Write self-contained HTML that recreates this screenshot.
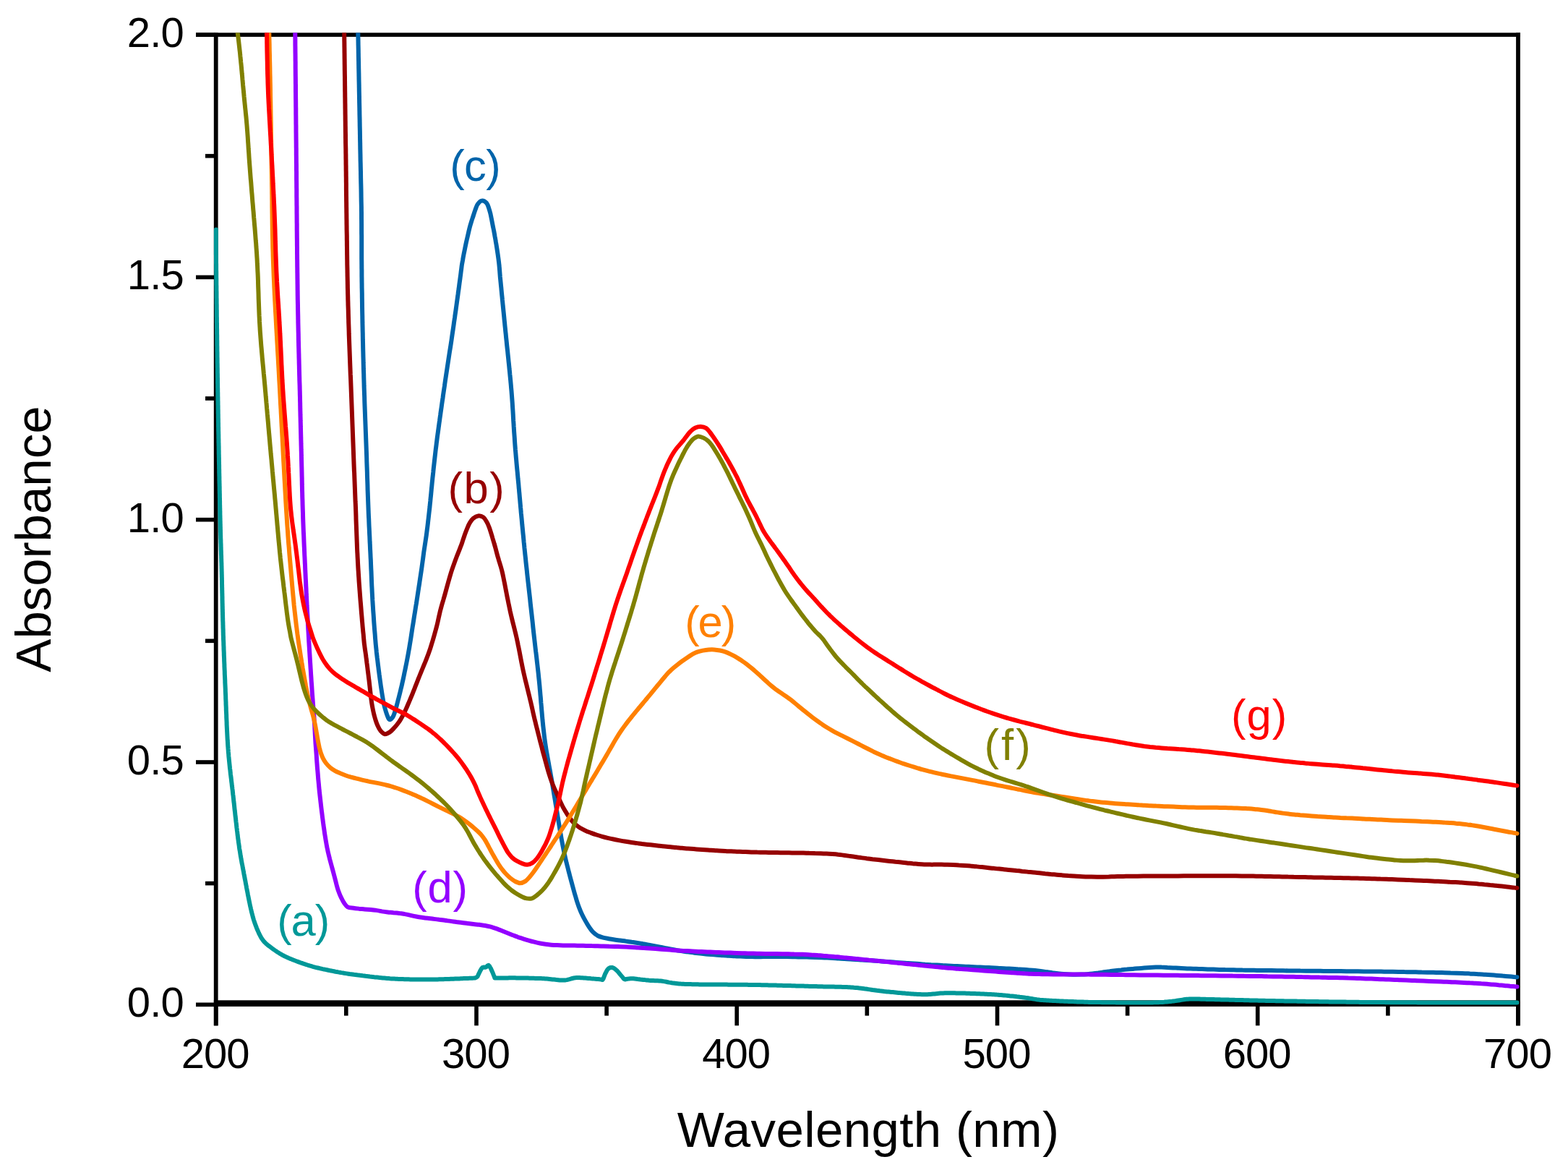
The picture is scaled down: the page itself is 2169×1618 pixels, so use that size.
<!DOCTYPE html>
<html><head><meta charset="utf-8"><title>Absorbance spectra</title>
<style>html,body{margin:0;padding:0;background:#fff;}body{width:2169px;height:1618px;overflow:hidden;}svg{display:block;}</style>
</head><body>
<svg xmlns="http://www.w3.org/2000/svg" width="2169" height="1618" viewBox="0 0 2169 1618">
<defs><clipPath id="pc"><rect x="290" y="45.3" width="1813" height="1350"/></clipPath></defs>
<rect width="100%" height="100%" fill="#fff"/>
<rect x="295.8" y="45.3" width="5.8" height="1373" fill="#000"/>
<rect x="2097.1" y="45.3" width="5.8" height="1373" fill="#000"/>
<rect x="271" y="45.3" width="1832" height="5.6" fill="#000"/>
<rect x="295.8" y="1383.3" width="1807" height="8.6" fill="#000"/>
<rect x="271" y="1386.5" width="27" height="5.6" fill="#000"/>
<rect x="284" y="1218.8" width="14" height="5.6" fill="#000"/>
<rect x="271" y="1051.2" width="27" height="5.6" fill="#000"/>
<rect x="284" y="883.5" width="14" height="5.6" fill="#000"/>
<rect x="271" y="715.9" width="27" height="5.6" fill="#000"/>
<rect x="284" y="548.2" width="14" height="5.6" fill="#000"/>
<rect x="271" y="380.6" width="27" height="5.6" fill="#000"/>
<rect x="284" y="212.9" width="14" height="5.6" fill="#000"/>
<rect x="271" y="45.3" width="27" height="5.6" fill="#000"/>
<rect x="295.9" y="1388" width="5.6" height="30.3" fill="#000"/>
<rect x="476.0" y="1388" width="5.6" height="16.6" fill="#000"/>
<rect x="656.2" y="1388" width="5.6" height="30.3" fill="#000"/>
<rect x="836.3" y="1388" width="5.6" height="16.6" fill="#000"/>
<rect x="1016.4" y="1388" width="5.6" height="30.3" fill="#000"/>
<rect x="1196.5" y="1388" width="5.6" height="16.6" fill="#000"/>
<rect x="1376.7" y="1388" width="5.6" height="30.3" fill="#000"/>
<rect x="1556.8" y="1388" width="5.6" height="16.6" fill="#000"/>
<rect x="1736.9" y="1388" width="5.6" height="30.3" fill="#000"/>
<rect x="1917.1" y="1388" width="5.6" height="16.6" fill="#000"/>
<rect x="2097.2" y="1388" width="5.6" height="30.3" fill="#000"/>
<g clip-path="url(#pc)" fill="none" stroke-width="6.0" stroke-linejoin="round" stroke-linecap="round">
<path stroke="#009898" d="M298.9,317.5 L298.9,319.5 L298.9,321.5 L298.9,323.5 L298.9,325.5 L298.9,327.5 L298.9,329.5 L298.9,331.5 L298.9,333.5 L298.9,335.5 L298.9,337.5 L298.9,339.5 L298.9,341.5 L298.9,343.5 L298.9,345.5 L298.9,347.5 L298.9,349.5 L298.9,351.5 L299.0,353.5 L299.0,355.5 L299.0,357.5 L299.0,359.5 L299.0,361.5 L299.0,363.5 L299.1,365.5 L299.1,367.5 L299.1,369.5 L299.1,371.5 L299.1,373.5 L299.2,375.5 L299.2,377.5 L299.2,379.5 L299.2,381.5 L299.2,383.5 L299.3,385.5 L299.3,387.5 L299.3,389.5 L299.3,391.5 L299.3,393.5 L299.4,395.5 L299.4,397.5 L299.4,399.5 L299.4,401.5 L299.5,403.5 L299.5,405.5 L299.5,407.5 L299.5,409.5 L299.5,411.5 L299.6,413.5 L299.6,415.5 L299.6,417.5 L299.6,419.5 L299.7,421.5 L299.7,423.5 L299.7,425.5 L299.7,427.5 L299.8,429.5 L299.8,431.5 L299.8,433.5 L299.8,435.5 L299.8,437.5 L299.9,439.5 L299.9,441.5 L299.9,443.5 L299.9,445.5 L300.0,447.5 L300.0,449.5 L300.0,451.5 L300.0,453.5 L300.1,455.5 L300.1,457.5 L300.1,459.5 L300.1,461.5 L300.2,463.5 L300.2,465.5 L300.2,467.5 L300.2,469.5 L300.3,471.5 L300.3,473.5 L300.3,475.5 L300.3,477.5 L300.4,479.5 L300.4,481.5 L300.4,483.5 L300.4,485.5 L300.5,487.5 L300.5,489.5 L300.5,491.5 L300.5,493.5 L300.6,495.5 L300.6,497.5 L300.6,499.5 L300.6,501.5 L300.7,503.5 L300.7,505.5 L300.7,507.5 L300.8,509.5 L300.8,511.5 L300.8,513.5 L300.8,515.5 L300.9,517.5 L300.9,519.5 L300.9,521.5 L301.0,523.5 L301.0,525.5 L301.0,527.5 L301.0,529.5 L301.1,531.5 L301.1,533.5 L301.1,535.5 L301.2,537.5 L301.2,539.5 L301.2,541.5 L301.3,543.5 L301.3,545.5 L301.3,547.5 L301.4,549.5 L301.4,551.5 L301.4,553.5 L301.5,555.5 L301.5,557.5 L301.5,559.5 L301.6,561.5 L301.6,563.5 L301.6,565.5 L301.7,567.5 L301.7,569.5 L301.7,571.5 L301.8,573.5 L301.8,575.5 L301.8,577.5 L301.9,579.5 L301.9,581.5 L301.9,583.5 L302.0,585.5 L302.0,587.5 L302.0,589.5 L302.1,591.5 L302.1,593.5 L302.1,595.5 L302.2,597.5 L302.2,599.5 L302.3,601.5 L302.3,603.5 L302.3,605.5 L302.4,607.5 L302.4,609.5 L302.4,611.5 L302.5,613.5 L302.5,615.5 L302.6,617.5 L302.6,619.5 L302.6,621.5 L302.7,623.5 L302.7,625.5 L302.7,627.5 L302.8,629.5 L302.8,631.5 L302.9,633.5 L302.9,635.5 L302.9,637.5 L303.0,639.5 L303.0,641.5 L303.1,643.5 L303.1,645.5 L303.1,647.5 L303.2,649.5 L303.2,651.5 L303.2,653.5 L303.3,655.5 L303.3,657.5 L303.4,659.5 L303.4,661.5 L303.4,663.5 L303.5,665.5 L303.5,667.5 L303.6,669.5 L303.6,671.5 L303.7,673.5 L303.7,675.5 L303.7,677.5 L303.8,679.5 L303.8,681.5 L303.9,683.5 L303.9,685.5 L303.9,687.5 L304.0,689.5 L304.0,691.5 L304.1,693.5 L304.1,695.5 L304.1,697.5 L304.2,699.5 L304.2,701.5 L304.3,703.5 L304.3,705.5 L304.4,707.5 L304.4,709.5 L304.4,711.5 L304.5,713.5 L304.5,715.5 L304.6,717.5 L304.6,719.5 L304.7,721.5 L304.7,723.5 L304.8,725.5 L304.8,727.5 L304.9,729.5 L304.9,731.4 L305.0,733.4 L305.0,735.4 L305.1,737.4 L305.1,739.4 L305.2,741.4 L305.2,743.4 L305.3,745.4 L305.4,747.4 L305.4,749.4 L305.5,751.4 L305.6,753.4 L305.6,755.4 L305.7,757.4 L305.7,759.4 L305.8,761.4 L305.9,763.4 L305.9,765.4 L306.0,767.4 L306.1,769.4 L306.1,771.4 L306.2,773.4 L306.2,775.4 L306.3,777.4 L306.4,779.4 L306.4,781.4 L306.5,783.4 L306.5,785.4 L306.6,787.4 L306.6,789.4 L306.7,791.4 L306.7,793.4 L306.8,795.4 L306.8,797.4 L306.9,799.4 L306.9,801.4 L307.0,803.4 L307.0,805.4 L307.0,807.4 L307.1,809.4 L307.1,811.4 L307.2,813.4 L307.2,815.4 L307.3,817.4 L307.3,819.4 L307.4,821.4 L307.4,823.4 L307.5,825.4 L307.5,827.4 L307.5,829.4 L307.6,831.4 L307.6,833.4 L307.7,835.4 L307.7,837.4 L307.8,839.4 L307.8,841.4 L307.9,843.4 L307.9,845.4 L308.0,847.4 L308.0,849.4 L308.1,851.4 L308.1,853.4 L308.2,855.4 L308.2,857.4 L308.3,859.4 L308.4,861.4 L308.4,863.4 L308.5,865.4 L308.5,867.4 L308.6,869.4 L308.7,871.4 L308.7,873.4 L308.8,875.4 L308.8,877.4 L308.9,879.4 L309.0,881.4 L309.0,883.4 L309.1,885.4 L309.2,887.4 L309.3,889.4 L309.3,891.4 L309.4,893.4 L309.5,895.4 L309.5,897.4 L309.6,899.4 L309.7,901.4 L309.8,903.4 L309.8,905.4 L309.9,907.4 L310.0,909.4 L310.1,911.4 L310.1,913.4 L310.2,915.4 L310.3,917.4 L310.4,919.4 L310.4,921.4 L310.5,923.4 L310.6,925.4 L310.7,927.4 L310.8,929.4 L310.8,931.4 L310.9,933.4 L311.0,935.4 L311.1,937.4 L311.2,939.4 L311.3,941.4 L311.3,943.3 L311.4,945.3 L311.5,947.3 L311.6,949.3 L311.7,951.3 L311.8,953.3 L311.8,955.3 L311.9,957.3 L312.0,959.3 L312.1,961.3 L312.2,963.3 L312.2,965.3 L312.3,967.3 L312.4,969.3 L312.5,971.3 L312.5,973.3 L312.6,975.3 L312.7,977.3 L312.8,979.3 L312.8,981.3 L312.9,983.3 L313.0,985.3 L313.1,987.3 L313.2,989.3 L313.2,991.3 L313.3,993.3 L313.4,995.3 L313.5,997.3 L313.6,999.3 L313.6,1001.3 L313.7,1003.3 L313.8,1005.3 L313.9,1007.3 L314.0,1009.3 L314.1,1011.3 L314.2,1013.3 L314.3,1015.3 L314.4,1017.3 L314.5,1019.3 L314.6,1021.3 L314.7,1023.3 L314.9,1025.3 L315.0,1027.3 L315.1,1029.3 L315.2,1031.3 L315.4,1033.3 L315.5,1035.2 L315.7,1037.2 L315.8,1039.2 L316.0,1041.2 L316.2,1043.2 L316.3,1045.2 L316.5,1047.2 L316.7,1049.2 L316.9,1051.2 L317.1,1053.2 L317.3,1055.2 L317.5,1057.2 L317.7,1059.1 L317.9,1061.1 L318.1,1063.1 L318.4,1065.1 L318.6,1067.1 L318.8,1069.1 L319.0,1071.1 L319.3,1073.1 L319.5,1075.0 L319.8,1077.0 L320.0,1079.0 L320.2,1081.0 L320.5,1083.0 L320.7,1085.0 L320.9,1087.0 L321.2,1088.9 L321.4,1090.9 L321.7,1092.9 L321.9,1094.9 L322.1,1096.9 L322.3,1098.9 L322.6,1100.9 L322.8,1102.9 L323.0,1104.8 L323.2,1106.8 L323.4,1108.8 L323.7,1110.8 L323.9,1112.8 L324.1,1114.8 L324.3,1116.8 L324.5,1118.8 L324.7,1120.7 L325.0,1122.7 L325.2,1124.7 L325.4,1126.7 L325.6,1128.7 L325.9,1130.7 L326.1,1132.7 L326.3,1134.7 L326.5,1136.6 L326.8,1138.6 L327.0,1140.6 L327.2,1142.6 L327.4,1144.6 L327.7,1146.6 L327.9,1148.6 L328.2,1150.6 L328.4,1152.5 L328.6,1154.5 L328.9,1156.5 L329.1,1158.5 L329.4,1160.5 L329.7,1162.5 L329.9,1164.4 L330.2,1166.4 L330.5,1168.4 L330.8,1170.4 L331.0,1172.4 L331.3,1174.3 L331.7,1176.3 L332.0,1178.3 L332.3,1180.3 L332.6,1182.2 L332.9,1184.2 L333.3,1186.2 L333.6,1188.1 L334.0,1190.1 L334.3,1192.1 L334.7,1194.1 L335.1,1196.0 L335.5,1198.0 L335.8,1199.9 L336.2,1201.9 L336.6,1203.9 L337.0,1205.8 L337.3,1207.8 L337.7,1209.8 L338.1,1211.7 L338.4,1213.7 L338.8,1215.7 L339.2,1217.6 L339.6,1219.6 L339.9,1221.6 L340.3,1223.5 L340.7,1225.5 L341.0,1227.5 L341.4,1229.4 L341.8,1231.4 L342.2,1233.3 L342.6,1235.3 L342.9,1237.3 L343.3,1239.2 L343.7,1241.2 L344.1,1243.2 L344.5,1245.1 L344.9,1247.1 L345.3,1249.0 L345.7,1251.0 L346.1,1253.0 L346.6,1254.9 L347.0,1256.9 L347.5,1258.8 L347.9,1260.8 L348.4,1262.7 L348.9,1264.6 L349.4,1266.6 L349.9,1268.5 L350.5,1270.4 L351.0,1272.3 L351.7,1274.2 L352.3,1276.1 L353.0,1278.0 L353.7,1279.9 L354.4,1281.7 L355.1,1283.6 L355.9,1285.5 L356.7,1287.3 L357.5,1289.1 L358.3,1291.0 L359.2,1292.7 L360.1,1294.5 L361.1,1296.3 L362.2,1298.0 L363.3,1299.6 L364.5,1301.2 L365.8,1302.7 L367.2,1304.1 L368.7,1305.5 L370.2,1306.8 L371.8,1308.0 L373.4,1309.2 L375.0,1310.4 L376.6,1311.6 L378.2,1312.8 L379.8,1313.9 L381.5,1315.1 L383.2,1316.2 L384.8,1317.2 L386.5,1318.3 L388.3,1319.3 L390.0,1320.3 L391.7,1321.3 L393.5,1322.2 L395.3,1323.1 L397.1,1323.9 L398.9,1324.8 L400.8,1325.6 L402.6,1326.3 L404.5,1327.1 L406.3,1327.8 L408.2,1328.5 L410.1,1329.2 L411.9,1329.9 L413.8,1330.6 L415.7,1331.3 L417.6,1331.9 L419.5,1332.6 L421.4,1333.2 L423.3,1333.9 L425.2,1334.5 L427.1,1335.1 L429.0,1335.7 L430.9,1336.2 L432.9,1336.8 L434.8,1337.3 L436.7,1337.8 L438.7,1338.3 L440.6,1338.7 L442.6,1339.2 L444.5,1339.6 L446.5,1340.1 L448.4,1340.5 L450.4,1340.9 L452.3,1341.3 L454.3,1341.7 L456.2,1342.1 L458.2,1342.5 L460.2,1342.9 L462.1,1343.3 L464.1,1343.7 L466.1,1344.0 L468.0,1344.4 L470.0,1344.7 L472.0,1345.1 L473.9,1345.4 L475.9,1345.8 L477.9,1346.1 L479.9,1346.4 L481.8,1346.7 L483.8,1347.0 L485.8,1347.2 L487.8,1347.5 L489.8,1347.8 L491.7,1348.0 L493.7,1348.3 L495.7,1348.6 L497.7,1348.8 L499.7,1349.0 L501.7,1349.3 L503.6,1349.5 L505.6,1349.8 L507.6,1350.0 L509.6,1350.2 L511.6,1350.5 L513.6,1350.7 L515.6,1350.9 L517.6,1351.2 L519.5,1351.4 L521.5,1351.6 L523.5,1351.8 L525.5,1352.1 L527.5,1352.3 L529.5,1352.5 L531.5,1352.6 L533.5,1352.8 L535.5,1353.0 L537.5,1353.1 L539.4,1353.3 L541.4,1353.4 L543.4,1353.5 L545.4,1353.6 L547.4,1353.7 L549.4,1353.8 L551.4,1353.9 L553.4,1354.0 L555.4,1354.0 L557.4,1354.1 L559.4,1354.2 L561.4,1354.2 L563.4,1354.3 L565.4,1354.3 L567.4,1354.4 L569.4,1354.4 L571.4,1354.4 L573.4,1354.5 L575.4,1354.5 L577.4,1354.5 L579.4,1354.5 L581.4,1354.6 L583.4,1354.6 L585.4,1354.6 L587.4,1354.6 L589.4,1354.6 L591.4,1354.6 L593.4,1354.6 L595.4,1354.6 L597.4,1354.5 L599.4,1354.5 L601.4,1354.5 L603.4,1354.4 L605.4,1354.4 L607.4,1354.3 L609.4,1354.3 L611.4,1354.2 L613.4,1354.2 L615.4,1354.1 L617.4,1354.0 L619.4,1354.0 L621.4,1353.9 L623.4,1353.8 L625.4,1353.8 L627.4,1353.7 L629.4,1353.6 L631.4,1353.6 L633.4,1353.5 L635.4,1353.4 L637.4,1353.3 L639.4,1353.2 L641.4,1353.1 L643.4,1353.0 L645.4,1352.9 L647.4,1352.9 L649.4,1352.8 L651.4,1352.7 L653.4,1352.7 L655.4,1352.6 L657.4,1352.4 L659.0,1351.6 L660.6,1350.4 L661.4,1348.6 L662.2,1346.8 L663.1,1345.0 L664.0,1343.2 L664.9,1341.4 L665.9,1339.7 L667.2,1338.2 L669.0,1337.6 L671.0,1337.8 L672.7,1337.2 L674.1,1335.7 L675.7,1334.8 L677.1,1336.1 L678.1,1337.9 L679.1,1339.6 L679.9,1341.5 L680.7,1343.3 L681.5,1345.1 L682.3,1347.0 L683.0,1348.8 L683.8,1350.7 L684.4,1352.5 L686.4,1352.6 L688.4,1352.6 L690.4,1352.6 L692.4,1352.6 L694.4,1352.6 L696.4,1352.5 L698.4,1352.5 L700.4,1352.5 L702.4,1352.4 L704.4,1352.3 L706.4,1352.3 L708.4,1352.3 L710.4,1352.3 L712.4,1352.3 L714.4,1352.4 L716.4,1352.4 L718.4,1352.4 L720.4,1352.5 L722.4,1352.5 L724.4,1352.5 L726.4,1352.6 L728.4,1352.6 L730.4,1352.6 L732.4,1352.7 L734.4,1352.7 L736.4,1352.8 L738.4,1352.8 L740.4,1352.9 L742.4,1352.9 L744.4,1353.0 L746.4,1353.1 L748.4,1353.1 L750.3,1353.2 L752.3,1353.3 L754.3,1353.5 L756.3,1353.6 L758.3,1353.8 L760.3,1354.0 L762.3,1354.2 L764.3,1354.4 L766.3,1354.6 L768.3,1354.8 L770.3,1355.1 L772.2,1355.3 L774.2,1355.5 L776.2,1355.6 L778.2,1355.6 L780.2,1355.6 L782.2,1355.4 L784.2,1355.1 L786.1,1354.6 L788.0,1354.1 L789.9,1353.5 L791.8,1353.0 L793.8,1352.5 L795.7,1352.2 L797.7,1352.0 L799.7,1352.0 L801.7,1352.0 L803.7,1352.2 L805.7,1352.3 L807.7,1352.5 L809.7,1352.6 L811.7,1352.8 L813.7,1353.0 L815.7,1353.1 L817.6,1353.3 L819.6,1353.4 L821.6,1353.6 L823.6,1353.7 L825.6,1353.9 L827.6,1354.0 L829.6,1354.3 L831.6,1354.5 L833.5,1355.0 L834.6,1353.4 L835.3,1351.5 L836.0,1349.6 L836.7,1347.8 L837.5,1346.0 L838.5,1344.2 L839.4,1342.4 L840.5,1340.7 L841.8,1339.3 L843.5,1338.3 L845.5,1338.0 L847.5,1338.1 L849.3,1339.0 L850.9,1340.1 L852.4,1341.4 L853.9,1342.8 L855.2,1344.2 L856.5,1345.8 L857.7,1347.4 L859.0,1348.9 L860.3,1350.4 L861.6,1351.9 L862.8,1353.6 L864.4,1354.5 L866.3,1354.0 L868.3,1353.7 L870.3,1353.4 L872.2,1353.2 L874.1,1353.2 L876.1,1353.3 L878.0,1353.5 L880.0,1353.7 L881.9,1354.0 L883.9,1354.2 L885.9,1354.5 L887.9,1354.7 L889.9,1354.9 L891.9,1355.1 L893.9,1355.4 L895.8,1355.6 L897.8,1355.8 L899.8,1355.9 L901.8,1356.1 L903.8,1356.1 L905.8,1356.2 L907.8,1356.2 L909.8,1356.3 L911.8,1356.4 L913.8,1356.6 L915.8,1356.8 L917.8,1357.1 L919.7,1357.4 L921.7,1357.8 L923.6,1358.2 L925.6,1358.6 L927.6,1358.9 L929.5,1359.3 L931.5,1359.6 L933.5,1359.8 L935.5,1360.0 L937.5,1360.2 L939.5,1360.4 L941.5,1360.6 L943.5,1360.7 L945.5,1360.8 L947.5,1360.9 L949.5,1361.0 L951.5,1361.0 L953.5,1361.1 L955.5,1361.1 L957.5,1361.2 L959.5,1361.2 L961.5,1361.3 L963.5,1361.3 L965.5,1361.3 L967.5,1361.4 L969.5,1361.4 L971.5,1361.4 L973.5,1361.4 L975.5,1361.5 L977.5,1361.5 L979.5,1361.5 L981.5,1361.5 L983.5,1361.5 L985.5,1361.5 L987.5,1361.5 L989.5,1361.6 L991.5,1361.6 L993.5,1361.6 L995.5,1361.6 L997.5,1361.6 L999.5,1361.6 L1001.5,1361.6 L1003.5,1361.6 L1005.5,1361.6 L1007.5,1361.7 L1009.5,1361.7 L1011.5,1361.7 L1013.5,1361.7 L1015.5,1361.7 L1017.5,1361.7 L1019.5,1361.7 L1021.5,1361.7 L1023.5,1361.8 L1025.5,1361.8 L1027.5,1361.8 L1029.5,1361.8 L1031.5,1361.8 L1033.5,1361.8 L1035.5,1361.9 L1037.5,1361.9 L1039.5,1361.9 L1041.5,1361.9 L1043.5,1362.0 L1045.5,1362.0 L1047.5,1362.0 L1049.5,1362.1 L1051.4,1362.1 L1053.4,1362.2 L1055.4,1362.2 L1057.4,1362.2 L1059.4,1362.3 L1061.4,1362.3 L1063.4,1362.4 L1065.4,1362.4 L1067.4,1362.5 L1069.4,1362.5 L1071.4,1362.6 L1073.4,1362.6 L1075.4,1362.7 L1077.4,1362.7 L1079.4,1362.8 L1081.4,1362.8 L1083.4,1362.9 L1085.4,1362.9 L1087.4,1363.0 L1089.4,1363.0 L1091.4,1363.1 L1093.4,1363.1 L1095.4,1363.2 L1097.4,1363.2 L1099.4,1363.3 L1101.4,1363.4 L1103.4,1363.4 L1105.4,1363.5 L1107.4,1363.5 L1109.4,1363.6 L1111.4,1363.6 L1113.4,1363.7 L1115.4,1363.7 L1117.4,1363.8 L1119.4,1363.9 L1121.4,1363.9 L1123.4,1364.0 L1125.4,1364.0 L1127.4,1364.1 L1129.4,1364.1 L1131.4,1364.2 L1133.4,1364.2 L1135.4,1364.3 L1137.4,1364.3 L1139.4,1364.4 L1141.4,1364.4 L1143.4,1364.5 L1145.4,1364.5 L1147.4,1364.5 L1149.4,1364.6 L1151.4,1364.6 L1153.4,1364.6 L1155.4,1364.7 L1157.4,1364.7 L1159.4,1364.7 L1161.4,1364.8 L1163.4,1364.8 L1165.4,1364.9 L1167.4,1365.0 L1169.4,1365.0 L1171.4,1365.1 L1173.4,1365.2 L1175.4,1365.3 L1177.4,1365.5 L1179.4,1365.6 L1181.4,1365.8 L1183.4,1365.9 L1185.4,1366.1 L1187.4,1366.3 L1189.3,1366.6 L1191.3,1366.8 L1193.3,1367.0 L1195.3,1367.3 L1197.3,1367.6 L1199.3,1367.8 L1201.2,1368.1 L1203.2,1368.4 L1205.2,1368.7 L1207.2,1369.0 L1209.2,1369.2 L1211.1,1369.5 L1213.1,1369.8 L1215.1,1370.0 L1217.1,1370.3 L1219.1,1370.5 L1221.1,1370.7 L1223.1,1371.0 L1225.0,1371.2 L1227.0,1371.4 L1229.0,1371.6 L1231.0,1371.8 L1233.0,1372.0 L1235.0,1372.1 L1237.0,1372.3 L1239.0,1372.5 L1241.0,1372.7 L1243.0,1372.9 L1245.0,1373.1 L1246.9,1373.2 L1248.9,1373.4 L1250.9,1373.6 L1252.9,1373.8 L1254.9,1373.9 L1256.9,1374.1 L1258.9,1374.2 L1260.9,1374.4 L1262.9,1374.5 L1264.9,1374.7 L1266.9,1374.8 L1268.9,1374.9 L1270.9,1375.0 L1272.9,1375.1 L1274.9,1375.2 L1276.9,1375.2 L1278.9,1375.2 L1280.9,1375.2 L1282.9,1375.2 L1284.9,1375.1 L1286.9,1375.0 L1288.8,1374.8 L1290.8,1374.6 L1292.8,1374.4 L1294.8,1374.2 L1296.8,1374.0 L1298.8,1373.8 L1300.8,1373.6 L1302.8,1373.5 L1304.8,1373.4 L1306.8,1373.3 L1308.8,1373.3 L1310.8,1373.3 L1312.8,1373.2 L1314.8,1373.2 L1316.8,1373.3 L1318.8,1373.3 L1320.8,1373.3 L1322.8,1373.4 L1324.8,1373.4 L1326.8,1373.4 L1328.8,1373.5 L1330.8,1373.5 L1332.8,1373.6 L1334.8,1373.6 L1336.8,1373.7 L1338.8,1373.8 L1340.8,1373.8 L1342.8,1373.9 L1344.8,1373.9 L1346.8,1374.0 L1348.8,1374.1 L1350.8,1374.2 L1352.8,1374.2 L1354.8,1374.3 L1356.7,1374.4 L1358.7,1374.5 L1360.7,1374.6 L1362.7,1374.7 L1364.7,1374.8 L1366.7,1374.9 L1368.7,1375.0 L1370.7,1375.1 L1372.7,1375.2 L1374.7,1375.3 L1376.7,1375.4 L1378.7,1375.6 L1380.7,1375.7 L1382.7,1375.9 L1384.7,1376.0 L1386.7,1376.2 L1388.7,1376.4 L1390.7,1376.6 L1392.7,1376.7 L1394.7,1376.9 L1396.6,1377.2 L1398.6,1377.4 L1400.6,1377.6 L1402.6,1377.8 L1404.6,1378.0 L1406.6,1378.3 L1408.6,1378.5 L1410.6,1378.8 L1412.5,1379.0 L1414.5,1379.2 L1416.5,1379.5 L1418.5,1379.8 L1420.5,1380.0 L1422.4,1380.3 L1424.4,1380.6 L1426.4,1380.9 L1428.4,1381.3 L1430.3,1381.6 L1432.3,1381.9 L1434.3,1382.2 L1436.3,1382.4 L1438.3,1382.7 L1440.3,1382.9 L1442.2,1383.0 L1444.2,1383.2 L1446.2,1383.3 L1448.2,1383.5 L1450.2,1383.6 L1452.2,1383.7 L1454.2,1383.8 L1456.2,1383.9 L1458.2,1384.0 L1460.2,1384.1 L1462.2,1384.2 L1464.2,1384.3 L1466.2,1384.4 L1468.2,1384.5 L1470.2,1384.6 L1472.2,1384.7 L1474.2,1384.7 L1476.2,1384.8 L1478.2,1384.9 L1480.2,1385.0 L1482.2,1385.1 L1484.2,1385.1 L1486.2,1385.2 L1488.2,1385.3 L1490.2,1385.4 L1492.2,1385.4 L1494.2,1385.5 L1496.2,1385.6 L1498.2,1385.6 L1500.2,1385.7 L1502.2,1385.8 L1504.2,1385.8 L1506.2,1385.9 L1508.2,1385.9 L1510.2,1386.0 L1512.2,1386.0 L1514.2,1386.0 L1516.2,1386.1 L1518.2,1386.1 L1520.2,1386.1 L1522.2,1386.1 L1524.2,1386.2 L1526.2,1386.2 L1528.2,1386.2 L1530.2,1386.2 L1532.2,1386.2 L1534.2,1386.3 L1536.2,1386.3 L1538.2,1386.3 L1540.2,1386.3 L1542.2,1386.3 L1544.2,1386.4 L1546.2,1386.4 L1548.2,1386.4 L1550.2,1386.4 L1552.2,1386.4 L1554.2,1386.4 L1556.2,1386.4 L1558.2,1386.4 L1560.2,1386.5 L1562.2,1386.5 L1564.2,1386.5 L1566.2,1386.5 L1568.2,1386.5 L1570.2,1386.5 L1572.2,1386.5 L1574.2,1386.5 L1576.2,1386.5 L1578.2,1386.5 L1580.2,1386.5 L1582.2,1386.5 L1584.2,1386.5 L1586.2,1386.4 L1588.2,1386.4 L1590.2,1386.4 L1592.2,1386.4 L1594.2,1386.4 L1596.2,1386.3 L1598.2,1386.3 L1600.2,1386.2 L1602.2,1386.2 L1604.2,1386.1 L1606.2,1386.0 L1608.2,1385.9 L1610.2,1385.8 L1612.2,1385.6 L1614.1,1385.5 L1616.1,1385.3 L1618.1,1385.1 L1620.1,1384.9 L1622.1,1384.6 L1624.1,1384.4 L1626.1,1384.1 L1628.0,1383.8 L1630.0,1383.5 L1631.9,1383.2 L1633.8,1382.9 L1635.7,1382.6 L1637.6,1382.3 L1639.4,1382.0 L1641.3,1381.8 L1643.2,1381.7 L1645.2,1381.6 L1647.2,1381.5 L1649.2,1381.5 L1651.1,1381.5 L1653.1,1381.6 L1655.1,1381.6 L1657.1,1381.6 L1659.1,1381.6 L1661.1,1381.7 L1663.1,1381.7 L1665.1,1381.8 L1667.1,1381.8 L1669.1,1381.9 L1671.1,1381.9 L1673.1,1382.0 L1675.1,1382.0 L1677.1,1382.1 L1679.1,1382.1 L1681.1,1382.2 L1683.1,1382.2 L1685.1,1382.3 L1687.1,1382.3 L1689.1,1382.4 L1691.1,1382.4 L1693.1,1382.5 L1695.1,1382.5 L1697.1,1382.6 L1699.1,1382.6 L1701.1,1382.7 L1703.1,1382.7 L1705.1,1382.8 L1707.1,1382.8 L1709.1,1382.9 L1711.1,1382.9 L1713.1,1383.0 L1715.1,1383.0 L1717.1,1383.1 L1719.1,1383.1 L1721.1,1383.2 L1723.1,1383.2 L1725.1,1383.3 L1727.1,1383.3 L1729.1,1383.4 L1731.1,1383.4 L1733.1,1383.5 L1735.1,1383.5 L1737.1,1383.6 L1739.1,1383.6 L1741.1,1383.7 L1743.1,1383.7 L1745.1,1383.8 L1747.1,1383.8 L1749.1,1383.8 L1751.1,1383.9 L1753.1,1383.9 L1755.1,1384.0 L1757.1,1384.0 L1759.1,1384.0 L1761.1,1384.1 L1763.1,1384.1 L1765.1,1384.2 L1767.1,1384.2 L1769.1,1384.2 L1771.1,1384.3 L1773.1,1384.3 L1775.1,1384.3 L1777.1,1384.4 L1779.1,1384.4 L1781.1,1384.4 L1783.1,1384.5 L1785.1,1384.5 L1787.1,1384.5 L1789.1,1384.6 L1791.1,1384.6 L1793.1,1384.6 L1795.1,1384.7 L1797.1,1384.7 L1799.1,1384.7 L1801.1,1384.8 L1803.1,1384.8 L1805.1,1384.8 L1807.1,1384.9 L1809.1,1384.9 L1811.1,1384.9 L1813.1,1385.0 L1815.1,1385.0 L1817.1,1385.0 L1819.1,1385.1 L1821.1,1385.1 L1823.1,1385.1 L1825.1,1385.2 L1827.1,1385.2 L1829.1,1385.2 L1831.1,1385.2 L1833.1,1385.3 L1835.1,1385.3 L1837.1,1385.3 L1839.1,1385.4 L1841.1,1385.4 L1843.1,1385.4 L1845.1,1385.4 L1847.1,1385.5 L1849.1,1385.5 L1851.1,1385.5 L1853.1,1385.5 L1855.1,1385.6 L1857.1,1385.6 L1859.1,1385.6 L1861.1,1385.6 L1863.1,1385.7 L1865.1,1385.7 L1867.1,1385.7 L1869.1,1385.7 L1871.1,1385.8 L1873.1,1385.8 L1875.1,1385.8 L1877.1,1385.8 L1879.1,1385.8 L1881.1,1385.9 L1883.1,1385.9 L1885.1,1385.9 L1887.1,1385.9 L1889.1,1385.9 L1891.1,1386.0 L1893.1,1386.0 L1895.1,1386.0 L1897.1,1386.0 L1899.1,1386.0 L1901.1,1386.0 L1903.1,1386.1 L1905.1,1386.1 L1907.1,1386.1 L1909.1,1386.1 L1911.1,1386.1 L1913.1,1386.1 L1915.1,1386.1 L1917.1,1386.2 L1919.1,1386.2 L1921.1,1386.2 L1923.1,1386.2 L1925.1,1386.2 L1927.1,1386.2 L1929.1,1386.2 L1931.1,1386.2 L1933.1,1386.2 L1935.1,1386.3 L1937.1,1386.3 L1939.1,1386.3 L1941.1,1386.3 L1943.1,1386.3 L1945.1,1386.3 L1947.1,1386.3 L1949.1,1386.3 L1951.1,1386.3 L1953.1,1386.3 L1955.1,1386.3 L1957.1,1386.3 L1959.1,1386.3 L1961.1,1386.4 L1963.1,1386.4 L1965.1,1386.4 L1967.1,1386.4 L1969.1,1386.4 L1971.1,1386.4 L1973.1,1386.4 L1975.1,1386.4 L1977.1,1386.4 L1979.1,1386.4 L1981.1,1386.4 L1983.1,1386.4 L1985.1,1386.4 L1987.1,1386.4 L1989.1,1386.4 L1991.1,1386.4 L1993.1,1386.4 L1995.1,1386.4 L1997.1,1386.4 L1999.1,1386.4 L2001.1,1386.5 L2003.1,1386.5 L2005.1,1386.5 L2007.1,1386.5 L2009.1,1386.5 L2011.1,1386.5 L2013.1,1386.5 L2015.1,1386.5 L2017.1,1386.5 L2019.1,1386.5 L2021.1,1386.5 L2023.1,1386.5 L2025.1,1386.5 L2027.1,1386.5 L2029.1,1386.5 L2031.1,1386.5 L2033.1,1386.5 L2035.1,1386.5 L2037.1,1386.5 L2039.1,1386.5 L2041.1,1386.5 L2043.1,1386.5 L2045.1,1386.5 L2047.1,1386.5 L2049.1,1386.5 L2051.1,1386.5 L2053.1,1386.5 L2055.1,1386.5 L2057.1,1386.5 L2059.1,1386.5 L2061.1,1386.5 L2063.1,1386.5 L2065.1,1386.5 L2067.1,1386.6 L2069.1,1386.6 L2071.1,1386.6 L2073.1,1386.6 L2075.1,1386.6 L2077.1,1386.6 L2079.1,1386.6 L2081.1,1386.6 L2083.1,1386.6 L2085.1,1386.6 L2087.1,1386.6 L2089.1,1386.6 L2091.1,1386.6 L2093.1,1386.6 L2095.0,1386.6 L2097.0,1386.6 L2098.5,1386.6"/>
<path stroke="#0064AA" d="M495.3,46.0 C495.3,47.3 495.4,51.3 495.5,54.0 C495.5,56.7 495.6,59.3 495.6,62.0 C495.7,64.7 495.7,67.3 495.8,70.0 C495.8,72.7 495.9,75.3 495.9,78.0 C496.0,80.7 496.0,83.3 496.1,86.0 C496.1,88.7 496.2,91.3 496.2,94.0 C496.3,96.7 496.3,99.3 496.4,102.0 C496.4,104.7 496.5,107.3 496.5,110.0 C496.6,112.7 496.6,115.3 496.7,118.0 C496.7,120.7 496.8,123.3 496.8,126.0 C496.9,128.7 496.9,131.3 497.0,134.0 C497.0,136.7 497.1,139.3 497.1,142.0 C497.2,144.6 497.2,147.3 497.3,150.0 C497.3,152.6 497.4,155.3 497.4,158.0 C497.5,160.6 497.5,163.3 497.6,166.0 C497.6,168.6 497.7,171.3 497.7,174.0 C497.8,176.6 497.8,179.3 497.9,182.0 C497.9,184.6 498.0,187.3 498.0,190.0 C498.1,192.6 498.1,195.3 498.2,198.0 C498.2,200.6 498.3,203.3 498.3,206.0 C498.4,208.6 498.4,211.3 498.5,214.0 C498.5,216.6 498.6,219.3 498.6,222.0 C498.7,224.6 498.8,227.3 498.8,230.0 C498.9,232.6 498.9,235.3 499.0,238.0 C499.0,240.6 499.1,243.3 499.1,246.0 C499.2,248.6 499.2,251.3 499.3,254.0 C499.4,256.6 499.4,259.3 499.5,262.0 C499.5,264.6 499.6,267.3 499.6,270.0 C499.6,272.6 499.7,275.3 499.7,278.0 C499.8,280.6 499.8,283.3 499.9,286.0 C499.9,288.6 499.9,291.3 500.0,294.0 C500.0,296.6 500.0,299.3 500.0,302.0 C500.1,304.6 500.1,307.3 500.1,310.0 C500.1,312.6 500.1,315.3 500.1,318.0 C500.1,320.6 500.1,323.3 500.2,326.0 C500.2,328.6 500.2,331.3 500.2,334.0 C500.2,336.6 500.2,339.3 500.2,342.0 C500.2,344.6 500.2,347.3 500.2,350.0 C500.2,352.6 500.2,355.3 500.2,358.0 C500.3,360.6 500.3,363.3 500.3,366.0 C500.3,368.6 500.3,371.3 500.4,374.0 C500.4,376.6 500.4,379.3 500.4,382.0 C500.5,384.6 500.5,387.3 500.5,390.0 C500.6,392.6 500.6,395.3 500.6,398.0 C500.7,400.6 500.7,403.3 500.8,406.0 C500.8,408.6 500.8,411.3 500.9,414.0 C500.9,416.6 501.0,419.3 501.0,421.9 C501.0,424.6 501.1,427.3 501.1,429.9 C501.2,432.6 501.2,435.3 501.3,437.9 C501.3,440.6 501.4,443.3 501.4,445.9 C501.5,448.6 501.5,451.3 501.6,453.9 C501.6,456.6 501.7,459.3 501.8,461.9 C501.8,464.6 501.9,467.3 501.9,469.9 C502.0,472.6 502.1,475.3 502.1,477.9 C502.2,480.6 502.2,483.3 502.3,485.9 C502.4,488.6 502.4,491.3 502.5,493.9 C502.6,496.6 502.7,499.3 502.7,501.9 C502.8,504.6 502.9,507.3 502.9,509.9 C503.0,512.6 503.1,515.3 503.2,517.9 C503.2,520.6 503.3,523.3 503.4,525.9 C503.5,528.6 503.6,531.3 503.6,533.9 C503.7,536.6 503.8,539.2 503.9,541.9 C504.0,544.6 504.1,547.2 504.2,549.9 C504.2,552.6 504.3,555.2 504.4,557.9 C504.5,560.6 504.6,563.2 504.7,565.9 C504.8,568.6 504.9,571.2 505.0,573.9 C505.1,576.6 505.2,579.2 505.3,581.9 C505.4,584.6 505.5,587.2 505.6,589.9 C505.7,592.5 505.8,595.2 505.9,597.9 C506.0,600.5 506.1,603.2 506.2,605.9 C506.3,608.5 506.4,611.2 506.5,613.9 C506.6,616.5 506.7,619.2 506.8,621.9 C506.9,624.5 507.0,627.2 507.1,629.9 C507.2,632.5 507.3,635.2 507.3,637.9 C507.4,640.5 507.5,643.2 507.6,645.8 C507.7,648.5 507.8,651.2 507.9,653.8 C507.9,656.5 508.0,659.2 508.1,661.8 C508.2,664.5 508.3,667.2 508.4,669.8 C508.5,672.5 508.5,675.2 508.6,677.8 C508.7,680.5 508.8,683.2 508.9,685.8 C509.0,688.5 509.1,691.2 509.2,693.8 C509.3,696.5 509.4,699.1 509.5,701.8 C509.6,704.5 509.7,707.1 509.8,709.8 C509.9,712.5 510.0,715.1 510.2,717.8 C510.3,720.5 510.4,723.1 510.5,725.8 C510.6,728.5 510.8,731.1 510.9,733.8 C511.0,736.4 511.1,739.1 511.3,741.8 C511.4,744.4 511.5,747.1 511.6,749.8 C511.8,752.4 511.9,755.1 512.0,757.8 C512.1,760.4 512.3,763.1 512.4,765.7 C512.5,768.4 512.6,771.1 512.8,773.7 C512.9,776.4 513.0,779.1 513.1,781.7 C513.2,784.4 513.3,787.1 513.5,789.7 C513.6,792.4 513.7,795.1 513.8,797.7 C513.9,800.4 514.0,803.0 514.1,805.7 C514.2,808.4 514.3,811.0 514.5,813.7 C514.6,816.4 514.7,819.0 514.9,821.7 C515.0,824.4 515.2,827.0 515.3,829.7 C515.5,832.3 515.6,835.0 515.8,837.7 C516.0,840.3 516.1,843.0 516.3,845.6 C516.5,848.3 516.7,851.0 516.9,853.6 C517.0,856.3 517.2,858.9 517.4,861.6 C517.6,864.3 517.8,866.9 518.0,869.6 C518.2,872.2 518.5,874.9 518.7,877.6 C518.9,880.2 519.0,882.9 519.3,885.5 C519.5,888.2 519.7,890.8 520.0,893.5 C520.3,896.2 520.6,898.8 520.8,901.5 C521.1,904.1 521.4,906.8 521.7,909.4 C522.1,912.1 522.4,914.7 522.7,917.3 C523.0,920.0 523.4,922.6 523.7,925.3 C524.0,927.9 524.4,930.6 524.7,933.2 C525.1,935.9 525.4,938.5 525.8,941.1 C526.2,943.8 526.5,946.4 526.9,949.1 C527.3,951.7 527.7,954.4 528.1,957.0 C528.5,959.6 528.9,962.3 529.4,964.9 C529.8,967.5 530.3,970.1 530.8,972.7 C531.4,975.3 532.0,977.9 532.8,980.5 C533.5,983.1 534.3,985.7 535.2,988.1 C536.2,990.5 537.2,994.4 538.6,995.0 C539.9,995.6 542.0,993.5 543.3,991.7 C544.6,989.9 545.4,986.8 546.3,984.3 C547.2,981.8 547.8,979.2 548.5,976.6 C549.2,974.0 549.9,971.4 550.5,968.8 C551.2,966.3 551.9,963.7 552.5,961.1 C553.2,958.5 553.8,955.9 554.4,953.3 C555.1,950.7 555.7,948.1 556.3,945.5 C556.8,942.9 557.4,940.3 558.0,937.7 C558.5,935.1 559.1,932.5 559.6,929.9 C560.2,927.3 560.7,924.7 561.2,922.1 C561.8,919.4 562.3,916.8 562.8,914.2 C563.3,911.6 563.8,909.0 564.3,906.4 C564.8,903.7 565.2,901.1 565.7,898.5 C566.2,895.9 566.6,893.2 567.0,890.6 C567.5,888.0 567.9,885.3 568.3,882.7 C568.7,880.1 569.1,877.4 569.5,874.8 C569.9,872.2 570.3,869.5 570.7,866.9 C571.2,864.2 571.6,861.6 572.0,859.0 C572.4,856.3 572.8,853.7 573.2,851.1 C573.7,848.4 574.1,845.8 574.5,843.2 C574.9,840.5 575.3,837.9 575.8,835.3 C576.2,832.6 576.6,830.0 577.0,827.4 C577.4,824.7 577.8,822.1 578.2,819.5 C578.6,816.8 579.0,814.2 579.4,811.6 C579.9,808.9 580.3,806.3 580.6,803.7 C581.0,801.0 581.4,798.4 581.8,795.7 C582.2,793.1 582.6,790.5 583.0,787.8 C583.4,785.2 583.7,782.5 584.1,779.9 C584.5,777.3 584.8,774.6 585.2,772.0 C585.5,769.3 585.9,766.7 586.2,764.0 C586.6,761.4 587.0,758.8 587.4,756.1 C587.8,753.5 588.2,750.9 588.6,748.2 C589.0,745.6 589.4,742.9 589.8,740.3 C590.1,737.7 590.5,735.0 590.8,732.4 C591.2,729.7 591.5,727.1 591.8,724.4 C592.1,721.8 592.4,719.1 592.7,716.5 C593.0,713.8 593.3,711.2 593.6,708.5 C593.9,705.9 594.2,703.2 594.5,700.6 C594.7,697.9 595.0,695.3 595.3,692.6 C595.5,690.0 595.8,687.3 596.1,684.7 C596.3,682.0 596.6,679.4 596.8,676.7 C597.1,674.1 597.4,671.4 597.6,668.7 C597.9,666.1 598.2,663.4 598.4,660.8 C598.7,658.1 599.0,655.5 599.3,652.8 C599.5,650.2 599.8,647.5 600.1,644.9 C600.4,642.2 600.7,639.6 601.0,636.9 C601.3,634.3 601.6,631.6 601.9,629.0 C602.2,626.3 602.5,623.7 602.8,621.0 C603.2,618.4 603.5,615.7 603.8,613.1 C604.2,610.4 604.5,607.8 604.8,605.2 C605.2,602.5 605.5,599.9 605.9,597.2 C606.3,594.6 606.6,591.9 607.0,589.3 C607.3,586.7 607.7,584.0 608.1,581.4 C608.4,578.7 608.8,576.1 609.2,573.4 C609.5,570.8 609.9,568.2 610.3,565.5 C610.7,562.9 611.0,560.2 611.4,557.6 C611.8,555.0 612.2,552.3 612.6,549.7 C612.9,547.1 613.3,544.4 613.7,541.8 C614.1,539.1 614.5,536.5 614.9,533.9 C615.2,531.2 615.6,528.6 616.0,525.9 C616.4,523.3 616.8,520.7 617.2,518.0 C617.6,515.4 618.0,512.8 618.4,510.1 C618.8,507.5 619.2,504.8 619.6,502.2 C620.0,499.6 620.4,496.9 620.8,494.3 C621.2,491.7 621.6,489.0 622.0,486.4 C622.4,483.8 622.9,481.1 623.3,478.5 C623.7,475.9 624.1,473.2 624.5,470.6 C624.9,467.9 625.2,465.3 625.6,462.7 C626.0,460.0 626.4,457.4 626.8,454.8 C627.2,452.1 627.6,449.5 627.9,446.8 C628.3,444.2 628.7,441.6 629.1,438.9 C629.4,436.3 629.8,433.6 630.2,431.0 C630.6,428.4 630.9,425.7 631.3,423.1 C631.7,420.4 632.0,417.8 632.4,415.1 C632.8,412.5 633.1,409.9 633.5,407.2 C633.8,404.6 634.2,401.9 634.6,399.3 C634.9,396.7 635.3,394.0 635.6,391.4 C636.0,388.7 636.4,386.1 636.7,383.4 C637.1,380.8 637.4,378.1 637.7,375.5 C638.1,372.9 638.4,370.2 638.7,367.6 C639.1,364.9 639.6,362.3 640.1,359.7 C640.5,357.1 641.0,354.4 641.5,351.8 C642.0,349.2 642.6,346.6 643.1,344.0 C643.6,341.4 644.2,338.8 644.7,336.1 C645.3,333.5 645.9,330.9 646.5,328.3 C647.1,325.7 647.7,323.1 648.3,320.5 C648.9,318.0 649.5,315.4 650.2,312.8 C650.9,310.2 651.7,307.7 652.5,305.1 C653.3,302.6 654.2,300.1 655.0,297.5 C655.9,295.0 656.6,292.4 657.5,289.9 C658.5,287.4 659.2,284.6 660.6,282.6 C662.1,280.5 664.4,277.9 666.4,277.6 C668.5,277.3 671.5,279.1 673.2,280.9 C674.8,282.7 675.5,285.7 676.3,288.2 C677.2,290.7 677.8,293.3 678.5,295.9 C679.1,298.5 679.5,301.1 680.1,303.7 C680.6,306.4 681.1,309.0 681.6,311.6 C682.1,314.2 682.7,316.8 683.2,319.4 C683.7,322.1 684.2,324.7 684.6,327.3 C685.1,329.9 685.6,332.6 686.0,335.2 C686.5,337.8 686.9,340.4 687.3,343.1 C687.7,345.7 688.1,348.4 688.5,351.0 C688.9,353.6 689.2,356.3 689.6,358.9 C689.9,361.6 690.3,364.2 690.5,366.9 C690.8,369.5 691.0,372.2 691.2,374.8 C691.4,377.5 691.6,380.1 691.8,382.8 C692.1,385.5 692.3,388.1 692.6,390.8 C692.8,393.4 693.1,396.1 693.4,398.7 C693.6,401.4 693.9,404.0 694.1,406.7 C694.4,409.3 694.7,412.0 694.9,414.6 C695.2,417.3 695.4,420.0 695.7,422.6 C696.0,425.3 696.2,427.9 696.5,430.6 C696.8,433.2 697.0,435.9 697.3,438.5 C697.5,441.2 697.8,443.8 698.1,446.5 C698.3,449.1 698.6,451.8 698.9,454.5 C699.1,457.1 699.4,459.8 699.7,462.4 C699.9,465.1 700.2,467.7 700.5,470.4 C700.8,473.0 701.0,475.7 701.3,478.3 C701.6,481.0 701.9,483.6 702.2,486.3 C702.4,488.9 702.7,491.6 703.0,494.2 C703.3,496.9 703.5,499.5 703.8,502.2 C704.1,504.9 704.4,507.5 704.6,510.2 C704.9,512.8 705.2,515.5 705.4,518.1 C705.7,520.8 705.9,523.4 706.2,526.1 C706.4,528.7 706.7,531.4 706.9,534.0 C707.1,536.7 707.4,539.4 707.6,542.0 C707.8,544.7 708.0,547.3 708.2,550.0 C708.4,552.7 708.6,555.3 708.8,558.0 C708.9,560.6 709.1,563.3 709.3,566.0 C709.5,568.6 709.6,571.3 709.8,573.9 C709.9,576.6 710.1,579.3 710.2,581.9 C710.4,584.6 710.6,587.3 710.7,589.9 C710.9,592.6 711.0,595.2 711.2,597.9 C711.4,600.6 711.6,603.2 711.8,605.9 C711.9,608.5 712.1,611.2 712.3,613.9 C712.5,616.5 712.7,619.2 712.9,621.8 C713.2,624.5 713.4,627.2 713.6,629.8 C713.8,632.5 714.1,635.1 714.3,637.8 C714.5,640.4 714.8,643.1 715.0,645.7 C715.3,648.4 715.5,651.1 715.8,653.7 C716.0,656.4 716.3,659.0 716.5,661.7 C716.8,664.3 717.0,667.0 717.3,669.6 C717.5,672.3 717.7,675.0 718.0,677.6 C718.2,680.3 718.5,682.9 718.7,685.6 C718.9,688.2 719.2,690.9 719.4,693.5 C719.6,696.2 719.9,698.9 720.1,701.5 C720.4,704.2 720.6,706.8 720.8,709.5 C721.1,712.1 721.3,714.8 721.6,717.4 C721.8,720.1 722.1,722.8 722.3,725.4 C722.6,728.1 722.8,730.7 723.1,733.4 C723.3,736.0 723.6,738.7 723.9,741.3 C724.1,744.0 724.4,746.6 724.6,749.3 C724.9,752.0 725.2,754.6 725.4,757.3 C725.7,759.9 726.0,762.6 726.2,765.2 C726.5,767.9 726.8,770.5 727.1,773.2 C727.3,775.8 727.6,778.5 727.9,781.1 C728.2,783.8 728.5,786.4 728.8,789.1 C729.0,791.7 729.3,794.4 729.6,797.0 C729.9,799.7 730.2,802.3 730.5,805.0 C730.8,807.6 731.1,810.3 731.4,812.9 C731.7,815.6 732.0,818.2 732.3,820.9 C732.6,823.5 732.9,826.2 733.2,828.8 C733.4,831.5 733.7,834.1 734.0,836.8 C734.3,839.4 734.6,842.1 734.9,844.7 C735.2,847.4 735.5,850.0 735.8,852.7 C736.1,855.3 736.4,858.0 736.7,860.7 C737.0,863.3 737.2,866.0 737.5,868.6 C737.8,871.3 738.1,873.9 738.4,876.6 C738.7,879.2 739.0,881.9 739.3,884.5 C739.6,887.2 739.9,889.8 740.2,892.5 C740.5,895.1 740.8,897.7 741.1,900.4 C741.5,903.0 741.8,905.7 742.1,908.3 C742.4,911.0 742.7,913.6 743.0,916.3 C743.3,918.9 743.6,921.6 743.9,924.2 C744.2,926.9 744.5,929.5 744.8,932.2 C745.0,934.8 745.3,937.5 745.6,940.1 C745.9,942.8 746.1,945.5 746.4,948.1 C746.6,950.8 746.8,953.4 747.1,956.1 C747.3,958.7 747.5,961.4 747.8,964.0 C748.0,966.7 748.2,969.4 748.4,972.0 C748.7,974.7 748.9,977.3 749.1,980.0 C749.3,982.6 749.6,985.3 749.8,988.0 C750.0,990.6 750.3,993.3 750.5,995.9 C750.8,998.6 751.0,1001.2 751.3,1003.9 C751.6,1006.5 751.9,1009.2 752.2,1011.8 C752.5,1014.5 752.8,1017.1 753.1,1019.8 C753.5,1022.4 753.8,1025.1 754.2,1027.7 C754.6,1030.3 755.0,1033.0 755.4,1035.6 C755.8,1038.2 756.3,1040.9 756.8,1043.5 C757.2,1046.1 757.7,1048.7 758.2,1051.4 C758.7,1054.0 759.1,1056.6 759.6,1059.2 C760.1,1061.9 760.6,1064.5 761.1,1067.1 C761.5,1069.7 762.0,1072.4 762.5,1075.0 C762.9,1077.6 763.4,1080.2 763.8,1082.9 C764.3,1085.5 764.7,1088.1 765.1,1090.8 C765.6,1093.4 766.0,1096.0 766.4,1098.6 C766.9,1101.3 767.3,1103.9 767.8,1106.5 C768.2,1109.2 768.6,1111.8 769.1,1114.4 C769.5,1117.1 769.9,1119.7 770.4,1122.3 C770.8,1125.0 771.2,1127.6 771.7,1130.2 C772.1,1132.8 772.6,1135.5 773.0,1138.1 C773.4,1140.7 773.9,1143.4 774.3,1146.0 C774.7,1148.6 775.2,1151.3 775.6,1153.9 C776.1,1156.5 776.5,1159.1 777.0,1161.8 C777.5,1164.4 778.0,1167.0 778.5,1169.6 C779.0,1172.2 779.5,1174.9 780.1,1177.5 C780.6,1180.1 781.2,1182.7 781.8,1185.3 C782.4,1187.9 783.0,1190.5 783.6,1193.1 C784.3,1195.7 784.9,1198.2 785.6,1200.8 C786.2,1203.4 786.9,1206.0 787.6,1208.6 C788.2,1211.1 788.9,1213.7 789.6,1216.3 C790.3,1218.9 791.0,1221.4 791.7,1224.0 C792.4,1226.6 793.1,1229.2 793.8,1231.7 C794.5,1234.3 795.2,1236.9 796.0,1239.4 C796.8,1242.0 797.5,1244.6 798.3,1247.1 C799.1,1249.6 800.0,1252.2 800.9,1254.6 C801.9,1257.1 802.9,1259.6 803.9,1262.1 C805.0,1264.5 806.2,1266.9 807.4,1269.2 C808.7,1271.6 810.0,1273.9 811.4,1276.2 C812.7,1278.5 814.1,1280.8 815.6,1283.0 C817.1,1285.2 818.7,1287.4 820.5,1289.2 C822.4,1291.1 824.5,1292.7 826.8,1294.0 C829.1,1295.2 831.7,1295.9 834.3,1296.6 C836.8,1297.3 839.5,1297.7 842.1,1298.2 C844.7,1298.7 847.3,1299.1 850.0,1299.5 C852.6,1299.9 855.3,1300.2 857.9,1300.5 C860.6,1300.9 863.2,1301.2 865.8,1301.6 C868.5,1302.0 871.1,1302.4 873.8,1302.8 C876.4,1303.1 879.0,1303.6 881.7,1304.0 C884.3,1304.4 886.9,1304.8 889.6,1305.3 C892.2,1305.7 894.8,1306.2 897.4,1306.6 C900.1,1307.1 902.7,1307.6 905.3,1308.1 C907.9,1308.6 910.5,1309.1 913.2,1309.6 C915.8,1310.2 918.4,1310.7 921.0,1311.3 C923.6,1311.8 926.2,1312.3 928.8,1312.8 C931.4,1313.3 934.1,1313.8 936.7,1314.2 C939.3,1314.7 942.0,1315.1 944.6,1315.5 C947.2,1315.9 949.9,1316.3 952.5,1316.6 C955.2,1317.0 957.8,1317.3 960.5,1317.7 C963.1,1318.0 965.7,1318.3 968.4,1318.6 C971.0,1318.9 973.7,1319.2 976.4,1319.4 C979.0,1319.7 981.7,1319.9 984.3,1320.1 C987.0,1320.4 989.6,1320.6 992.3,1320.8 C995.0,1321.0 997.6,1321.1 1000.3,1321.3 C1002.9,1321.5 1005.6,1321.6 1008.3,1321.8 C1010.9,1321.9 1013.6,1322.1 1016.3,1322.2 C1018.9,1322.4 1021.6,1322.5 1024.2,1322.6 C1026.9,1322.7 1029.6,1322.8 1032.2,1322.9 C1034.9,1323.0 1037.6,1323.0 1040.2,1323.1 C1042.9,1323.1 1045.6,1323.2 1048.2,1323.2 C1050.9,1323.2 1053.6,1323.1 1056.2,1323.1 C1058.9,1323.1 1061.6,1323.1 1064.2,1323.0 C1066.9,1323.0 1069.6,1323.0 1072.2,1323.0 C1074.9,1323.0 1077.6,1323.0 1080.2,1323.0 C1082.9,1323.1 1085.6,1323.1 1088.2,1323.1 C1090.9,1323.2 1093.6,1323.2 1096.2,1323.2 C1098.9,1323.3 1101.6,1323.3 1104.2,1323.4 C1106.9,1323.4 1109.6,1323.5 1112.2,1323.5 C1114.9,1323.6 1117.6,1323.6 1120.2,1323.7 C1122.9,1323.8 1125.6,1323.9 1128.2,1324.0 C1130.9,1324.0 1133.5,1324.1 1136.2,1324.2 C1138.9,1324.3 1141.5,1324.4 1144.2,1324.6 C1146.9,1324.7 1149.5,1324.8 1152.2,1324.9 C1154.9,1325.1 1157.5,1325.2 1160.2,1325.4 C1162.8,1325.5 1165.5,1325.7 1168.2,1325.9 C1170.8,1326.0 1173.5,1326.2 1176.2,1326.4 C1178.8,1326.5 1181.5,1326.7 1184.1,1326.9 C1186.8,1327.1 1189.5,1327.2 1192.1,1327.4 C1194.8,1327.6 1197.4,1327.8 1200.1,1328.0 C1202.8,1328.2 1205.4,1328.4 1208.1,1328.6 C1210.7,1328.8 1213.4,1328.9 1216.1,1329.1 C1218.7,1329.3 1221.4,1329.5 1224.0,1329.7 C1226.7,1329.9 1229.4,1330.1 1232.0,1330.3 C1234.7,1330.5 1237.3,1330.7 1240.0,1330.9 C1242.7,1331.1 1245.3,1331.3 1248.0,1331.5 C1250.6,1331.7 1253.3,1331.8 1256.0,1332.0 C1258.6,1332.2 1261.3,1332.4 1263.9,1332.6 C1266.6,1332.8 1269.3,1333.0 1271.9,1333.1 C1274.6,1333.3 1277.2,1333.5 1279.9,1333.7 C1282.6,1333.8 1285.2,1334.0 1287.9,1334.2 C1290.5,1334.3 1293.2,1334.5 1295.9,1334.6 C1298.5,1334.8 1301.2,1334.9 1303.9,1335.1 C1306.5,1335.2 1309.2,1335.4 1311.8,1335.5 C1314.5,1335.6 1317.2,1335.8 1319.8,1335.9 C1322.5,1336.0 1325.2,1336.2 1327.8,1336.3 C1330.5,1336.4 1333.2,1336.5 1335.8,1336.7 C1338.5,1336.8 1341.1,1336.9 1343.8,1337.0 C1346.5,1337.1 1349.1,1337.3 1351.8,1337.4 C1354.5,1337.5 1357.1,1337.6 1359.8,1337.7 C1362.5,1337.9 1365.1,1338.0 1367.8,1338.1 C1370.4,1338.3 1373.1,1338.4 1375.8,1338.5 C1378.4,1338.7 1381.1,1338.8 1383.8,1339.0 C1386.4,1339.1 1389.1,1339.2 1391.8,1339.4 C1394.4,1339.5 1397.1,1339.7 1399.7,1339.8 C1402.4,1340.0 1405.1,1340.1 1407.7,1340.3 C1410.4,1340.4 1413.0,1340.6 1415.7,1340.8 C1418.4,1341.0 1421.0,1341.2 1423.7,1341.4 C1426.3,1341.6 1429.0,1341.8 1431.7,1342.1 C1434.3,1342.4 1437.0,1342.7 1439.6,1343.0 C1442.2,1343.3 1444.9,1343.7 1447.5,1344.1 C1450.2,1344.4 1452.8,1344.8 1455.5,1345.2 C1458.1,1345.5 1460.7,1345.9 1463.4,1346.2 C1466.0,1346.5 1468.7,1346.8 1471.3,1347.0 C1474.0,1347.2 1476.7,1347.4 1479.3,1347.5 C1482.0,1347.6 1484.6,1347.7 1487.3,1347.7 C1490.0,1347.7 1492.6,1347.7 1495.3,1347.6 C1498.0,1347.5 1500.6,1347.4 1503.3,1347.2 C1506.0,1347.0 1508.6,1346.8 1511.3,1346.5 C1513.9,1346.2 1516.5,1345.8 1519.2,1345.5 C1521.8,1345.1 1524.5,1344.7 1527.1,1344.3 C1529.7,1343.9 1532.4,1343.5 1535.0,1343.2 C1537.7,1342.8 1540.3,1342.5 1543.0,1342.2 C1545.6,1341.9 1548.3,1341.6 1550.9,1341.4 C1553.6,1341.1 1556.2,1340.8 1558.9,1340.6 C1561.5,1340.3 1564.2,1340.1 1566.8,1339.9 C1569.5,1339.6 1572.2,1339.4 1574.8,1339.2 C1577.5,1339.0 1580.1,1338.8 1582.8,1338.6 C1585.5,1338.4 1588.1,1338.2 1590.8,1338.0 C1593.4,1337.9 1596.1,1337.7 1598.8,1337.6 C1601.4,1337.6 1604.1,1337.5 1606.8,1337.6 C1609.4,1337.6 1612.1,1337.7 1614.7,1337.9 C1617.4,1338.0 1620.1,1338.2 1622.7,1338.4 C1625.4,1338.5 1628.0,1338.7 1630.7,1338.8 C1633.4,1339.0 1636.0,1339.1 1638.7,1339.2 C1641.4,1339.4 1644.0,1339.5 1646.7,1339.6 C1649.4,1339.7 1652.0,1339.7 1654.7,1339.8 C1657.4,1339.9 1660.0,1340.0 1662.7,1340.1 C1665.3,1340.2 1668.0,1340.3 1670.7,1340.4 C1673.3,1340.5 1676.0,1340.5 1678.7,1340.6 C1681.3,1340.7 1684.0,1340.8 1686.7,1340.9 C1689.3,1340.9 1692.0,1341.0 1694.7,1341.1 C1697.3,1341.1 1700.0,1341.2 1702.7,1341.3 C1705.3,1341.3 1708.0,1341.4 1710.7,1341.4 C1713.3,1341.5 1716.0,1341.5 1718.7,1341.6 C1721.3,1341.6 1724.0,1341.7 1726.7,1341.7 C1729.3,1341.8 1732.0,1341.8 1734.7,1341.8 C1737.3,1341.9 1740.0,1341.9 1742.7,1342.0 C1745.3,1342.0 1748.0,1342.0 1750.7,1342.1 C1753.3,1342.1 1756.0,1342.1 1758.7,1342.1 C1761.3,1342.2 1764.0,1342.2 1766.7,1342.2 C1769.3,1342.3 1772.0,1342.3 1774.7,1342.3 C1777.3,1342.4 1780.0,1342.4 1782.7,1342.4 C1785.3,1342.4 1788.0,1342.5 1790.7,1342.5 C1793.3,1342.5 1796.0,1342.5 1798.7,1342.6 C1801.3,1342.6 1804.0,1342.6 1806.7,1342.7 C1809.3,1342.7 1812.0,1342.7 1814.7,1342.7 C1817.3,1342.8 1820.0,1342.8 1822.7,1342.8 C1825.3,1342.8 1828.0,1342.9 1830.7,1342.9 C1833.3,1342.9 1836.0,1342.9 1838.7,1343.0 C1841.3,1343.0 1844.0,1343.0 1846.7,1343.0 C1849.3,1343.0 1852.0,1343.1 1854.7,1343.1 C1857.3,1343.1 1860.0,1343.1 1862.7,1343.2 C1865.3,1343.2 1868.0,1343.2 1870.7,1343.2 C1873.3,1343.2 1876.0,1343.3 1878.7,1343.3 C1881.3,1343.3 1884.0,1343.3 1886.7,1343.4 C1889.3,1343.4 1892.0,1343.4 1894.7,1343.4 C1897.3,1343.5 1900.0,1343.5 1902.6,1343.5 C1905.3,1343.5 1908.0,1343.6 1910.6,1343.6 C1913.3,1343.6 1916.0,1343.7 1918.6,1343.7 C1921.3,1343.7 1924.0,1343.8 1926.6,1343.8 C1929.3,1343.9 1932.0,1343.9 1934.6,1343.9 C1937.3,1344.0 1940.0,1344.0 1942.6,1344.1 C1945.3,1344.1 1948.0,1344.2 1950.6,1344.2 C1953.3,1344.2 1956.0,1344.3 1958.6,1344.3 C1961.3,1344.4 1964.0,1344.4 1966.6,1344.5 C1969.3,1344.5 1972.0,1344.6 1974.6,1344.7 C1977.3,1344.7 1980.0,1344.8 1982.6,1344.8 C1985.3,1344.9 1988.0,1344.9 1990.6,1345.0 C1993.3,1345.1 1996.0,1345.1 1998.6,1345.2 C2001.3,1345.3 2004.0,1345.4 2006.6,1345.5 C2009.3,1345.5 2012.0,1345.6 2014.6,1345.7 C2017.3,1345.8 2020.0,1345.9 2022.6,1346.0 C2025.3,1346.1 2027.9,1346.2 2030.6,1346.3 C2033.3,1346.5 2035.9,1346.6 2038.6,1346.7 C2041.3,1346.9 2043.9,1347.0 2046.6,1347.2 C2049.3,1347.4 2051.9,1347.5 2054.6,1347.7 C2057.2,1347.9 2059.9,1348.1 2062.6,1348.3 C2065.2,1348.5 2067.9,1348.7 2070.5,1348.9 C2073.2,1349.1 2075.8,1349.3 2078.5,1349.6 C2081.2,1349.8 2083.8,1350.0 2086.5,1350.2 C2089.1,1350.4 2092.4,1350.7 2094.4,1350.9 C2096.4,1351.0 2097.8,1351.1 2098.5,1351.2"/>
<path stroke="#960000" d="M476.2,46.0 C476.2,47.3 476.3,51.3 476.3,54.0 C476.3,56.7 476.4,59.3 476.4,62.0 C476.4,64.7 476.5,67.3 476.5,70.0 C476.5,72.7 476.6,75.3 476.6,78.0 C476.6,80.7 476.7,83.3 476.7,86.0 C476.7,88.7 476.8,91.3 476.8,94.0 C476.8,96.7 476.9,99.3 476.9,102.0 C477.0,104.7 477.0,107.3 477.0,110.0 C477.1,112.7 477.1,115.3 477.1,118.0 C477.2,120.7 477.2,123.3 477.2,126.0 C477.3,128.7 477.3,131.3 477.3,134.0 C477.4,136.7 477.4,139.3 477.4,142.0 C477.5,144.7 477.5,147.3 477.5,150.0 C477.6,152.7 477.6,155.3 477.6,158.0 C477.7,160.7 477.7,163.3 477.7,166.0 C477.8,168.7 477.8,171.3 477.8,174.0 C477.9,176.7 477.9,179.3 477.9,182.0 C478.0,184.7 478.0,187.3 478.0,190.0 C478.1,192.7 478.1,195.3 478.1,198.0 C478.2,200.7 478.2,203.3 478.3,206.0 C478.3,208.7 478.3,211.3 478.4,214.0 C478.4,216.7 478.4,219.3 478.5,222.0 C478.5,224.7 478.5,227.3 478.6,230.0 C478.6,232.7 478.6,235.3 478.7,238.0 C478.7,240.7 478.7,243.3 478.8,246.0 C478.8,248.7 478.8,251.3 478.9,254.0 C478.9,256.6 478.9,259.3 478.9,262.0 C479.0,264.6 479.0,267.3 479.0,270.0 C479.1,272.6 479.1,275.3 479.1,278.0 C479.2,280.6 479.2,283.3 479.2,286.0 C479.3,288.6 479.3,291.3 479.3,294.0 C479.4,296.6 479.4,299.3 479.4,302.0 C479.5,304.6 479.5,307.3 479.5,310.0 C479.6,312.6 479.6,315.3 479.6,318.0 C479.7,320.6 479.7,323.3 479.8,326.0 C479.8,328.6 479.8,331.3 479.9,334.0 C479.9,336.6 479.9,339.3 480.0,342.0 C480.0,344.6 480.1,347.3 480.1,350.0 C480.1,352.6 480.2,355.3 480.2,358.0 C480.3,360.6 480.3,363.3 480.3,366.0 C480.4,368.6 480.4,371.3 480.5,374.0 C480.5,376.6 480.6,379.3 480.6,382.0 C480.7,384.6 480.7,387.3 480.8,390.0 C480.8,392.6 480.9,395.3 480.9,398.0 C481.0,400.6 481.1,403.3 481.1,406.0 C481.2,408.6 481.3,411.3 481.3,414.0 C481.4,416.6 481.5,419.3 481.5,422.0 C481.6,424.6 481.7,427.3 481.8,430.0 C481.8,432.6 481.9,435.3 482.0,438.0 C482.1,440.6 482.2,443.3 482.2,445.9 C482.3,448.6 482.4,451.3 482.5,453.9 C482.6,456.6 482.7,459.3 482.7,461.9 C482.8,464.6 482.9,467.3 483.0,469.9 C483.1,472.6 483.2,475.3 483.3,477.9 C483.4,480.6 483.5,483.3 483.6,485.9 C483.7,488.6 483.8,491.3 483.9,493.9 C484.0,496.6 484.1,499.2 484.2,501.9 C484.3,504.6 484.4,507.2 484.5,509.9 C484.6,512.6 484.7,515.2 484.8,517.9 C485.0,520.6 485.1,523.2 485.2,525.9 C485.3,528.6 485.4,531.2 485.5,533.9 C485.6,536.6 485.7,539.2 485.8,541.9 C485.9,544.5 486.0,547.2 486.1,549.9 C486.2,552.5 486.3,555.2 486.4,557.9 C486.5,560.5 486.6,563.2 486.7,565.9 C486.8,568.5 486.9,571.2 487.0,573.9 C487.1,576.5 487.2,579.2 487.3,581.9 C487.4,584.5 487.5,587.2 487.6,589.8 C487.7,592.5 487.8,595.2 487.9,597.8 C488.0,600.5 488.1,603.2 488.2,605.8 C488.3,608.5 488.4,611.2 488.5,613.8 C488.6,616.5 488.7,619.2 488.8,621.8 C488.9,624.5 489.0,627.2 489.1,629.8 C489.2,632.5 489.3,635.1 489.4,637.8 C489.5,640.5 489.6,643.1 489.7,645.8 C489.8,648.5 489.9,651.1 490.1,653.8 C490.2,656.5 490.3,659.1 490.4,661.8 C490.5,664.5 490.6,667.1 490.7,669.8 C490.8,672.5 490.9,675.1 491.0,677.8 C491.1,680.4 491.2,683.1 491.3,685.8 C491.4,688.4 491.5,691.1 491.6,693.8 C491.8,696.4 491.9,699.1 492.0,701.8 C492.1,704.4 492.2,707.1 492.3,709.8 C492.4,712.4 492.5,715.1 492.5,717.8 C492.6,720.4 492.7,723.1 492.8,725.7 C492.9,728.4 493.0,731.1 493.1,733.7 C493.2,736.4 493.3,739.1 493.4,741.7 C493.5,744.4 493.6,747.1 493.7,749.7 C493.8,752.4 493.9,755.1 494.0,757.7 C494.1,760.4 494.2,763.1 494.4,765.7 C494.5,768.4 494.6,771.0 494.8,773.7 C494.9,776.4 495.0,779.0 495.2,781.7 C495.3,784.4 495.5,787.0 495.7,789.7 C495.8,792.3 496.0,795.0 496.2,797.7 C496.4,800.3 496.5,803.0 496.7,805.6 C496.9,808.3 497.1,811.0 497.3,813.6 C497.5,816.3 497.7,818.9 497.9,821.6 C498.1,824.3 498.3,826.9 498.5,829.6 C498.7,832.2 499.0,834.9 499.2,837.6 C499.4,840.2 499.6,842.9 499.8,845.5 C500.0,848.2 500.3,850.8 500.5,853.5 C500.7,856.2 500.9,858.8 501.2,861.5 C501.4,864.1 501.6,866.8 501.9,869.4 C502.1,872.1 502.4,874.7 502.7,877.4 C502.9,880.1 503.1,882.7 503.4,885.4 C503.6,888.0 503.9,890.7 504.3,893.3 C504.6,896.0 505.0,898.6 505.4,901.2 C505.8,903.9 506.2,906.5 506.5,909.2 C506.9,911.8 507.2,914.4 507.5,917.1 C507.9,919.7 508.2,922.4 508.5,925.0 C508.8,927.7 509.2,930.3 509.5,933.0 C509.8,935.6 510.1,938.3 510.5,940.9 C510.8,943.6 511.1,946.2 511.4,948.9 C511.7,951.5 512.0,954.2 512.3,956.8 C512.6,959.5 512.9,962.1 513.2,964.8 C513.6,967.4 513.9,970.0 514.3,972.7 C514.7,975.3 515.2,977.9 515.7,980.5 C516.2,983.2 516.8,985.8 517.4,988.4 C518.1,990.9 518.8,993.5 519.6,996.0 C520.4,998.6 521.3,1001.1 522.4,1003.5 C523.5,1005.9 524.7,1008.5 526.3,1010.5 C528.0,1012.4 530.1,1014.9 532.3,1015.2 C534.4,1015.5 537.1,1013.8 539.3,1012.4 C541.4,1011.0 543.2,1008.8 545.0,1006.9 C546.9,1005.0 548.6,1002.9 550.2,1000.8 C551.8,998.7 553.3,996.5 554.6,994.2 C556.0,991.9 557.3,989.5 558.5,987.2 C559.7,984.8 560.8,982.4 561.9,979.9 C563.0,977.5 564.0,975.0 565.1,972.6 C566.1,970.1 567.2,967.7 568.2,965.2 C569.2,962.8 570.2,960.3 571.2,957.8 C572.2,955.3 573.2,952.9 574.1,950.4 C575.1,947.9 576.1,945.4 577.1,942.9 C578.0,940.4 579.0,938.0 580.0,935.5 C581.0,933.0 582.0,930.5 583.0,928.1 C584.0,925.6 585.1,923.2 586.1,920.7 C587.1,918.2 588.2,915.8 589.1,913.3 C590.1,910.8 591.1,908.3 592.0,905.8 C593.0,903.3 593.8,900.8 594.7,898.3 C595.5,895.8 596.3,893.2 597.1,890.7 C597.9,888.1 598.7,885.6 599.4,883.0 C600.2,880.5 600.9,877.9 601.6,875.3 C602.3,872.7 603.0,870.2 603.7,867.6 C604.4,865.0 605.0,862.4 605.6,859.8 C606.2,857.2 606.7,854.6 607.3,852.0 C607.9,849.4 608.5,846.8 609.1,844.2 C609.8,841.6 610.5,839.1 611.2,836.5 C611.9,833.9 612.7,831.4 613.5,828.8 C614.2,826.3 615.0,823.7 615.7,821.1 C616.4,818.6 617.1,816.0 617.8,813.4 C618.5,810.9 619.2,808.3 619.9,805.7 C620.6,803.1 621.4,800.6 622.1,798.0 C622.9,795.5 623.6,792.9 624.4,790.4 C625.2,787.8 626.1,785.3 627.0,782.8 C627.9,780.3 628.8,777.8 629.7,775.3 C630.6,772.8 631.6,770.3 632.5,767.8 C633.5,765.3 634.5,762.8 635.5,760.3 C636.4,757.9 637.4,755.4 638.4,752.9 C639.3,750.4 640.0,747.8 640.9,745.3 C641.8,742.8 642.6,740.2 643.5,737.7 C644.4,735.2 645.4,732.7 646.4,730.3 C647.4,727.8 648.4,725.3 649.8,723.1 C651.1,720.8 652.6,718.4 654.6,716.8 C656.6,715.2 659.1,713.7 661.5,713.4 C663.8,713.2 666.7,714.0 668.7,715.4 C670.7,716.8 672.0,719.5 673.3,721.8 C674.7,724.1 675.6,726.6 676.6,729.1 C677.5,731.6 678.3,734.1 679.1,736.7 C679.9,739.2 680.7,741.8 681.4,744.3 C682.2,746.9 683.0,749.4 683.7,752.0 C684.5,754.6 685.2,757.1 685.9,759.7 C686.6,762.3 687.2,764.9 687.9,767.4 C688.6,770.0 689.4,772.6 690.1,775.1 C690.9,777.7 691.7,780.2 692.5,782.8 C693.2,785.3 694.0,787.9 694.6,790.5 C695.2,793.0 695.8,795.7 696.3,798.3 C696.8,800.9 697.3,803.5 697.9,806.1 C698.4,808.7 698.9,811.4 699.4,814.0 C699.9,816.6 700.4,819.2 700.9,821.8 C701.4,824.4 701.9,827.1 702.5,829.7 C703.0,832.3 703.5,834.9 704.1,837.5 C704.6,840.1 705.2,842.7 705.7,845.3 C706.3,847.9 706.9,850.5 707.5,853.1 C708.2,855.7 708.8,858.3 709.4,860.9 C710.1,863.5 710.7,866.1 711.4,868.7 C712.0,871.3 712.6,873.8 713.3,876.4 C713.9,879.0 714.5,881.6 715.1,884.2 C715.6,886.8 716.2,889.4 716.7,892.1 C717.3,894.7 717.8,897.3 718.3,899.9 C718.8,902.5 719.3,905.1 719.8,907.8 C720.3,910.4 720.8,913.0 721.3,915.6 C721.8,918.2 722.3,920.9 722.9,923.5 C723.4,926.1 724.0,928.7 724.6,931.3 C725.2,933.9 725.8,936.5 726.4,939.1 C727.0,941.7 727.7,944.3 728.3,946.8 C728.9,949.4 729.6,952.0 730.2,954.6 C730.8,957.2 731.5,959.8 732.1,962.4 C732.7,965.0 733.3,967.6 734.0,970.2 C734.6,972.8 735.2,975.4 735.8,978.0 C736.4,980.6 736.9,983.2 737.5,985.8 C738.1,988.4 738.7,991.0 739.3,993.6 C739.9,996.1 740.6,998.7 741.2,1001.3 C741.8,1003.9 742.5,1006.5 743.2,1009.1 C743.8,1011.7 744.5,1014.3 745.1,1016.8 C745.8,1019.4 746.4,1022.0 747.1,1024.6 C747.8,1027.2 748.4,1029.8 749.1,1032.3 C749.8,1034.9 750.4,1037.5 751.1,1040.1 C751.8,1042.7 752.5,1045.2 753.2,1047.8 C753.9,1050.4 754.6,1053.0 755.3,1055.5 C756.0,1058.1 756.7,1060.7 757.4,1063.2 C758.2,1065.8 758.9,1068.4 759.7,1070.9 C760.5,1073.4 761.4,1076.0 762.2,1078.5 C763.1,1081.0 764.1,1083.5 765.1,1086.0 C766.1,1088.5 767.1,1090.9 768.2,1093.3 C769.3,1095.8 770.4,1098.2 771.5,1100.6 C772.6,1103.1 773.6,1105.5 774.8,1107.9 C775.9,1110.3 777.0,1112.8 778.2,1115.1 C779.5,1117.5 780.8,1119.8 782.2,1122.1 C783.5,1124.4 784.9,1126.6 786.4,1128.8 C787.9,1131.0 789.5,1133.2 791.2,1135.2 C792.9,1137.2 794.8,1139.1 796.8,1140.8 C798.8,1142.5 800.9,1144.0 803.2,1145.3 C805.4,1146.7 807.8,1147.8 810.3,1148.9 C812.7,1150.0 815.2,1150.9 817.7,1151.9 C820.1,1152.8 822.7,1153.7 825.2,1154.5 C827.7,1155.3 830.3,1156.1 832.9,1156.8 C835.4,1157.5 838.0,1158.2 840.6,1158.8 C843.2,1159.4 845.8,1160.0 848.4,1160.5 C851.0,1161.1 853.6,1161.6 856.2,1162.1 C858.9,1162.6 861.5,1163.1 864.1,1163.5 C866.8,1164.0 869.4,1164.4 872.0,1164.8 C874.7,1165.2 877.3,1165.6 879.9,1165.9 C882.6,1166.3 885.2,1166.6 887.9,1167.0 C890.5,1167.3 893.2,1167.6 895.8,1167.9 C898.5,1168.2 901.1,1168.5 903.8,1168.8 C906.4,1169.1 909.1,1169.4 911.7,1169.7 C914.4,1170.0 917.0,1170.3 919.7,1170.5 C922.3,1170.8 925.0,1171.1 927.6,1171.3 C930.3,1171.6 932.9,1171.8 935.6,1172.1 C938.2,1172.3 940.9,1172.6 943.6,1172.8 C946.2,1173.0 948.9,1173.3 951.5,1173.5 C954.2,1173.7 956.8,1173.9 959.5,1174.1 C962.2,1174.3 964.8,1174.5 967.5,1174.7 C970.1,1174.9 972.8,1175.1 975.5,1175.3 C978.1,1175.5 980.8,1175.6 983.4,1175.8 C986.1,1176.0 988.8,1176.1 991.4,1176.3 C994.1,1176.5 996.8,1176.6 999.4,1176.7 C1002.1,1176.9 1004.7,1177.0 1007.4,1177.2 C1010.1,1177.3 1012.7,1177.4 1015.4,1177.5 C1018.1,1177.6 1020.7,1177.7 1023.4,1177.8 C1026.1,1177.9 1028.7,1178.0 1031.4,1178.1 C1034.0,1178.2 1036.7,1178.3 1039.4,1178.4 C1042.0,1178.4 1044.7,1178.5 1047.4,1178.6 C1050.0,1178.6 1052.7,1178.7 1055.4,1178.7 C1058.0,1178.8 1060.7,1178.8 1063.4,1178.9 C1066.0,1178.9 1068.7,1179.0 1071.4,1179.0 C1074.0,1179.1 1076.7,1179.1 1079.4,1179.2 C1082.0,1179.2 1084.7,1179.2 1087.4,1179.3 C1090.0,1179.3 1092.7,1179.4 1095.4,1179.4 C1098.0,1179.4 1100.7,1179.5 1103.4,1179.5 C1106.0,1179.5 1108.7,1179.6 1111.4,1179.6 C1114.0,1179.7 1116.7,1179.7 1119.4,1179.8 C1122.0,1179.8 1124.7,1179.9 1127.4,1180.0 C1130.0,1180.0 1132.7,1180.1 1135.4,1180.2 C1138.0,1180.3 1140.7,1180.5 1143.4,1180.6 C1146.0,1180.7 1148.7,1180.9 1151.3,1181.1 C1154.0,1181.3 1156.6,1181.5 1159.3,1181.8 C1162.0,1182.0 1164.6,1182.4 1167.2,1182.7 C1169.9,1183.1 1172.5,1183.5 1175.1,1183.9 C1177.8,1184.3 1180.4,1184.7 1183.1,1185.0 C1185.7,1185.4 1188.3,1185.8 1191.0,1186.1 C1193.6,1186.5 1196.3,1186.8 1198.9,1187.2 C1201.6,1187.5 1204.2,1187.8 1206.9,1188.2 C1209.5,1188.5 1212.1,1188.8 1214.8,1189.1 C1217.4,1189.4 1220.1,1189.7 1222.7,1190.0 C1225.4,1190.3 1228.0,1190.6 1230.7,1190.9 C1233.3,1191.2 1236.0,1191.5 1238.6,1191.8 C1241.3,1192.0 1244.0,1192.3 1246.6,1192.6 C1249.3,1192.9 1251.9,1193.1 1254.6,1193.4 C1257.2,1193.7 1259.9,1193.9 1262.5,1194.2 C1265.2,1194.4 1267.8,1194.7 1270.5,1194.9 C1273.2,1195.1 1275.8,1195.3 1278.5,1195.4 C1281.1,1195.5 1283.8,1195.6 1286.5,1195.6 C1289.1,1195.7 1291.8,1195.6 1294.5,1195.6 C1297.1,1195.6 1299.8,1195.6 1302.4,1195.6 C1305.1,1195.6 1307.8,1195.7 1310.4,1195.7 C1313.1,1195.8 1315.8,1195.9 1318.4,1196.0 C1321.1,1196.1 1323.8,1196.2 1326.4,1196.4 C1329.1,1196.5 1331.8,1196.7 1334.4,1196.9 C1337.1,1197.1 1339.7,1197.3 1342.4,1197.6 C1345.0,1197.8 1347.7,1198.1 1350.3,1198.3 C1353.0,1198.6 1355.6,1198.9 1358.3,1199.1 C1361.0,1199.4 1363.6,1199.7 1366.3,1200.0 C1368.9,1200.3 1371.6,1200.5 1374.2,1200.8 C1376.9,1201.1 1379.5,1201.4 1382.2,1201.6 C1384.8,1201.9 1387.5,1202.2 1390.1,1202.4 C1392.8,1202.7 1395.4,1203.0 1398.1,1203.2 C1400.7,1203.5 1403.4,1203.8 1406.1,1204.1 C1408.7,1204.3 1411.4,1204.6 1414.0,1204.9 C1416.7,1205.1 1419.3,1205.4 1422.0,1205.7 C1424.6,1205.9 1427.3,1206.2 1429.9,1206.5 C1432.6,1206.8 1435.2,1207.1 1437.9,1207.3 C1440.5,1207.6 1443.2,1207.9 1445.8,1208.2 C1448.5,1208.4 1451.1,1208.7 1453.8,1209.0 C1456.5,1209.2 1459.1,1209.5 1461.8,1209.7 C1464.4,1210.0 1467.1,1210.2 1469.7,1210.4 C1472.4,1210.7 1475.0,1210.9 1477.7,1211.1 C1480.4,1211.2 1483.0,1211.4 1485.7,1211.6 C1488.3,1211.8 1491.0,1211.9 1493.7,1212.0 C1496.3,1212.2 1499.0,1212.3 1501.7,1212.4 C1504.3,1212.5 1507.0,1212.6 1509.7,1212.6 C1512.3,1212.7 1515.0,1212.7 1517.7,1212.7 C1520.3,1212.7 1523.0,1212.7 1525.7,1212.7 C1528.3,1212.6 1531.0,1212.5 1533.7,1212.5 C1536.3,1212.4 1539.0,1212.3 1541.6,1212.2 C1544.3,1212.1 1547.0,1212.1 1549.6,1212.0 C1552.3,1211.9 1555.0,1211.9 1557.6,1211.8 C1560.3,1211.8 1563.0,1211.8 1565.6,1211.7 C1568.3,1211.7 1571.0,1211.7 1573.6,1211.7 C1576.3,1211.6 1579.0,1211.6 1581.6,1211.6 C1584.3,1211.6 1587.0,1211.6 1589.6,1211.6 C1592.3,1211.5 1595.0,1211.5 1597.6,1211.5 C1600.3,1211.5 1603.0,1211.5 1605.6,1211.5 C1608.3,1211.4 1611.0,1211.4 1613.6,1211.4 C1616.3,1211.4 1619.0,1211.4 1621.6,1211.4 C1624.3,1211.4 1627.0,1211.4 1629.6,1211.4 C1632.3,1211.3 1635.0,1211.3 1637.6,1211.3 C1640.3,1211.3 1643.0,1211.3 1645.6,1211.3 C1648.3,1211.3 1651.0,1211.3 1653.6,1211.3 C1656.3,1211.3 1659.0,1211.3 1661.6,1211.3 C1664.3,1211.3 1667.0,1211.3 1669.6,1211.3 C1672.3,1211.3 1675.0,1211.3 1677.6,1211.3 C1680.3,1211.3 1683.0,1211.3 1685.6,1211.3 C1688.3,1211.3 1691.0,1211.3 1693.6,1211.3 C1696.3,1211.3 1699.0,1211.3 1701.6,1211.3 C1704.3,1211.3 1707.0,1211.3 1709.6,1211.3 C1712.3,1211.4 1715.0,1211.4 1717.6,1211.4 C1720.3,1211.4 1723.0,1211.5 1725.6,1211.5 C1728.3,1211.5 1731.0,1211.6 1733.6,1211.6 C1736.3,1211.6 1739.0,1211.7 1741.6,1211.7 C1744.3,1211.8 1747.0,1211.8 1749.6,1211.9 C1752.3,1211.9 1755.0,1212.0 1757.6,1212.0 C1760.3,1212.1 1763.0,1212.2 1765.6,1212.2 C1768.3,1212.3 1771.0,1212.3 1773.6,1212.4 C1776.3,1212.5 1779.0,1212.5 1781.6,1212.6 C1784.3,1212.6 1787.0,1212.7 1789.6,1212.8 C1792.3,1212.8 1795.0,1212.9 1797.6,1213.0 C1800.3,1213.0 1803.0,1213.1 1805.6,1213.1 C1808.3,1213.2 1811.0,1213.2 1813.6,1213.3 C1816.3,1213.4 1819.0,1213.4 1821.6,1213.5 C1824.3,1213.5 1827.0,1213.6 1829.6,1213.6 C1832.3,1213.7 1835.0,1213.7 1837.6,1213.8 C1840.3,1213.8 1842.9,1213.9 1845.6,1213.9 C1848.3,1213.9 1850.9,1214.0 1853.6,1214.0 C1856.3,1214.1 1858.9,1214.2 1861.6,1214.2 C1864.3,1214.3 1866.9,1214.3 1869.6,1214.4 C1872.3,1214.5 1874.9,1214.5 1877.6,1214.6 C1880.3,1214.7 1882.9,1214.7 1885.6,1214.8 C1888.3,1214.9 1890.9,1215.0 1893.6,1215.0 C1896.3,1215.1 1898.9,1215.2 1901.6,1215.3 C1904.3,1215.4 1906.9,1215.5 1909.6,1215.6 C1912.3,1215.6 1914.9,1215.7 1917.6,1215.8 C1920.3,1215.9 1922.9,1216.0 1925.6,1216.1 C1928.2,1216.2 1930.9,1216.3 1933.6,1216.4 C1936.2,1216.5 1938.9,1216.6 1941.6,1216.7 C1944.2,1216.8 1946.9,1216.9 1949.6,1217.1 C1952.2,1217.2 1954.9,1217.3 1957.6,1217.4 C1960.2,1217.5 1962.9,1217.6 1965.6,1217.7 C1968.2,1217.8 1970.9,1218.0 1973.5,1218.1 C1976.2,1218.2 1978.9,1218.3 1981.5,1218.4 C1984.2,1218.6 1986.9,1218.7 1989.5,1218.8 C1992.2,1219.0 1994.9,1219.1 1997.5,1219.2 C2000.2,1219.4 2002.8,1219.5 2005.5,1219.7 C2008.2,1219.8 2010.8,1220.0 2013.5,1220.1 C2016.2,1220.3 2018.8,1220.4 2021.5,1220.6 C2024.1,1220.8 2026.8,1221.0 2029.5,1221.2 C2032.1,1221.4 2034.8,1221.6 2037.4,1221.8 C2040.1,1222.0 2042.7,1222.2 2045.4,1222.5 C2048.1,1222.7 2050.7,1222.9 2053.4,1223.2 C2056.0,1223.4 2058.7,1223.7 2061.3,1224.0 C2064.0,1224.2 2066.6,1224.5 2069.3,1224.8 C2071.9,1225.1 2074.6,1225.4 2077.2,1225.6 C2079.9,1225.9 2082.5,1226.2 2085.2,1226.5 C2087.8,1226.8 2090.9,1227.2 2093.1,1227.4 C2095.3,1227.7 2097.6,1227.9 2098.5,1228.0"/>
<path stroke="#9300FF" d="M408.3,46.0 C408.3,47.3 408.3,51.3 408.4,54.0 C408.4,56.7 408.4,59.3 408.4,62.0 C408.5,64.7 408.5,67.3 408.5,70.0 C408.5,72.7 408.6,75.3 408.6,78.0 C408.6,80.7 408.6,83.3 408.7,86.0 C408.7,88.7 408.7,91.3 408.7,94.0 C408.8,96.7 408.8,99.3 408.8,102.0 C408.8,104.7 408.9,107.3 408.9,110.0 C408.9,112.7 408.9,115.3 409.0,118.0 C409.0,120.7 409.0,123.3 409.0,126.0 C409.1,128.7 409.1,131.3 409.1,134.0 C409.1,136.7 409.2,139.3 409.2,142.0 C409.2,144.7 409.2,147.3 409.3,150.0 C409.3,152.7 409.3,155.3 409.3,158.0 C409.4,160.7 409.4,163.3 409.4,166.0 C409.4,168.7 409.4,171.3 409.5,174.0 C409.5,176.7 409.5,179.3 409.5,182.0 C409.6,184.7 409.6,187.3 409.6,190.0 C409.6,192.7 409.7,195.3 409.7,198.0 C409.7,200.7 409.7,203.3 409.8,206.0 C409.8,208.7 409.8,211.3 409.8,214.0 C409.9,216.7 409.9,219.3 409.9,222.0 C409.9,224.7 410.0,227.3 410.0,230.0 C410.0,232.7 410.0,235.3 410.1,238.0 C410.1,240.7 410.1,243.3 410.1,246.0 C410.1,248.7 410.2,251.3 410.2,254.0 C410.2,256.7 410.2,259.3 410.3,262.0 C410.3,264.7 410.3,267.3 410.3,270.0 C410.3,272.7 410.4,275.3 410.4,278.0 C410.4,280.7 410.4,283.3 410.5,286.0 C410.5,288.7 410.5,291.3 410.5,294.0 C410.6,296.7 410.6,299.3 410.6,302.0 C410.6,304.7 410.6,307.3 410.7,310.0 C410.7,312.7 410.7,315.3 410.7,318.0 C410.8,320.7 410.8,323.3 410.8,326.0 C410.8,328.7 410.9,331.3 410.9,334.0 C410.9,336.7 410.9,339.3 411.0,342.0 C411.0,344.7 411.0,347.3 411.0,350.0 C411.1,352.7 411.1,355.3 411.1,358.0 C411.2,360.7 411.2,363.3 411.2,366.0 C411.2,368.7 411.3,371.3 411.3,374.0 C411.3,376.7 411.4,379.3 411.4,382.0 C411.4,384.7 411.5,387.3 411.5,390.0 C411.5,392.7 411.6,395.3 411.6,398.0 C411.6,400.7 411.7,403.3 411.7,406.0 C411.7,408.6 411.8,411.3 411.8,414.0 C411.9,416.6 411.9,419.3 412.0,422.0 C412.0,424.6 412.1,427.3 412.1,430.0 C412.2,432.6 412.2,435.3 412.3,438.0 C412.3,440.6 412.4,443.3 412.4,446.0 C412.5,448.6 412.5,451.3 412.6,454.0 C412.6,456.6 412.7,459.3 412.8,462.0 C412.8,464.6 412.9,467.3 412.9,470.0 C413.0,472.6 413.1,475.3 413.1,478.0 C413.2,480.6 413.3,483.3 413.3,486.0 C413.4,488.6 413.5,491.3 413.5,494.0 C413.6,496.6 413.7,499.3 413.7,502.0 C413.8,504.6 413.9,507.3 413.9,510.0 C414.0,512.6 414.1,515.3 414.1,518.0 C414.2,520.6 414.3,523.3 414.3,526.0 C414.4,528.6 414.5,531.3 414.6,534.0 C414.6,536.6 414.7,539.3 414.8,541.9 C414.8,544.6 414.9,547.3 415.0,549.9 C415.0,552.6 415.1,555.3 415.2,557.9 C415.2,560.6 415.3,563.3 415.3,565.9 C415.4,568.6 415.5,571.3 415.5,573.9 C415.6,576.6 415.7,579.3 415.7,581.9 C415.8,584.6 415.9,587.3 415.9,589.9 C416.0,592.6 416.1,595.3 416.1,597.9 C416.2,600.6 416.3,603.3 416.3,605.9 C416.4,608.6 416.5,611.3 416.5,613.9 C416.6,616.6 416.7,619.3 416.7,621.9 C416.8,624.6 416.9,627.3 416.9,629.9 C417.0,632.6 417.0,635.3 417.1,637.9 C417.2,640.6 417.2,643.3 417.3,645.9 C417.4,648.6 417.4,651.2 417.5,653.9 C417.5,656.6 417.6,659.2 417.7,661.9 C417.7,664.6 417.8,667.2 417.8,669.9 C417.9,672.6 418.0,675.2 418.0,677.9 C418.1,680.6 418.2,683.2 418.2,685.9 C418.3,688.6 418.4,691.2 418.5,693.9 C418.5,696.6 418.6,699.2 418.7,701.9 C418.8,704.6 418.9,707.2 419.0,709.9 C419.0,712.6 419.1,715.2 419.2,717.9 C419.3,720.6 419.4,723.2 419.5,725.9 C419.6,728.5 419.7,731.2 419.8,733.9 C419.9,736.5 420.1,739.2 420.2,741.9 C420.3,744.5 420.4,747.2 420.5,749.9 C420.6,752.5 420.7,755.2 420.9,757.9 C421.0,760.5 421.1,763.2 421.2,765.8 C421.3,768.5 421.5,771.2 421.6,773.8 C421.7,776.5 421.8,779.2 422.0,781.8 C422.1,784.5 422.2,787.2 422.3,789.8 C422.5,792.5 422.6,795.2 422.7,797.8 C422.8,800.5 423.0,803.1 423.1,805.8 C423.2,808.5 423.3,811.1 423.5,813.8 C423.6,816.5 423.7,819.1 423.8,821.8 C424.0,824.5 424.1,827.1 424.2,829.8 C424.4,832.4 424.5,835.1 424.6,837.8 C424.8,840.4 424.9,843.1 425.0,845.8 C425.2,848.4 425.3,851.1 425.5,853.7 C425.6,856.4 425.7,859.1 425.9,861.7 C426.0,864.4 426.2,867.1 426.3,869.7 C426.5,872.4 426.6,875.0 426.8,877.7 C426.9,880.4 427.1,883.0 427.2,885.7 C427.4,888.4 427.5,891.0 427.7,893.7 C427.9,896.3 428.0,899.0 428.2,901.7 C428.4,904.3 428.5,907.0 428.7,909.7 C428.9,912.3 429.0,915.0 429.2,917.6 C429.4,920.3 429.5,923.0 429.7,925.6 C429.9,928.3 430.0,930.9 430.2,933.6 C430.4,936.3 430.6,938.9 430.7,941.6 C430.9,944.2 431.1,946.9 431.3,949.6 C431.5,952.2 431.6,954.9 431.8,957.6 C432.0,960.2 432.2,962.9 432.4,965.5 C432.6,968.2 432.8,970.8 433.0,973.5 C433.2,976.2 433.4,978.8 433.6,981.5 C433.8,984.1 434.1,986.8 434.3,989.5 C434.5,992.1 434.6,994.8 434.8,997.4 C435.0,1000.1 435.2,1002.8 435.3,1005.4 C435.4,1008.1 435.6,1010.7 435.7,1013.4 C435.8,1016.1 436.0,1018.7 436.1,1021.4 C436.3,1024.1 436.4,1026.7 436.6,1029.4 C436.8,1032.0 437.0,1034.7 437.2,1037.4 C437.4,1040.0 437.6,1042.7 437.8,1045.3 C437.9,1048.0 438.1,1050.7 438.3,1053.3 C438.5,1056.0 438.7,1058.6 438.9,1061.3 C439.1,1064.0 439.4,1066.6 439.6,1069.3 C439.8,1071.9 440.0,1074.6 440.2,1077.2 C440.5,1079.9 440.7,1082.6 441.0,1085.2 C441.2,1087.9 441.5,1090.5 441.7,1093.2 C442.0,1095.8 442.3,1098.5 442.6,1101.1 C442.9,1103.8 443.2,1106.4 443.5,1109.1 C443.8,1111.7 444.1,1114.4 444.4,1117.0 C444.7,1119.7 445.0,1122.3 445.4,1125.0 C445.7,1127.6 446.0,1130.3 446.4,1132.9 C446.7,1135.6 447.1,1138.2 447.4,1140.8 C447.8,1143.5 448.2,1146.1 448.6,1148.8 C448.9,1151.4 449.3,1154.0 449.8,1156.7 C450.2,1159.3 450.6,1161.9 451.1,1164.6 C451.5,1167.2 452.0,1169.8 452.5,1172.4 C453.1,1175.0 453.6,1177.6 454.2,1180.2 C454.8,1182.8 455.5,1185.4 456.1,1188.0 C456.8,1190.6 457.5,1193.2 458.2,1195.7 C458.9,1198.3 459.6,1200.9 460.3,1203.4 C461.0,1206.0 461.7,1208.6 462.4,1211.2 C463.1,1213.7 463.7,1216.3 464.4,1218.9 C465.0,1221.5 465.6,1224.1 466.4,1226.7 C467.1,1229.2 467.9,1231.8 468.9,1234.2 C469.8,1236.7 470.9,1239.2 472.1,1241.6 C473.3,1244.0 474.4,1246.5 475.9,1248.6 C477.4,1250.7 478.9,1253.2 481.0,1254.4 C483.2,1255.6 486.2,1255.4 488.8,1255.7 C491.4,1256.1 494.1,1256.4 496.7,1256.7 C499.4,1256.9 502.0,1257.3 504.7,1257.5 C507.3,1257.7 510.0,1257.7 512.7,1257.9 C515.3,1258.1 518.0,1258.4 520.6,1258.9 C523.2,1259.3 525.8,1259.9 528.4,1260.4 C531.1,1260.8 533.7,1261.1 536.4,1261.4 C539.0,1261.7 541.7,1261.9 544.3,1262.2 C547.0,1262.4 549.6,1262.6 552.3,1262.9 C554.9,1263.3 557.6,1263.6 560.2,1264.1 C562.8,1264.5 565.4,1265.2 568.0,1265.8 C570.6,1266.4 573.2,1267.0 575.8,1267.5 C578.4,1268.0 581.1,1268.4 583.7,1268.7 C586.3,1269.1 589.0,1269.5 591.6,1269.8 C594.3,1270.1 596.9,1270.5 599.6,1270.8 C602.2,1271.1 604.9,1271.4 607.5,1271.8 C610.2,1272.1 612.8,1272.5 615.4,1272.8 C618.1,1273.2 620.7,1273.5 623.4,1273.9 C626.0,1274.3 628.7,1274.6 631.3,1275.0 C633.9,1275.3 636.6,1275.7 639.2,1276.0 C641.9,1276.4 644.5,1276.7 647.2,1277.1 C649.8,1277.4 652.5,1277.7 655.1,1278.0 C657.8,1278.3 660.4,1278.5 663.1,1278.8 C665.7,1279.2 668.4,1279.5 671.0,1280.0 C673.6,1280.5 676.2,1281.0 678.8,1281.7 C681.3,1282.5 683.8,1283.3 686.4,1284.2 C688.9,1285.1 691.4,1286.1 693.9,1287.0 C696.3,1288.0 698.8,1289.0 701.3,1290.0 C703.7,1291.0 706.2,1292.0 708.7,1293.0 C711.2,1293.9 713.7,1294.9 716.2,1295.8 C718.7,1296.6 721.2,1297.5 723.8,1298.3 C726.3,1299.1 728.9,1299.9 731.4,1300.6 C734.0,1301.4 736.6,1302.1 739.2,1302.7 C741.7,1303.4 744.3,1304.0 747.0,1304.5 C749.6,1305.0 752.2,1305.5 754.8,1305.8 C757.5,1306.2 760.1,1306.5 762.8,1306.7 C765.4,1306.9 768.1,1307.0 770.8,1307.1 C773.4,1307.2 776.1,1307.3 778.8,1307.4 C781.4,1307.4 784.1,1307.5 786.7,1307.5 C789.4,1307.5 792.1,1307.6 794.7,1307.6 C797.4,1307.6 800.1,1307.7 802.7,1307.7 C805.4,1307.8 808.1,1307.8 810.7,1307.9 C813.4,1307.9 816.1,1308.0 818.7,1308.1 C821.4,1308.1 824.1,1308.2 826.7,1308.2 C829.4,1308.3 832.1,1308.4 834.7,1308.4 C837.4,1308.5 840.1,1308.6 842.7,1308.7 C845.4,1308.7 848.1,1308.8 850.7,1308.9 C853.4,1309.0 856.1,1309.2 858.7,1309.3 C861.4,1309.4 864.1,1309.5 866.7,1309.6 C869.4,1309.8 872.0,1309.9 874.7,1310.0 C877.4,1310.2 880.0,1310.3 882.7,1310.5 C885.4,1310.6 888.0,1310.8 890.7,1311.0 C893.3,1311.1 896.0,1311.3 898.7,1311.5 C901.3,1311.7 904.0,1311.9 906.6,1312.1 C909.3,1312.3 912.0,1312.5 914.6,1312.7 C917.3,1312.9 919.9,1313.1 922.6,1313.3 C925.3,1313.5 927.9,1313.7 930.6,1313.9 C933.2,1314.1 935.9,1314.2 938.6,1314.4 C941.2,1314.6 943.9,1314.7 946.5,1314.9 C949.2,1315.0 951.9,1315.2 954.5,1315.3 C957.2,1315.5 959.9,1315.6 962.5,1315.7 C965.2,1315.9 967.8,1316.0 970.5,1316.1 C973.2,1316.2 975.8,1316.3 978.5,1316.4 C981.2,1316.5 983.8,1316.7 986.5,1316.8 C989.2,1316.9 991.8,1317.0 994.5,1317.1 C997.2,1317.2 999.8,1317.3 1002.5,1317.4 C1005.1,1317.5 1007.8,1317.5 1010.5,1317.6 C1013.1,1317.7 1015.8,1317.8 1018.5,1317.9 C1021.1,1318.0 1023.8,1318.1 1026.5,1318.2 C1029.1,1318.3 1031.8,1318.3 1034.5,1318.4 C1037.1,1318.5 1039.8,1318.6 1042.5,1318.6 C1045.1,1318.7 1047.8,1318.8 1050.5,1318.8 C1053.1,1318.9 1055.8,1318.9 1058.5,1318.9 C1061.1,1319.0 1063.8,1319.0 1066.5,1319.1 C1069.1,1319.1 1071.8,1319.1 1074.5,1319.1 C1077.1,1319.2 1079.8,1319.2 1082.5,1319.2 C1085.1,1319.3 1087.8,1319.3 1090.5,1319.3 C1093.1,1319.4 1095.8,1319.4 1098.5,1319.5 C1101.1,1319.5 1103.8,1319.6 1106.5,1319.7 C1109.1,1319.8 1111.8,1319.9 1114.4,1320.0 C1117.1,1320.2 1119.8,1320.3 1122.4,1320.5 C1125.1,1320.6 1127.8,1320.8 1130.4,1321.0 C1133.1,1321.2 1135.7,1321.5 1138.4,1321.7 C1141.0,1321.9 1143.7,1322.2 1146.4,1322.4 C1149.0,1322.6 1151.7,1322.8 1154.3,1323.1 C1157.0,1323.3 1159.6,1323.5 1162.3,1323.8 C1164.9,1324.0 1167.6,1324.3 1170.3,1324.5 C1172.9,1324.8 1175.6,1325.1 1178.2,1325.3 C1180.9,1325.6 1183.5,1325.8 1186.2,1326.1 C1188.8,1326.4 1191.5,1326.6 1194.1,1326.9 C1196.8,1327.2 1199.4,1327.4 1202.1,1327.7 C1204.8,1327.9 1207.4,1328.2 1210.1,1328.5 C1212.7,1328.7 1215.4,1329.0 1218.0,1329.3 C1220.7,1329.5 1223.3,1329.8 1226.0,1330.1 C1228.6,1330.3 1231.3,1330.6 1233.9,1330.9 C1236.6,1331.1 1239.2,1331.4 1241.9,1331.7 C1244.6,1332.0 1247.2,1332.2 1249.9,1332.5 C1252.5,1332.8 1255.2,1333.0 1257.8,1333.3 C1260.5,1333.6 1263.1,1333.8 1265.8,1334.1 C1268.4,1334.4 1271.1,1334.6 1273.7,1334.9 C1276.4,1335.2 1279.0,1335.5 1281.7,1335.7 C1284.3,1336.0 1287.0,1336.3 1289.7,1336.5 C1292.3,1336.8 1295.0,1337.1 1297.6,1337.3 C1300.3,1337.6 1302.9,1337.8 1305.6,1338.1 C1308.2,1338.3 1310.9,1338.6 1313.6,1338.8 C1316.2,1339.0 1318.9,1339.2 1321.5,1339.4 C1324.2,1339.6 1326.8,1339.9 1329.5,1340.1 C1332.2,1340.2 1334.8,1340.4 1337.5,1340.6 C1340.1,1340.8 1342.8,1341.0 1345.5,1341.2 C1348.1,1341.4 1350.8,1341.6 1353.4,1341.8 C1356.1,1342.0 1358.8,1342.2 1361.4,1342.4 C1364.1,1342.6 1366.7,1342.8 1369.4,1343.0 C1372.0,1343.2 1374.7,1343.4 1377.4,1343.6 C1380.0,1343.8 1382.7,1344.0 1385.3,1344.2 C1388.0,1344.4 1390.7,1344.6 1393.3,1344.8 C1396.0,1345.0 1398.6,1345.1 1401.3,1345.3 C1404.0,1345.5 1406.6,1345.6 1409.3,1345.8 C1412.0,1346.0 1414.6,1346.1 1417.3,1346.3 C1419.9,1346.4 1422.6,1346.6 1425.3,1346.7 C1427.9,1346.8 1430.6,1346.9 1433.3,1347.0 C1435.9,1347.1 1438.6,1347.1 1441.3,1347.2 C1443.9,1347.3 1446.6,1347.3 1449.3,1347.3 C1451.9,1347.4 1454.6,1347.4 1457.3,1347.4 C1459.9,1347.4 1462.6,1347.5 1465.3,1347.5 C1467.9,1347.5 1470.6,1347.5 1473.3,1347.5 C1475.9,1347.5 1478.6,1347.5 1481.3,1347.5 C1483.9,1347.5 1486.6,1347.5 1489.3,1347.5 C1491.9,1347.5 1494.6,1347.5 1497.3,1347.6 C1499.9,1347.6 1502.6,1347.6 1505.3,1347.6 C1507.9,1347.6 1510.6,1347.7 1513.3,1347.7 C1515.9,1347.7 1518.6,1347.7 1521.3,1347.8 C1523.9,1347.8 1526.6,1347.8 1529.3,1347.8 C1531.9,1347.9 1534.6,1347.9 1537.3,1347.9 C1539.9,1348.0 1542.6,1348.0 1545.3,1348.0 C1547.9,1348.1 1550.6,1348.1 1553.3,1348.1 C1555.9,1348.1 1558.6,1348.2 1561.3,1348.2 C1563.9,1348.2 1566.6,1348.3 1569.3,1348.3 C1571.9,1348.3 1574.6,1348.3 1577.3,1348.4 C1579.9,1348.4 1582.6,1348.4 1585.3,1348.4 C1587.9,1348.5 1590.6,1348.5 1593.3,1348.5 C1595.9,1348.5 1598.6,1348.6 1601.3,1348.6 C1603.9,1348.6 1606.6,1348.6 1609.3,1348.7 C1611.9,1348.7 1614.6,1348.7 1617.3,1348.7 C1619.9,1348.8 1622.6,1348.8 1625.2,1348.8 C1627.9,1348.8 1630.6,1348.9 1633.2,1348.9 C1635.9,1348.9 1638.6,1348.9 1641.2,1349.0 C1643.9,1349.0 1646.6,1349.0 1649.2,1349.0 C1651.9,1349.1 1654.6,1349.1 1657.2,1349.1 C1659.9,1349.1 1662.6,1349.2 1665.2,1349.2 C1667.9,1349.2 1670.6,1349.2 1673.2,1349.3 C1675.9,1349.3 1678.6,1349.3 1681.2,1349.3 C1683.9,1349.4 1686.6,1349.4 1689.2,1349.4 C1691.9,1349.4 1694.6,1349.5 1697.2,1349.5 C1699.9,1349.5 1702.6,1349.5 1705.2,1349.6 C1707.9,1349.6 1710.6,1349.6 1713.2,1349.7 C1715.9,1349.7 1718.6,1349.7 1721.2,1349.8 C1723.9,1349.8 1726.6,1349.8 1729.2,1349.9 C1731.9,1349.9 1734.6,1350.0 1737.2,1350.0 C1739.9,1350.0 1742.6,1350.1 1745.2,1350.1 C1747.9,1350.2 1750.6,1350.2 1753.2,1350.3 C1755.9,1350.3 1758.6,1350.3 1761.2,1350.4 C1763.9,1350.4 1766.6,1350.5 1769.2,1350.5 C1771.9,1350.6 1774.6,1350.6 1777.2,1350.7 C1779.9,1350.7 1782.6,1350.7 1785.2,1350.8 C1787.9,1350.8 1790.6,1350.9 1793.2,1350.9 C1795.9,1351.0 1798.6,1351.0 1801.2,1351.1 C1803.9,1351.1 1806.6,1351.2 1809.2,1351.2 C1811.9,1351.3 1814.6,1351.4 1817.2,1351.4 C1819.9,1351.5 1822.6,1351.5 1825.2,1351.6 C1827.9,1351.6 1830.6,1351.7 1833.2,1351.7 C1835.9,1351.8 1838.6,1351.9 1841.2,1351.9 C1843.9,1352.0 1846.6,1352.1 1849.2,1352.1 C1851.9,1352.2 1854.6,1352.3 1857.2,1352.3 C1859.9,1352.4 1862.6,1352.5 1865.2,1352.6 C1867.9,1352.6 1870.5,1352.7 1873.2,1352.8 C1875.9,1352.9 1878.5,1353.0 1881.2,1353.1 C1883.9,1353.2 1886.5,1353.3 1889.2,1353.4 C1891.9,1353.5 1894.5,1353.5 1897.2,1353.6 C1899.9,1353.8 1902.5,1353.9 1905.2,1354.0 C1907.9,1354.1 1910.5,1354.2 1913.2,1354.3 C1915.9,1354.4 1918.5,1354.5 1921.2,1354.6 C1923.8,1354.7 1926.5,1354.8 1929.2,1354.9 C1931.8,1355.0 1934.5,1355.2 1937.2,1355.3 C1939.8,1355.4 1942.5,1355.5 1945.2,1355.6 C1947.8,1355.7 1950.5,1355.8 1953.2,1355.9 C1955.8,1356.0 1958.5,1356.2 1961.1,1356.3 C1963.8,1356.4 1966.5,1356.5 1969.1,1356.6 C1971.8,1356.7 1974.5,1356.8 1977.1,1356.9 C1979.8,1357.0 1982.5,1357.1 1985.1,1357.2 C1987.8,1357.3 1990.5,1357.4 1993.1,1357.5 C1995.8,1357.6 1998.4,1357.7 2001.1,1357.8 C2003.8,1357.9 2006.4,1358.1 2009.1,1358.2 C2011.8,1358.3 2014.4,1358.4 2017.1,1358.5 C2019.8,1358.6 2022.4,1358.8 2025.1,1358.9 C2027.8,1359.0 2030.4,1359.1 2033.1,1359.3 C2035.7,1359.4 2038.4,1359.6 2041.1,1359.7 C2043.7,1359.9 2046.4,1360.1 2049.1,1360.3 C2051.7,1360.4 2054.4,1360.6 2057.0,1360.8 C2059.7,1361.0 2062.3,1361.3 2065.0,1361.5 C2067.7,1361.7 2070.3,1361.9 2073.0,1362.2 C2075.6,1362.4 2078.3,1362.7 2080.9,1362.9 C2083.6,1363.2 2086.3,1363.4 2088.9,1363.7 C2091.5,1363.9 2095.2,1364.3 2096.8,1364.4 C2098.4,1364.6 2098.2,1364.6 2098.5,1364.6"/>
<path stroke="#FF8000" d="M372.3,46.0 C372.3,47.3 372.4,51.3 372.5,54.0 C372.5,56.7 372.6,59.3 372.7,62.0 C372.7,64.7 372.8,67.3 372.8,70.0 C372.9,72.7 373.0,75.3 373.0,78.0 C373.1,80.7 373.1,83.3 373.2,86.0 C373.3,88.7 373.3,91.3 373.4,94.0 C373.4,96.7 373.5,99.3 373.5,102.0 C373.6,104.7 373.7,107.3 373.7,110.0 C373.8,112.7 373.8,115.3 373.9,118.0 C373.9,120.6 374.0,123.3 374.0,126.0 C374.1,128.6 374.1,131.3 374.1,134.0 C374.2,136.6 374.2,139.3 374.3,142.0 C374.3,144.6 374.4,147.3 374.4,150.0 C374.5,152.6 374.5,155.3 374.5,158.0 C374.6,160.6 374.6,163.3 374.7,166.0 C374.7,168.6 374.8,171.3 374.8,174.0 C374.8,176.6 374.9,179.3 374.9,182.0 C375.0,184.6 375.0,187.3 375.0,190.0 C375.1,192.6 375.1,195.3 375.2,198.0 C375.2,200.6 375.3,203.3 375.3,206.0 C375.3,208.6 375.4,211.3 375.4,214.0 C375.5,216.6 375.5,219.3 375.5,222.0 C375.6,224.6 375.6,227.3 375.7,230.0 C375.7,232.6 375.8,235.3 375.8,238.0 C375.8,240.6 375.9,243.3 375.9,246.0 C376.0,248.6 376.0,251.3 376.0,254.0 C376.1,256.6 376.1,259.3 376.2,262.0 C376.2,264.6 376.2,267.3 376.3,270.0 C376.3,272.6 376.3,275.3 376.4,278.0 C376.4,280.6 376.4,283.3 376.4,286.0 C376.5,288.6 376.5,291.3 376.5,294.0 C376.6,296.6 376.6,299.3 376.6,302.0 C376.7,304.6 376.7,307.3 376.7,310.0 C376.8,312.6 376.8,315.3 376.8,318.0 C376.9,320.6 376.9,323.3 377.0,326.0 C377.0,328.6 377.1,331.3 377.2,334.0 C377.2,336.6 377.3,339.3 377.3,342.0 C377.4,344.6 377.5,347.3 377.6,350.0 C377.6,352.6 377.7,355.3 377.8,357.9 C377.9,360.6 378.0,363.3 378.1,365.9 C378.2,368.6 378.3,371.3 378.4,373.9 C378.5,376.6 378.6,379.3 378.7,381.9 C378.8,384.6 378.9,387.3 379.1,389.9 C379.2,392.6 379.3,395.2 379.4,397.9 C379.6,400.6 379.7,403.2 379.8,405.9 C379.9,408.6 380.1,411.2 380.2,413.9 C380.3,416.6 380.5,419.2 380.6,421.9 C380.8,424.5 380.9,427.2 381.0,429.9 C381.2,432.5 381.3,435.2 381.5,437.9 C381.6,440.5 381.8,443.2 381.9,445.8 C382.0,448.5 382.2,451.2 382.3,453.8 C382.5,456.5 382.6,459.2 382.8,461.8 C382.9,464.5 383.1,467.2 383.2,469.8 C383.4,472.5 383.5,475.1 383.7,477.8 C383.8,480.5 384.0,483.1 384.1,485.8 C384.3,488.5 384.4,491.1 384.6,493.8 C384.7,496.4 384.9,499.1 385.0,501.8 C385.2,504.4 385.3,507.1 385.5,509.8 C385.6,512.4 385.8,515.1 385.9,517.7 C386.0,520.4 386.2,523.1 386.3,525.7 C386.5,528.4 386.6,531.1 386.8,533.7 C386.9,536.4 387.1,539.0 387.2,541.7 C387.3,544.4 387.5,547.0 387.6,549.7 C387.8,552.4 387.9,555.0 388.0,557.7 C388.2,560.3 388.3,563.0 388.5,565.7 C388.6,568.3 388.7,571.0 388.9,573.7 C389.0,576.3 389.2,579.0 389.3,581.6 C389.4,584.3 389.6,587.0 389.7,589.6 C389.9,592.3 390.0,595.0 390.1,597.6 C390.3,600.3 390.4,603.0 390.6,605.6 C390.7,608.3 390.8,610.9 391.0,613.6 C391.1,616.3 391.3,618.9 391.4,621.6 C391.5,624.3 391.7,626.9 391.8,629.6 C392.0,632.2 392.1,634.9 392.2,637.6 C392.4,640.2 392.5,642.9 392.7,645.6 C392.8,648.2 393.0,650.9 393.1,653.5 C393.2,656.2 393.4,658.9 393.5,661.5 C393.7,664.2 393.8,666.9 394.0,669.5 C394.1,672.2 394.3,674.8 394.4,677.5 C394.6,680.2 394.7,682.8 394.9,685.5 C395.0,688.2 395.2,690.8 395.3,693.5 C395.5,696.1 395.6,698.8 395.8,701.5 C396.0,704.1 396.1,706.8 396.3,709.5 C396.5,712.1 396.6,714.8 396.8,717.4 C397.0,720.1 397.1,722.8 397.3,725.4 C397.5,728.1 397.7,730.7 397.9,733.4 C398.1,736.1 398.2,738.7 398.4,741.4 C398.6,744.0 398.8,746.7 399.0,749.4 C399.2,752.0 399.5,754.7 399.7,757.3 C399.9,760.0 400.1,762.7 400.3,765.3 C400.5,768.0 400.8,770.6 401.0,773.3 C401.2,775.9 401.5,778.6 401.7,781.3 C401.9,783.9 402.2,786.6 402.4,789.2 C402.6,791.9 402.8,794.5 403.1,797.2 C403.3,799.8 403.5,802.5 403.8,805.2 C404.0,807.8 404.2,810.5 404.5,813.1 C404.7,815.8 405.0,818.4 405.2,821.1 C405.5,823.8 405.7,826.4 406.0,829.1 C406.2,831.7 406.5,834.4 406.7,837.0 C407.0,839.7 407.3,842.3 407.6,845.0 C407.9,847.6 408.2,850.3 408.5,852.9 C408.8,855.6 409.1,858.2 409.4,860.9 C409.7,863.5 410.0,866.2 410.4,868.8 C410.7,871.5 411.1,874.1 411.4,876.7 C411.8,879.4 412.1,882.0 412.5,884.7 C412.8,887.3 413.3,889.9 413.7,892.6 C414.1,895.2 414.5,897.9 414.9,900.5 C415.3,903.1 415.7,905.8 416.1,908.4 C416.6,911.0 417.0,913.7 417.4,916.3 C417.9,918.9 418.3,921.5 418.7,924.2 C419.2,926.8 419.6,929.4 420.1,932.1 C420.6,934.7 421.0,937.3 421.5,939.9 C422.0,942.6 422.5,945.2 422.9,947.8 C423.4,950.4 423.9,953.0 424.4,955.7 C425.0,958.3 425.5,960.9 426.1,963.5 C426.7,966.1 427.3,968.7 428.0,971.3 C428.6,973.9 429.3,976.4 430.0,979.0 C430.7,981.6 431.5,984.1 432.2,986.7 C432.9,989.3 433.6,991.8 434.2,994.4 C434.8,997.0 435.4,999.6 435.9,1002.3 C436.4,1004.9 436.9,1007.5 437.3,1010.1 C437.8,1012.7 438.2,1015.4 438.7,1018.0 C439.2,1020.6 439.6,1023.3 440.1,1025.9 C440.6,1028.5 441.1,1031.1 441.7,1033.7 C442.4,1036.3 443.0,1038.9 443.9,1041.4 C444.8,1043.9 445.7,1046.4 446.9,1048.8 C448.1,1051.1 449.5,1053.5 451.1,1055.5 C452.8,1057.6 454.6,1059.6 456.6,1061.3 C458.7,1063.0 460.9,1064.5 463.2,1065.8 C465.5,1067.1 468.0,1068.2 470.4,1069.3 C472.9,1070.3 475.4,1071.3 477.9,1072.2 C480.4,1073.1 482.9,1073.9 485.5,1074.7 C488.0,1075.4 490.6,1076.1 493.2,1076.7 C495.8,1077.4 498.4,1078.0 501.0,1078.6 C503.6,1079.2 506.2,1079.8 508.8,1080.3 C511.4,1080.9 514.0,1081.4 516.6,1081.9 C519.2,1082.4 521.9,1082.9 524.5,1083.4 C527.1,1083.9 529.7,1084.5 532.3,1085.1 C534.9,1085.8 537.5,1086.4 540.0,1087.2 C542.6,1087.9 545.1,1088.7 547.7,1089.5 C550.2,1090.3 552.7,1091.2 555.2,1092.1 C557.7,1093.0 560.2,1094.0 562.7,1095.0 C565.2,1096.0 567.6,1097.0 570.1,1098.0 C572.5,1099.1 575.0,1100.1 577.4,1101.2 C579.9,1102.3 582.3,1103.4 584.7,1104.6 C587.1,1105.7 589.5,1106.9 591.9,1108.1 C594.3,1109.3 596.6,1110.5 599.0,1111.7 C601.4,1112.9 603.8,1114.1 606.1,1115.3 C608.5,1116.5 610.9,1117.7 613.3,1118.9 C615.7,1120.1 618.1,1121.2 620.5,1122.3 C622.9,1123.5 625.3,1124.6 627.7,1125.9 C630.1,1127.1 632.5,1128.3 634.8,1129.6 C637.1,1131.0 639.3,1132.4 641.5,1133.9 C643.7,1135.4 645.9,1137.0 648.0,1138.6 C650.1,1140.2 652.1,1142.0 654.2,1143.7 C656.2,1145.4 658.2,1147.1 660.2,1148.9 C662.1,1150.8 664.1,1152.6 665.8,1154.6 C667.5,1156.6 669.1,1158.8 670.5,1161.0 C672.0,1163.2 673.2,1165.6 674.5,1168.0 C675.8,1170.3 676.9,1172.7 678.2,1175.0 C679.5,1177.4 680.7,1179.7 682.0,1182.1 C683.3,1184.4 684.6,1186.7 686.0,1189.0 C687.3,1191.3 688.6,1193.7 690.1,1195.9 C691.5,1198.1 693.0,1200.3 694.7,1202.4 C696.3,1204.5 698.0,1206.6 699.9,1208.5 C701.7,1210.4 703.6,1212.3 705.6,1214.0 C707.7,1215.7 709.8,1217.4 712.1,1218.6 C714.4,1219.8 717.0,1221.2 719.4,1221.2 C721.9,1221.2 724.6,1220.0 726.8,1218.6 C728.9,1217.2 730.6,1214.9 732.4,1213.0 C734.1,1211.0 735.8,1208.8 737.4,1206.7 C739.0,1204.6 740.5,1202.4 742.0,1200.2 C743.5,1198.0 745.0,1195.8 746.5,1193.6 C748.0,1191.4 749.5,1189.1 750.9,1186.9 C752.4,1184.7 753.9,1182.5 755.4,1180.3 C756.8,1178.0 758.3,1175.8 759.8,1173.6 C761.3,1171.4 762.7,1169.1 764.2,1166.9 C765.7,1164.7 767.1,1162.5 768.6,1160.2 C770.1,1158.0 771.5,1155.8 773.0,1153.5 C774.4,1151.3 775.9,1149.1 777.3,1146.8 C778.7,1144.6 780.2,1142.3 781.6,1140.1 C783.0,1137.8 784.4,1135.5 785.8,1133.3 C787.3,1131.0 788.7,1128.7 790.0,1126.5 C791.4,1124.2 792.8,1121.9 794.2,1119.6 C795.6,1117.3 796.9,1115.1 798.3,1112.8 C799.7,1110.5 801.0,1108.2 802.4,1105.9 C803.7,1103.6 805.1,1101.3 806.5,1099.0 C807.8,1096.7 809.2,1094.4 810.6,1092.1 C811.9,1089.9 813.3,1087.6 814.7,1085.3 C816.1,1083.0 817.4,1080.7 818.8,1078.4 C820.2,1076.1 821.5,1073.8 822.9,1071.6 C824.3,1069.3 825.6,1067.0 827.0,1064.7 C828.4,1062.4 829.8,1060.1 831.1,1057.8 C832.5,1055.5 833.9,1053.3 835.2,1051.0 C836.6,1048.7 838.0,1046.4 839.3,1044.1 C840.6,1041.8 841.9,1039.4 843.2,1037.1 C844.6,1034.8 845.9,1032.5 847.2,1030.2 C848.5,1027.8 849.8,1025.5 851.2,1023.2 C852.6,1021.0 854.0,1018.7 855.4,1016.4 C856.8,1014.2 858.3,1012.0 859.8,1009.8 C861.3,1007.6 862.9,1005.4 864.5,1003.3 C866.1,1001.1 867.7,999.0 869.3,996.9 C871.0,994.8 872.7,992.7 874.3,990.6 C876.0,988.6 877.7,986.5 879.4,984.4 C881.1,982.4 882.8,980.3 884.5,978.3 C886.2,976.2 887.9,974.2 889.6,972.2 C891.3,970.1 893.1,968.1 894.8,966.0 C896.5,964.0 898.2,961.9 899.9,959.9 C901.6,957.8 903.2,955.7 904.9,953.7 C906.6,951.6 908.3,949.6 910.0,947.5 C911.7,945.5 913.4,943.4 915.1,941.3 C916.8,939.3 918.5,937.2 920.2,935.2 C922.0,933.1 923.7,931.1 925.6,929.2 C927.5,927.4 929.4,925.6 931.5,923.8 C933.5,922.1 935.5,920.4 937.6,918.8 C939.7,917.1 941.9,915.5 944.0,914.0 C946.2,912.4 948.4,910.9 950.6,909.4 C952.8,907.9 955.0,906.4 957.3,905.1 C959.7,903.8 962.0,902.5 964.5,901.6 C967.0,900.7 969.6,900.1 972.2,899.6 C974.8,899.1 977.5,898.7 980.1,898.5 C982.8,898.3 985.5,898.3 988.1,898.4 C990.8,898.6 993.4,899.0 996.0,899.5 C998.6,900.1 1001.2,900.7 1003.7,901.6 C1006.2,902.5 1008.6,903.7 1011.0,904.9 C1013.4,906.1 1015.8,907.3 1018.1,908.6 C1020.4,909.9 1022.6,911.4 1024.8,912.8 C1027.0,914.3 1029.2,915.9 1031.4,917.4 C1033.5,919.0 1035.6,920.7 1037.7,922.3 C1039.7,924.0 1041.8,925.7 1043.8,927.5 C1045.8,929.2 1047.8,931.0 1049.8,932.8 C1051.8,934.6 1053.7,936.4 1055.7,938.2 C1057.6,940.0 1059.6,941.8 1061.6,943.6 C1063.5,945.4 1065.5,947.2 1067.6,948.9 C1069.6,950.6 1071.7,952.2 1073.8,953.8 C1076.0,955.4 1078.2,956.9 1080.4,958.3 C1082.6,959.8 1084.9,961.2 1087.0,962.7 C1089.2,964.3 1091.4,965.8 1093.5,967.4 C1095.6,969.1 1097.7,970.8 1099.7,972.5 C1101.8,974.2 1103.8,975.9 1105.8,977.6 C1107.9,979.3 1109.9,981.0 1112.0,982.7 C1114.1,984.4 1116.2,986.0 1118.3,987.7 C1120.4,989.3 1122.5,991.0 1124.6,992.6 C1126.7,994.2 1128.9,995.8 1131.0,997.3 C1133.2,998.9 1135.4,1000.4 1137.6,1001.9 C1139.8,1003.4 1142.0,1004.8 1144.3,1006.2 C1146.6,1007.6 1148.9,1009.0 1151.2,1010.3 C1153.5,1011.6 1155.9,1012.9 1158.2,1014.1 C1160.6,1015.3 1163.0,1016.5 1165.3,1017.7 C1167.7,1018.9 1170.1,1020.1 1172.5,1021.3 C1174.9,1022.5 1177.3,1023.7 1179.7,1024.9 C1182.0,1026.1 1184.4,1027.3 1186.8,1028.5 C1189.2,1029.7 1191.5,1031.0 1193.9,1032.2 C1196.3,1033.4 1198.6,1034.6 1201.0,1035.8 C1203.4,1037.0 1205.8,1038.2 1208.2,1039.4 C1210.6,1040.5 1213.0,1041.6 1215.4,1042.7 C1217.9,1043.8 1220.3,1044.9 1222.8,1045.9 C1225.2,1047.0 1227.7,1048.0 1230.2,1048.9 C1232.7,1049.9 1235.1,1050.9 1237.6,1051.8 C1240.1,1052.7 1242.7,1053.6 1245.2,1054.5 C1247.7,1055.4 1250.2,1056.2 1252.8,1057.1 C1255.3,1057.9 1257.8,1058.7 1260.4,1059.5 C1262.9,1060.3 1265.5,1061.1 1268.0,1061.9 C1270.6,1062.6 1273.1,1063.4 1275.7,1064.1 C1278.3,1064.8 1280.8,1065.5 1283.4,1066.2 C1286.0,1066.8 1288.6,1067.5 1291.2,1068.1 C1293.8,1068.7 1296.4,1069.3 1299.0,1069.9 C1301.6,1070.4 1304.2,1071.0 1306.8,1071.5 C1309.4,1072.0 1312.0,1072.5 1314.7,1073.1 C1317.3,1073.6 1319.9,1074.1 1322.5,1074.6 C1325.1,1075.1 1327.8,1075.6 1330.4,1076.1 C1333.0,1076.6 1335.6,1077.1 1338.2,1077.6 C1340.8,1078.1 1343.5,1078.6 1346.1,1079.1 C1348.7,1079.6 1351.3,1080.2 1353.9,1080.7 C1356.5,1081.2 1359.2,1081.7 1361.8,1082.2 C1364.4,1082.7 1367.0,1083.3 1369.6,1083.8 C1372.2,1084.3 1374.9,1084.8 1377.5,1085.3 C1380.1,1085.9 1382.7,1086.4 1385.3,1086.9 C1387.9,1087.4 1390.5,1088.0 1393.2,1088.5 C1395.8,1089.0 1398.4,1089.6 1401.0,1090.1 C1403.6,1090.6 1406.2,1091.2 1408.8,1091.7 C1411.4,1092.3 1414.1,1092.8 1416.7,1093.3 C1419.3,1093.8 1421.9,1094.3 1424.5,1094.8 C1427.1,1095.3 1429.8,1095.7 1432.4,1096.2 C1435.0,1096.6 1437.7,1097.1 1440.3,1097.5 C1442.9,1097.9 1445.6,1098.3 1448.2,1098.7 C1450.8,1099.1 1453.5,1099.5 1456.1,1099.8 C1458.8,1100.2 1461.4,1100.6 1464.0,1101.0 C1466.7,1101.4 1469.3,1101.8 1472.0,1102.2 C1474.6,1102.6 1477.2,1103.0 1479.9,1103.4 C1482.5,1103.8 1485.1,1104.2 1487.8,1104.6 C1490.4,1105.1 1493.0,1105.5 1495.7,1105.9 C1498.3,1106.3 1500.9,1106.7 1503.6,1107.1 C1506.2,1107.4 1508.9,1107.8 1511.5,1108.1 C1514.1,1108.4 1516.8,1108.7 1519.4,1109.0 C1522.1,1109.3 1524.8,1109.6 1527.4,1109.8 C1530.1,1110.1 1532.7,1110.3 1535.4,1110.5 C1538.0,1110.8 1540.7,1111.0 1543.3,1111.2 C1546.0,1111.4 1548.7,1111.6 1551.3,1111.8 C1554.0,1112.0 1556.6,1112.1 1559.3,1112.3 C1562.0,1112.5 1564.6,1112.7 1567.3,1112.8 C1570.0,1113.0 1572.6,1113.1 1575.3,1113.3 C1577.9,1113.4 1580.6,1113.6 1583.3,1113.7 C1585.9,1113.9 1588.6,1114.0 1591.3,1114.2 C1593.9,1114.3 1596.6,1114.4 1599.2,1114.6 C1601.9,1114.7 1604.6,1114.8 1607.2,1114.9 C1609.9,1115.1 1612.6,1115.2 1615.2,1115.3 C1617.9,1115.4 1620.6,1115.5 1623.2,1115.6 C1625.9,1115.8 1628.5,1115.9 1631.2,1116.0 C1633.9,1116.1 1636.5,1116.2 1639.2,1116.3 C1641.9,1116.4 1644.5,1116.5 1647.2,1116.5 C1649.9,1116.6 1652.5,1116.6 1655.2,1116.7 C1657.9,1116.7 1660.5,1116.7 1663.2,1116.7 C1665.9,1116.7 1668.5,1116.7 1671.2,1116.7 C1673.9,1116.7 1676.5,1116.7 1679.2,1116.8 C1681.9,1116.8 1684.5,1116.9 1687.2,1116.9 C1689.9,1117.0 1692.5,1117.0 1695.2,1117.1 C1697.9,1117.2 1700.5,1117.2 1703.2,1117.3 C1705.9,1117.4 1708.5,1117.5 1711.2,1117.6 C1713.9,1117.7 1716.5,1117.8 1719.2,1117.9 C1721.8,1118.0 1724.5,1118.2 1727.2,1118.3 C1729.8,1118.5 1732.5,1118.7 1735.1,1118.9 C1737.8,1119.2 1740.5,1119.4 1743.1,1119.7 C1745.7,1120.1 1748.4,1120.4 1751.0,1120.8 C1753.7,1121.2 1756.3,1121.7 1758.9,1122.1 C1761.5,1122.5 1764.2,1123.0 1766.8,1123.4 C1769.4,1123.8 1772.1,1124.2 1774.7,1124.6 C1777.4,1125.0 1780.0,1125.3 1782.6,1125.6 C1785.3,1125.9 1787.9,1126.2 1790.6,1126.4 C1793.3,1126.7 1795.9,1126.9 1798.6,1127.2 C1801.2,1127.4 1803.9,1127.6 1806.5,1127.8 C1809.2,1128.0 1811.9,1128.2 1814.5,1128.4 C1817.2,1128.6 1819.8,1128.8 1822.5,1129.0 C1825.2,1129.1 1827.8,1129.3 1830.5,1129.5 C1833.1,1129.7 1835.8,1129.8 1838.5,1130.0 C1841.1,1130.2 1843.8,1130.3 1846.5,1130.5 C1849.1,1130.6 1851.8,1130.7 1854.4,1130.9 C1857.1,1131.0 1859.8,1131.1 1862.4,1131.3 C1865.1,1131.4 1867.8,1131.5 1870.4,1131.6 C1873.1,1131.8 1875.8,1131.9 1878.4,1132.0 C1881.1,1132.1 1883.7,1132.3 1886.4,1132.4 C1889.1,1132.6 1891.7,1132.7 1894.4,1132.8 C1897.1,1133.0 1899.7,1133.1 1902.4,1133.2 C1905.0,1133.4 1907.7,1133.5 1910.4,1133.6 C1913.0,1133.8 1915.7,1133.9 1918.4,1134.0 C1921.0,1134.2 1923.7,1134.3 1926.4,1134.4 C1929.0,1134.5 1931.7,1134.6 1934.4,1134.7 C1937.0,1134.8 1939.7,1134.9 1942.3,1135.0 C1945.0,1135.1 1947.7,1135.2 1950.3,1135.3 C1953.0,1135.4 1955.7,1135.5 1958.3,1135.6 C1961.0,1135.7 1963.7,1135.8 1966.3,1136.0 C1969.0,1136.1 1971.7,1136.2 1974.3,1136.3 C1977.0,1136.4 1979.6,1136.5 1982.3,1136.7 C1985.0,1136.8 1987.6,1136.9 1990.3,1137.0 C1993.0,1137.2 1995.6,1137.3 1998.3,1137.5 C2001.0,1137.6 2003.6,1137.8 2006.3,1138.0 C2008.9,1138.2 2011.6,1138.4 2014.2,1138.7 C2016.9,1138.9 2019.6,1139.2 2022.2,1139.4 C2024.9,1139.7 2027.5,1140.0 2030.1,1140.4 C2032.8,1140.7 2035.4,1141.1 2038.1,1141.5 C2040.7,1141.9 2043.3,1142.3 2046.0,1142.7 C2048.6,1143.2 2051.2,1143.7 2053.8,1144.2 C2056.5,1144.7 2059.1,1145.2 2061.7,1145.7 C2064.3,1146.2 2066.9,1146.8 2069.5,1147.3 C2072.2,1147.8 2074.8,1148.3 2077.4,1148.7 C2080.0,1149.2 2082.6,1149.7 2085.3,1150.2 C2087.9,1150.7 2090.9,1151.2 2093.1,1151.6 C2095.3,1152.0 2097.6,1152.4 2098.5,1152.6"/>
<path stroke="#808000" d="M328.8,46.0 C329.0,47.3 329.4,51.3 329.8,53.9 C330.1,56.6 330.4,59.2 330.7,61.9 C331.0,64.5 331.3,67.2 331.6,69.8 C331.9,72.5 332.2,75.1 332.4,77.8 C332.7,80.4 333.0,83.1 333.2,85.8 C333.5,88.4 333.8,91.1 334.0,93.7 C334.2,96.4 334.5,99.0 334.7,101.7 C335.0,104.3 335.2,107.0 335.4,109.6 C335.7,112.3 335.9,115.0 336.1,117.6 C336.4,120.3 336.6,122.9 336.9,125.6 C337.1,128.2 337.4,130.9 337.6,133.5 C337.9,136.2 338.1,138.9 338.4,141.5 C338.7,144.2 338.9,146.8 339.2,149.5 C339.5,152.1 339.8,154.8 340.0,157.4 C340.3,160.1 340.6,162.7 340.8,165.4 C341.0,168.0 341.3,170.7 341.5,173.4 C341.7,176.0 341.9,178.7 342.1,181.3 C342.3,184.0 342.5,186.6 342.7,189.3 C342.9,192.0 343.0,194.6 343.2,197.3 C343.4,200.0 343.6,202.6 343.7,205.3 C343.9,207.9 344.1,210.6 344.3,213.3 C344.4,215.9 344.6,218.6 344.8,221.2 C345.0,223.9 345.2,226.6 345.4,229.2 C345.6,231.9 345.8,234.5 346.0,237.2 C346.2,239.9 346.4,242.5 346.6,245.2 C346.8,247.8 347.1,250.5 347.3,253.1 C347.5,255.8 347.7,258.5 347.9,261.1 C348.1,263.8 348.3,266.4 348.6,269.1 C348.8,271.7 349.0,274.4 349.2,277.1 C349.4,279.7 349.7,282.4 349.9,285.0 C350.1,287.7 350.3,290.3 350.6,293.0 C350.8,295.7 351.0,298.3 351.2,301.0 C351.5,303.6 351.7,306.3 351.9,308.9 C352.1,311.6 352.4,314.3 352.6,316.9 C352.8,319.6 353.0,322.2 353.2,324.9 C353.4,327.6 353.6,330.2 353.8,332.9 C354.1,335.5 354.3,338.2 354.4,340.8 C354.6,343.5 354.8,346.2 355.0,348.8 C355.2,351.5 355.3,354.2 355.5,356.8 C355.7,359.5 355.8,362.1 355.9,364.8 C356.1,367.5 356.2,370.1 356.3,372.8 C356.4,375.5 356.6,378.1 356.7,380.8 C356.8,383.4 356.9,386.1 357.0,388.8 C357.0,391.4 357.1,394.1 357.2,396.8 C357.3,399.4 357.4,402.1 357.5,404.8 C357.6,407.4 357.6,410.1 357.7,412.8 C357.8,415.4 357.9,418.1 358.0,420.8 C358.1,423.4 358.2,426.1 358.3,428.8 C358.4,431.4 358.5,434.1 358.6,436.7 C358.8,439.4 358.9,442.1 359.0,444.7 C359.2,447.4 359.3,450.1 359.5,452.7 C359.6,455.4 359.8,458.0 360.0,460.7 C360.2,463.4 360.4,466.0 360.6,468.7 C360.8,471.3 361.0,474.0 361.2,476.7 C361.4,479.3 361.7,482.0 361.9,484.6 C362.1,487.3 362.4,489.9 362.6,492.6 C362.8,495.3 363.1,497.9 363.3,500.6 C363.6,503.2 363.8,505.9 364.1,508.5 C364.3,511.2 364.6,513.8 364.8,516.5 C365.1,519.1 365.3,521.8 365.6,524.5 C365.8,527.1 366.1,529.8 366.3,532.4 C366.6,535.1 366.8,537.7 367.0,540.4 C367.3,543.0 367.5,545.7 367.7,548.4 C368.0,551.0 368.2,553.7 368.4,556.3 C368.7,559.0 368.9,561.6 369.1,564.3 C369.4,567.0 369.6,569.6 369.8,572.3 C370.1,574.9 370.3,577.6 370.5,580.2 C370.8,582.9 371.0,585.6 371.2,588.2 C371.4,590.9 371.7,593.5 371.9,596.2 C372.1,598.8 372.4,601.5 372.6,604.1 C372.8,606.8 373.1,609.5 373.3,612.1 C373.5,614.8 373.8,617.4 374.0,620.1 C374.3,622.7 374.5,625.4 374.7,628.1 C375.0,630.7 375.2,633.4 375.5,636.0 C375.7,638.7 375.9,641.3 376.2,644.0 C376.4,646.6 376.7,649.3 376.9,652.0 C377.2,654.6 377.4,657.3 377.6,659.9 C377.9,662.6 378.1,665.2 378.4,667.9 C378.6,670.5 378.9,673.2 379.1,675.9 C379.4,678.5 379.6,681.2 379.9,683.8 C380.1,686.5 380.3,689.1 380.6,691.8 C380.8,694.4 381.1,697.1 381.3,699.8 C381.5,702.4 381.8,705.1 382.0,707.7 C382.2,710.4 382.5,713.0 382.7,715.7 C382.9,718.3 383.2,721.0 383.4,723.7 C383.6,726.3 383.9,729.0 384.1,731.6 C384.3,734.3 384.6,736.9 384.8,739.6 C385.0,742.3 385.3,744.9 385.5,747.6 C385.8,750.2 386.0,752.9 386.3,755.5 C386.5,758.2 386.8,760.8 387.0,763.5 C387.3,766.1 387.6,768.8 387.8,771.5 C388.1,774.1 388.4,776.8 388.7,779.4 C389.0,782.1 389.3,784.7 389.6,787.4 C389.9,790.0 390.2,792.7 390.5,795.3 C390.8,798.0 391.1,800.6 391.5,803.2 C391.8,805.9 392.1,808.5 392.4,811.2 C392.8,813.8 393.1,816.5 393.4,819.1 C393.8,821.8 394.1,824.4 394.4,827.1 C394.7,829.7 395.0,832.4 395.3,835.0 C395.6,837.7 396.0,840.3 396.3,843.0 C396.6,845.6 396.9,848.2 397.3,850.9 C397.6,853.5 398.0,856.2 398.4,858.8 C398.8,861.4 399.2,864.1 399.7,866.7 C400.1,869.3 400.7,871.9 401.2,874.5 C401.6,877.2 402.0,879.8 402.6,882.4 C403.2,885.0 403.9,887.6 404.6,890.2 C405.3,892.7 406.0,895.3 406.6,897.9 C407.3,900.5 408.0,903.0 408.7,905.6 C409.4,908.2 410.1,910.8 410.7,913.4 C411.3,916.0 412.0,918.5 412.6,921.1 C413.2,923.7 413.8,926.3 414.4,928.9 C415.0,931.5 415.6,934.1 416.3,936.7 C416.9,939.3 417.5,941.9 418.2,944.5 C418.9,947.0 419.6,949.6 420.3,952.2 C421.1,954.7 421.9,957.3 422.8,959.8 C423.7,962.3 424.6,964.8 425.8,967.2 C426.9,969.6 428.2,971.9 429.7,974.1 C431.2,976.4 432.8,978.5 434.5,980.5 C436.3,982.5 438.2,984.3 440.2,986.2 C442.1,988.0 444.1,989.8 446.1,991.5 C448.2,993.2 450.2,994.9 452.4,996.4 C454.6,998.0 456.9,999.2 459.2,1000.6 C461.5,1001.9 463.9,1003.2 466.2,1004.4 C468.6,1005.7 470.9,1006.9 473.3,1008.2 C475.7,1009.4 478.0,1010.7 480.4,1011.9 C482.8,1013.1 485.1,1014.4 487.5,1015.6 C489.8,1016.9 492.2,1018.1 494.5,1019.4 C496.9,1020.6 499.3,1021.9 501.6,1023.2 C503.9,1024.5 506.2,1025.8 508.5,1027.2 C510.7,1028.7 512.9,1030.2 515.1,1031.7 C517.2,1033.3 519.4,1034.9 521.5,1036.5 C523.6,1038.1 525.7,1039.7 527.8,1041.4 C529.9,1043.0 532.0,1044.7 534.2,1046.3 C536.3,1047.9 538.4,1049.5 540.5,1051.1 C542.7,1052.7 544.8,1054.3 547.0,1055.8 C549.2,1057.4 551.3,1058.9 553.5,1060.4 C555.7,1062.0 557.9,1063.5 560.1,1065.0 C562.3,1066.5 564.5,1068.1 566.6,1069.6 C568.8,1071.2 570.9,1072.8 573.1,1074.4 C575.2,1076.0 577.3,1077.6 579.4,1079.2 C581.5,1080.9 583.6,1082.6 585.7,1084.2 C587.7,1085.9 589.8,1087.6 591.8,1089.3 C593.8,1091.1 595.9,1092.8 597.9,1094.6 C599.9,1096.3 601.9,1098.1 603.8,1099.9 C605.8,1101.7 607.7,1103.6 609.6,1105.4 C611.6,1107.2 613.5,1109.1 615.3,1111.0 C617.2,1112.9 619.1,1114.8 620.9,1116.8 C622.7,1118.7 624.5,1120.7 626.3,1122.7 C628.1,1124.7 629.8,1126.7 631.5,1128.7 C633.3,1130.8 634.9,1132.8 636.6,1134.9 C638.2,1137.0 639.8,1139.1 641.4,1141.3 C642.9,1143.5 644.4,1145.7 645.7,1148.0 C647.1,1150.3 648.4,1152.7 649.6,1155.0 C650.9,1157.4 652.0,1159.8 653.3,1162.1 C654.6,1164.4 655.9,1166.8 657.3,1169.1 C658.6,1171.4 660.0,1173.6 661.4,1175.9 C662.9,1178.1 664.3,1180.4 665.8,1182.6 C667.3,1184.8 668.8,1187.0 670.3,1189.2 C671.9,1191.3 673.5,1193.5 675.1,1195.6 C676.7,1197.7 678.3,1199.8 680.0,1201.9 C681.7,1204.0 683.4,1206.1 685.1,1208.1 C686.8,1210.1 688.6,1212.1 690.3,1214.1 C692.1,1216.1 693.9,1218.1 695.7,1220.1 C697.5,1222.0 699.4,1224.0 701.3,1225.8 C703.3,1227.6 705.3,1229.3 707.4,1231.0 C709.5,1232.6 711.7,1234.1 713.9,1235.5 C716.2,1236.9 718.5,1238.3 720.9,1239.5 C723.3,1240.6 725.8,1242.0 728.3,1242.4 C730.8,1242.9 733.6,1243.0 736.0,1242.3 C738.4,1241.6 740.6,1239.6 742.7,1238.0 C744.8,1236.4 746.8,1234.6 748.7,1232.7 C750.5,1230.8 752.3,1228.9 754.0,1226.8 C755.7,1224.7 757.2,1222.6 758.8,1220.4 C760.3,1218.2 761.7,1215.9 763.1,1213.6 C764.5,1211.4 765.8,1209.0 767.1,1206.7 C768.4,1204.4 769.7,1202.1 771.0,1199.7 C772.3,1197.4 773.5,1195.0 774.7,1192.6 C775.9,1190.2 777.0,1187.8 778.1,1185.4 C779.2,1183.0 780.3,1180.5 781.3,1178.1 C782.3,1175.6 783.3,1173.1 784.2,1170.6 C785.1,1168.1 786.0,1165.6 786.9,1163.1 C787.8,1160.6 788.6,1158.0 789.5,1155.5 C790.3,1153.0 791.1,1150.4 792.0,1147.9 C792.8,1145.4 793.6,1142.8 794.4,1140.3 C795.1,1137.7 795.9,1135.2 796.7,1132.6 C797.4,1130.1 798.2,1127.5 798.9,1124.9 C799.6,1122.4 800.3,1119.8 801.0,1117.2 C801.7,1114.7 802.4,1112.1 803.1,1109.5 C803.7,1106.9 804.3,1104.3 804.9,1101.7 C805.5,1099.1 806.1,1096.5 806.7,1093.9 C807.2,1091.3 807.8,1088.7 808.3,1086.1 C808.9,1083.5 809.5,1080.9 810.0,1078.3 C810.6,1075.7 811.2,1073.1 811.8,1070.5 C812.4,1067.9 813.0,1065.3 813.6,1062.7 C814.2,1060.1 814.8,1057.5 815.4,1054.9 C816.0,1052.3 816.6,1049.7 817.2,1047.1 C817.8,1044.5 818.4,1041.9 819.0,1039.3 C819.6,1036.7 820.2,1034.1 820.8,1031.5 C821.4,1028.9 822.0,1026.3 822.6,1023.7 C823.2,1021.1 823.8,1018.5 824.4,1015.9 C825.1,1013.3 825.7,1010.7 826.3,1008.1 C826.9,1005.5 827.5,1002.9 828.2,1000.3 C828.8,997.7 829.4,995.2 830.0,992.6 C830.7,990.0 831.3,987.4 831.9,984.8 C832.5,982.2 833.1,979.6 833.8,977.0 C834.4,974.4 835.0,971.8 835.7,969.2 C836.3,966.6 837.0,964.1 837.6,961.5 C838.3,958.9 839.0,956.3 839.7,953.7 C840.3,951.2 841.0,948.6 841.7,946.0 C842.5,943.4 843.2,940.9 843.9,938.3 C844.7,935.8 845.5,933.2 846.3,930.7 C847.0,928.1 847.9,925.6 848.7,923.0 C849.5,920.5 850.3,918.0 851.2,915.4 C852.0,912.9 852.8,910.4 853.7,907.8 C854.5,905.3 855.4,902.8 856.2,900.2 C857.0,897.7 857.8,895.2 858.7,892.6 C859.5,890.1 860.3,887.6 861.1,885.0 C861.9,882.5 862.7,879.9 863.5,877.4 C864.3,874.8 865.1,872.3 865.9,869.7 C866.7,867.2 867.5,864.7 868.2,862.1 C869.0,859.6 869.8,857.0 870.6,854.5 C871.4,851.9 872.2,849.4 873.0,846.8 C873.7,844.3 874.5,841.7 875.3,839.2 C876.0,836.6 876.8,834.0 877.5,831.5 C878.3,828.9 879.0,826.4 879.7,823.8 C880.4,821.2 881.1,818.6 881.8,816.1 C882.5,813.5 883.2,810.9 883.9,808.3 C884.6,805.8 885.2,803.2 886.0,800.6 C886.7,798.0 887.4,795.5 888.1,792.9 C888.9,790.3 889.6,787.8 890.3,785.2 C891.1,782.7 891.8,780.1 892.6,777.6 C893.4,775.0 894.1,772.4 894.9,769.9 C895.7,767.3 896.4,764.8 897.2,762.2 C898.0,759.7 898.8,757.1 899.6,754.6 C900.4,752.0 901.1,749.5 902.0,747.0 C902.8,744.4 903.6,741.9 904.4,739.3 C905.2,736.8 906.1,734.3 906.9,731.7 C907.7,729.2 908.6,726.7 909.4,724.1 C910.3,721.6 911.1,719.1 911.9,716.5 C912.7,714.0 913.6,711.5 914.4,708.9 C915.2,706.4 915.9,703.8 916.7,701.3 C917.5,698.7 918.3,696.2 919.0,693.6 C919.8,691.1 920.5,688.5 921.3,685.9 C922.1,683.4 922.8,680.8 923.6,678.3 C924.4,675.7 925.2,673.2 926.0,670.7 C926.9,668.1 927.8,665.6 928.7,663.1 C929.7,660.7 930.7,658.2 931.7,655.7 C932.8,653.3 933.9,650.8 935.0,648.4 C936.1,646.0 937.2,643.6 938.3,641.2 C939.5,638.7 940.7,636.4 941.9,634.0 C943.1,631.6 944.2,629.2 945.5,626.8 C946.7,624.5 947.9,622.1 949.3,619.8 C950.6,617.5 952.1,615.2 953.7,613.1 C955.3,611.0 956.9,608.7 958.9,607.1 C961.0,605.5 963.4,603.7 965.8,603.4 C968.2,603.2 971.0,604.5 973.3,605.6 C975.7,606.7 977.9,608.4 979.9,610.1 C981.8,611.9 983.4,614.1 985.0,616.2 C986.6,618.4 987.9,620.7 989.3,623.0 C990.7,625.2 992.1,627.5 993.5,629.8 C994.8,632.1 996.2,634.4 997.5,636.7 C998.8,639.0 1000.0,641.4 1001.3,643.8 C1002.5,646.1 1003.8,648.5 1005.0,650.9 C1006.2,653.2 1007.4,655.6 1008.5,658.0 C1009.7,660.4 1010.8,662.8 1012.0,665.2 C1013.1,667.6 1014.3,670.0 1015.5,672.4 C1016.6,674.8 1017.8,677.2 1019.0,679.6 C1020.2,682.0 1021.4,684.4 1022.5,686.8 C1023.7,689.2 1024.9,691.6 1026.1,694.0 C1027.3,696.4 1028.4,698.7 1029.6,701.1 C1030.8,703.6 1031.9,706.0 1033.0,708.4 C1034.1,710.8 1035.2,713.2 1036.3,715.7 C1037.4,718.1 1038.4,720.6 1039.4,723.1 C1040.4,725.5 1041.4,728.0 1042.4,730.5 C1043.4,732.9 1044.5,735.4 1045.6,737.8 C1046.7,740.2 1047.9,742.6 1049.1,744.9 C1050.3,747.3 1051.5,749.7 1052.7,752.1 C1053.8,754.5 1054.9,756.9 1056.1,759.3 C1057.2,761.7 1058.3,764.1 1059.4,766.6 C1060.6,769.0 1061.7,771.4 1062.9,773.8 C1064.1,776.2 1065.3,778.6 1066.4,780.9 C1067.6,783.3 1068.8,785.7 1070.0,788.1 C1071.3,790.5 1072.5,792.8 1073.7,795.2 C1074.9,797.6 1076.2,799.9 1077.4,802.3 C1078.7,804.6 1080.0,807.0 1081.3,809.3 C1082.6,811.6 1083.9,813.9 1085.3,816.2 C1086.7,818.5 1088.1,820.7 1089.6,822.9 C1091.1,825.1 1092.6,827.3 1094.2,829.5 C1095.7,831.7 1097.3,833.8 1098.9,836.0 C1100.5,838.1 1102.0,840.3 1103.6,842.4 C1105.2,844.6 1106.7,846.7 1108.3,848.9 C1109.9,851.0 1111.5,853.2 1113.1,855.3 C1114.7,857.4 1116.4,859.5 1118.0,861.6 C1119.7,863.6 1121.5,865.6 1123.2,867.7 C1125.0,869.7 1126.7,871.7 1128.5,873.7 C1130.3,875.6 1132.4,877.3 1134.3,879.2 C1136.1,881.1 1137.9,883.1 1139.5,885.2 C1141.1,887.3 1142.5,889.6 1144.0,891.8 C1145.6,894.0 1147.1,896.1 1148.7,898.3 C1150.3,900.4 1151.9,902.5 1153.6,904.6 C1155.2,906.7 1156.9,908.8 1158.7,910.8 C1160.4,912.8 1162.3,914.7 1164.1,916.6 C1165.9,918.6 1167.9,920.4 1169.7,922.3 C1171.6,924.2 1173.6,926.0 1175.4,927.9 C1177.3,929.8 1179.2,931.7 1181.1,933.6 C1182.9,935.5 1184.8,937.5 1186.6,939.4 C1188.5,941.3 1190.4,943.2 1192.3,945.0 C1194.2,946.9 1196.1,948.7 1198.0,950.6 C1200.0,952.4 1201.9,954.2 1203.9,956.0 C1205.8,957.8 1207.8,959.7 1209.7,961.5 C1211.7,963.3 1213.6,965.1 1215.6,966.9 C1217.6,968.7 1219.5,970.5 1221.5,972.3 C1223.5,974.1 1225.4,975.9 1227.4,977.7 C1229.4,979.5 1231.4,981.2 1233.4,983.0 C1235.4,984.7 1237.5,986.5 1239.5,988.2 C1241.5,989.9 1243.6,991.6 1245.7,993.3 C1247.8,994.9 1249.8,996.6 1251.9,998.2 C1254.0,999.9 1256.2,1001.5 1258.3,1003.1 C1260.4,1004.7 1262.5,1006.4 1264.7,1007.9 C1266.8,1009.5 1268.9,1011.1 1271.1,1012.7 C1273.3,1014.3 1275.4,1015.8 1277.6,1017.4 C1279.8,1018.9 1281.9,1020.5 1284.1,1022.0 C1286.3,1023.5 1288.5,1025.0 1290.7,1026.5 C1292.9,1028.0 1295.1,1029.5 1297.3,1031.0 C1299.6,1032.5 1301.8,1033.9 1304.0,1035.4 C1306.3,1036.8 1308.5,1038.2 1310.8,1039.6 C1313.1,1041.1 1315.3,1042.4 1317.6,1043.8 C1319.9,1045.2 1322.2,1046.6 1324.5,1047.9 C1326.8,1049.2 1329.1,1050.6 1331.4,1051.9 C1333.7,1053.2 1336.1,1054.5 1338.4,1055.8 C1340.7,1057.1 1343.1,1058.4 1345.5,1059.6 C1347.8,1060.8 1350.2,1062.0 1352.6,1063.1 C1355.0,1064.3 1357.5,1065.4 1359.9,1066.4 C1362.3,1067.5 1364.8,1068.6 1367.2,1069.6 C1369.7,1070.7 1372.2,1071.7 1374.6,1072.7 C1377.1,1073.7 1379.6,1074.6 1382.1,1075.5 C1384.6,1076.4 1387.1,1077.3 1389.7,1078.1 C1392.2,1078.9 1394.8,1079.7 1397.3,1080.5 C1399.9,1081.3 1402.4,1082.0 1405.0,1082.8 C1407.5,1083.6 1410.1,1084.4 1412.6,1085.2 C1415.1,1086.0 1417.7,1086.8 1420.2,1087.7 C1422.7,1088.5 1425.2,1089.4 1427.8,1090.3 C1430.3,1091.2 1432.8,1092.1 1435.3,1093.0 C1437.8,1093.9 1440.3,1094.8 1442.8,1095.7 C1445.3,1096.6 1447.8,1097.5 1450.4,1098.4 C1452.9,1099.2 1455.4,1100.1 1457.9,1100.9 C1460.5,1101.7 1463.0,1102.5 1465.6,1103.3 C1468.1,1104.1 1470.7,1104.9 1473.2,1105.6 C1475.8,1106.4 1478.3,1107.1 1480.9,1107.9 C1483.5,1108.6 1486.0,1109.3 1488.6,1110.0 C1491.2,1110.8 1493.7,1111.5 1496.3,1112.2 C1498.9,1112.9 1501.5,1113.6 1504.0,1114.3 C1506.6,1114.9 1509.2,1115.6 1511.8,1116.3 C1514.4,1117.0 1516.9,1117.6 1519.5,1118.3 C1522.1,1119.0 1524.7,1119.6 1527.3,1120.3 C1529.9,1120.9 1532.4,1121.6 1535.0,1122.2 C1537.6,1122.8 1540.2,1123.5 1542.8,1124.1 C1545.4,1124.7 1548.0,1125.3 1550.6,1125.9 C1553.2,1126.6 1555.8,1127.2 1558.4,1127.8 C1561.0,1128.4 1563.6,1128.9 1566.2,1129.5 C1568.8,1130.1 1571.4,1130.7 1574.0,1131.2 C1576.6,1131.8 1579.2,1132.3 1581.8,1132.8 C1584.5,1133.4 1587.1,1133.9 1589.7,1134.4 C1592.3,1134.9 1594.9,1135.4 1597.5,1135.9 C1600.2,1136.4 1602.8,1136.9 1605.4,1137.4 C1608.0,1138.0 1610.6,1138.5 1613.2,1139.0 C1615.8,1139.6 1618.4,1140.2 1621.0,1140.8 C1623.6,1141.4 1626.2,1142.0 1628.8,1142.6 C1631.4,1143.2 1634.0,1143.8 1636.6,1144.4 C1639.2,1145.0 1641.8,1145.6 1644.4,1146.1 C1647.1,1146.6 1649.7,1147.1 1652.3,1147.6 C1654.9,1148.0 1657.6,1148.5 1660.2,1148.9 C1662.8,1149.3 1665.5,1149.7 1668.1,1150.2 C1670.7,1150.6 1673.4,1151.0 1676.0,1151.4 C1678.6,1151.9 1681.2,1152.3 1683.9,1152.7 C1686.5,1153.2 1689.1,1153.6 1691.8,1154.1 C1694.4,1154.5 1697.0,1155.0 1699.6,1155.5 C1702.3,1155.9 1704.9,1156.4 1707.5,1156.9 C1710.1,1157.3 1712.8,1157.8 1715.4,1158.3 C1718.0,1158.7 1720.7,1159.2 1723.3,1159.6 C1725.9,1160.0 1728.5,1160.5 1731.2,1160.9 C1733.8,1161.3 1736.4,1161.7 1739.1,1162.1 C1741.7,1162.5 1744.4,1162.9 1747.0,1163.3 C1749.6,1163.7 1752.3,1164.1 1754.9,1164.5 C1757.5,1164.9 1760.2,1165.3 1762.8,1165.6 C1765.5,1166.0 1768.1,1166.4 1770.7,1166.8 C1773.4,1167.2 1776.0,1167.6 1778.6,1168.0 C1781.3,1168.4 1783.9,1168.8 1786.6,1169.2 C1789.2,1169.6 1791.8,1170.0 1794.5,1170.4 C1797.1,1170.8 1799.7,1171.2 1802.4,1171.6 C1805.0,1172.0 1807.7,1172.4 1810.3,1172.7 C1812.9,1173.1 1815.6,1173.5 1818.2,1173.9 C1820.8,1174.3 1823.5,1174.7 1826.1,1175.1 C1828.8,1175.5 1831.4,1175.9 1834.0,1176.3 C1836.7,1176.7 1839.3,1177.1 1841.9,1177.5 C1844.6,1177.9 1847.2,1178.3 1849.9,1178.7 C1852.5,1179.1 1855.1,1179.5 1857.8,1179.9 C1860.4,1180.3 1863.0,1180.7 1865.7,1181.1 C1868.3,1181.5 1870.9,1181.9 1873.6,1182.3 C1876.2,1182.7 1878.8,1183.1 1881.5,1183.5 C1884.1,1183.9 1886.8,1184.3 1889.4,1184.7 C1892.0,1185.1 1894.7,1185.5 1897.3,1185.8 C1900.0,1186.2 1902.6,1186.5 1905.3,1186.8 C1907.9,1187.2 1910.5,1187.5 1913.2,1187.8 C1915.8,1188.1 1918.5,1188.4 1921.1,1188.6 C1923.8,1188.9 1926.5,1189.2 1929.1,1189.4 C1931.8,1189.6 1934.4,1189.9 1937.1,1190.0 C1939.7,1190.2 1942.4,1190.3 1945.1,1190.3 C1947.7,1190.4 1950.4,1190.3 1953.1,1190.3 C1955.7,1190.2 1958.4,1190.1 1961.0,1190.0 C1963.7,1189.9 1966.4,1189.7 1969.0,1189.7 C1971.7,1189.6 1974.4,1189.6 1977.0,1189.7 C1979.7,1189.7 1982.3,1189.9 1985.0,1190.1 C1987.7,1190.3 1990.3,1190.5 1993.0,1190.8 C1995.6,1191.1 1998.3,1191.4 2000.9,1191.8 C2003.6,1192.1 2006.2,1192.4 2008.8,1192.8 C2011.5,1193.2 2014.1,1193.6 2016.8,1194.0 C2019.4,1194.4 2022.0,1194.8 2024.7,1195.2 C2027.3,1195.6 2029.9,1196.1 2032.5,1196.6 C2035.2,1197.1 2037.8,1197.6 2040.4,1198.1 C2043.0,1198.6 2045.6,1199.2 2048.2,1199.7 C2050.8,1200.3 2053.4,1200.9 2056.0,1201.5 C2058.6,1202.1 2061.2,1202.7 2063.8,1203.3 C2066.4,1204.0 2069.0,1204.6 2071.6,1205.2 C2074.2,1205.8 2076.8,1206.4 2079.4,1207.0 C2082.0,1207.6 2084.6,1208.2 2087.2,1208.8 C2089.7,1209.4 2093.0,1210.2 2094.9,1210.7 C2096.8,1211.1 2097.9,1211.4 2098.5,1211.5"/>
<path stroke="#FF0000" d="M369.0,46.0 C369.0,47.3 369.1,51.3 369.2,54.0 C369.2,56.7 369.2,59.3 369.3,62.0 C369.3,64.7 369.4,67.3 369.4,70.0 C369.5,72.7 369.5,75.3 369.6,78.0 C369.6,80.7 369.7,83.3 369.8,86.0 C369.8,88.7 369.9,91.3 369.9,94.0 C370.0,96.7 370.1,99.3 370.1,102.0 C370.2,104.7 370.3,107.3 370.4,110.0 C370.4,112.7 370.5,115.3 370.6,118.0 C370.7,120.6 370.8,123.3 370.9,126.0 C371.0,128.6 371.1,131.3 371.2,134.0 C371.4,136.6 371.5,139.3 371.6,142.0 C371.8,144.6 371.9,147.3 372.0,149.9 C372.2,152.6 372.3,155.3 372.5,157.9 C372.6,160.6 372.8,163.3 372.9,165.9 C373.1,168.6 373.2,171.2 373.4,173.9 C373.5,176.6 373.7,179.2 373.8,181.9 C374.0,184.6 374.1,187.2 374.3,189.9 C374.4,192.5 374.6,195.2 374.7,197.9 C374.9,200.5 375.0,203.2 375.2,205.9 C375.3,208.5 375.5,211.2 375.6,213.8 C375.8,216.5 375.9,219.2 376.0,221.8 C376.2,224.5 376.3,227.2 376.5,229.8 C376.6,232.5 376.8,235.1 376.9,237.8 C377.0,240.5 377.2,243.1 377.3,245.8 C377.5,248.5 377.6,251.1 377.7,253.8 C377.9,256.5 378.0,259.1 378.1,261.8 C378.3,264.4 378.4,267.1 378.5,269.8 C378.7,272.4 378.8,275.1 378.9,277.8 C379.0,280.4 379.2,283.1 379.3,285.8 C379.4,288.4 379.5,291.1 379.6,293.7 C379.7,296.4 379.8,299.1 379.9,301.7 C380.0,304.4 380.1,307.1 380.2,309.7 C380.3,312.4 380.4,315.1 380.5,317.7 C380.6,320.4 380.6,323.1 380.7,325.7 C380.8,328.4 380.9,331.1 380.9,333.7 C381.0,336.4 381.1,339.1 381.2,341.7 C381.2,344.4 381.3,347.1 381.4,349.7 C381.5,352.4 381.6,355.0 381.7,357.7 C381.8,360.4 381.9,363.0 382.0,365.7 C382.1,368.4 382.2,371.0 382.3,373.7 C382.4,376.4 382.6,379.0 382.7,381.7 C382.8,384.4 383.0,387.0 383.1,389.7 C383.3,392.3 383.4,395.0 383.6,397.7 C383.7,400.3 383.9,403.0 384.0,405.6 C384.2,408.3 384.4,411.0 384.5,413.6 C384.7,416.3 384.9,419.0 385.1,421.6 C385.2,424.3 385.4,426.9 385.6,429.6 C385.7,432.3 385.9,434.9 386.1,437.6 C386.2,440.2 386.4,442.9 386.5,445.6 C386.7,448.2 386.8,450.9 387.0,453.6 C387.1,456.2 387.3,458.9 387.4,461.5 C387.6,464.2 387.7,466.9 387.8,469.5 C388.0,472.2 388.1,474.9 388.2,477.5 C388.3,480.2 388.5,482.9 388.6,485.5 C388.7,488.2 388.8,490.8 389.0,493.5 C389.1,496.2 389.2,498.8 389.3,501.5 C389.4,504.2 389.6,506.8 389.7,509.5 C389.8,512.2 390.0,514.8 390.1,517.5 C390.2,520.1 390.4,522.8 390.5,525.5 C390.7,528.1 390.8,530.8 391.0,533.5 C391.1,536.1 391.3,538.8 391.5,541.4 C391.6,544.1 391.8,546.8 392.0,549.4 C392.2,552.1 392.4,554.7 392.6,557.4 C392.8,560.1 393.0,562.7 393.2,565.4 C393.4,568.0 393.6,570.7 393.8,573.4 C394.0,576.0 394.2,578.7 394.4,581.3 C394.6,584.0 394.8,586.6 395.0,589.3 C395.3,592.0 395.5,594.6 395.7,597.3 C395.9,599.9 396.1,602.6 396.3,605.3 C396.5,607.9 396.7,610.6 396.9,613.2 C397.1,615.9 397.2,618.6 397.4,621.2 C397.6,623.9 397.8,626.5 397.9,629.2 C398.1,631.9 398.2,634.5 398.4,637.2 C398.5,639.9 398.7,642.5 398.8,645.2 C399.0,647.8 399.1,650.5 399.2,653.2 C399.4,655.8 399.5,658.5 399.6,661.2 C399.7,663.8 399.9,666.5 400.0,669.1 C400.1,671.8 400.3,674.5 400.4,677.1 C400.5,679.8 400.7,682.5 400.8,685.1 C401.0,687.8 401.1,690.4 401.3,693.1 C401.5,695.8 401.7,698.4 401.9,701.1 C402.1,703.7 402.4,706.4 402.7,709.0 C402.9,711.7 403.2,714.3 403.6,717.0 C403.9,719.6 404.2,722.3 404.6,724.9 C405.0,727.6 405.4,730.2 405.7,732.8 C406.1,735.5 406.5,738.1 406.9,740.7 C407.3,743.4 407.6,746.0 408.0,748.7 C408.4,751.3 408.7,753.9 409.1,756.6 C409.4,759.2 409.7,761.9 410.1,764.5 C410.4,767.2 410.7,769.8 411.1,772.5 C411.4,775.1 411.7,777.8 412.0,780.4 C412.3,783.1 412.6,785.7 413.0,788.4 C413.3,791.0 413.6,793.6 413.9,796.3 C414.2,798.9 414.5,801.6 414.8,804.2 C415.2,806.9 415.5,809.5 415.9,812.2 C416.2,814.8 416.6,817.4 417.0,820.1 C417.4,822.7 417.9,825.3 418.4,828.0 C418.9,830.6 419.4,833.2 419.9,835.8 C420.5,838.4 421.0,841.0 421.6,843.6 C422.2,846.2 422.9,848.8 423.6,851.4 C424.2,853.9 424.9,856.5 425.6,859.1 C426.4,861.6 427.1,864.2 427.9,866.7 C428.7,869.3 429.6,871.8 430.4,874.3 C431.2,876.9 431.9,879.5 432.8,882.0 C433.7,884.5 434.7,886.9 435.8,889.4 C436.8,891.8 437.9,894.3 439.0,896.7 C440.1,899.1 441.2,901.6 442.4,903.9 C443.6,906.3 444.8,908.7 446.1,911.0 C447.5,913.3 448.8,915.6 450.4,917.8 C451.9,920.0 453.5,922.1 455.3,924.1 C457.0,926.1 459.0,927.9 460.9,929.7 C462.9,931.5 465.0,933.1 467.2,934.7 C469.3,936.3 471.5,937.9 473.7,939.3 C475.9,940.8 478.2,942.2 480.5,943.6 C482.8,944.9 485.1,946.2 487.4,947.6 C489.7,948.9 492.0,950.3 494.3,951.6 C496.6,953.0 498.9,954.3 501.2,955.7 C503.5,957.0 505.8,958.4 508.1,959.7 C510.4,961.1 512.7,962.4 515.0,963.7 C517.4,965.0 519.7,966.3 522.0,967.6 C524.4,968.9 526.7,970.2 529.0,971.4 C531.4,972.7 533.7,974.0 536.1,975.2 C538.4,976.5 540.8,977.8 543.2,979.0 C545.5,980.2 547.9,981.3 550.3,982.5 C552.7,983.7 555.2,984.8 557.5,986.0 C559.9,987.2 562.2,988.5 564.5,989.9 C566.8,991.2 569.1,992.7 571.3,994.1 C573.6,995.5 575.8,997.0 578.0,998.5 C580.2,999.9 582.5,1001.4 584.7,1002.9 C586.9,1004.4 589.1,1005.9 591.3,1007.4 C593.4,1009.0 595.6,1010.6 597.6,1012.3 C599.7,1013.9 601.8,1015.6 603.8,1017.4 C605.8,1019.2 607.7,1021.0 609.7,1022.8 C611.6,1024.6 613.5,1026.5 615.4,1028.4 C617.3,1030.2 619.2,1032.2 621.0,1034.1 C622.8,1036.0 624.6,1038.0 626.4,1040.0 C628.2,1041.9 630.0,1044.0 631.7,1046.0 C633.4,1048.0 635.1,1050.1 636.7,1052.2 C638.3,1054.3 639.9,1056.5 641.4,1058.7 C642.9,1060.9 644.4,1063.1 645.9,1065.3 C647.3,1067.5 648.8,1069.8 650.1,1072.1 C651.5,1074.4 652.8,1076.7 654.0,1079.1 C655.2,1081.4 656.4,1083.8 657.5,1086.3 C658.6,1088.7 659.5,1091.2 660.5,1093.7 C661.6,1096.1 662.6,1098.6 663.7,1101.0 C664.7,1103.5 665.9,1105.9 667.0,1108.3 C668.1,1110.7 669.2,1113.1 670.4,1115.5 C671.5,1117.9 672.7,1120.4 673.9,1122.7 C675.0,1125.1 676.2,1127.5 677.4,1129.9 C678.6,1132.3 679.8,1134.7 681.0,1137.1 C682.2,1139.4 683.4,1141.8 684.6,1144.2 C685.8,1146.6 687.0,1149.0 688.2,1151.4 C689.3,1153.8 690.5,1156.2 691.7,1158.6 C692.9,1161.0 694.1,1163.3 695.3,1165.7 C696.5,1168.1 697.8,1170.4 699.1,1172.7 C700.4,1175.1 701.6,1177.5 703.1,1179.6 C704.7,1181.8 706.3,1183.9 708.2,1185.7 C710.1,1187.5 712.3,1189.0 714.6,1190.4 C716.9,1191.7 719.3,1193.0 721.8,1193.9 C724.2,1194.8 726.9,1195.9 729.4,1195.8 C731.9,1195.7 734.5,1194.5 736.7,1193.1 C738.8,1191.7 740.7,1189.6 742.4,1187.6 C744.1,1185.5 745.6,1183.3 747.0,1181.0 C748.4,1178.8 749.8,1176.5 751.0,1174.1 C752.3,1171.8 753.6,1169.5 754.8,1167.1 C755.9,1164.7 757.0,1162.2 758.1,1159.8 C759.1,1157.3 760.0,1154.8 760.8,1152.3 C761.7,1149.8 762.4,1147.2 763.2,1144.6 C764.0,1142.1 764.7,1139.5 765.4,1136.9 C766.1,1134.4 766.7,1131.8 767.4,1129.2 C768.1,1126.6 768.7,1124.0 769.4,1121.4 C770.0,1118.9 770.7,1116.3 771.3,1113.7 C771.9,1111.1 772.5,1108.5 773.1,1105.9 C773.7,1103.3 774.2,1100.7 774.8,1098.1 C775.3,1095.5 775.9,1092.8 776.4,1090.2 C777.0,1087.6 777.5,1085.0 778.1,1082.4 C778.7,1079.8 779.3,1077.2 780.0,1074.6 C780.6,1072.1 781.3,1069.5 782.0,1066.9 C782.6,1064.3 783.3,1061.7 784.0,1059.2 C784.7,1056.6 785.4,1054.0 786.1,1051.4 C786.9,1048.9 787.6,1046.3 788.3,1043.7 C789.0,1041.2 789.8,1038.6 790.5,1036.0 C791.2,1033.5 792.0,1030.9 792.7,1028.4 C793.4,1025.8 794.2,1023.2 794.9,1020.7 C795.7,1018.1 796.4,1015.6 797.2,1013.0 C798.0,1010.5 798.7,1007.9 799.5,1005.3 C800.3,1002.8 801.1,1000.2 801.8,997.7 C802.6,995.1 803.4,992.6 804.2,990.1 C805.0,987.5 805.8,985.0 806.6,982.4 C807.5,979.9 808.3,977.4 809.1,974.8 C809.9,972.3 810.7,969.7 811.5,967.2 C812.4,964.7 813.2,962.1 814.0,959.6 C814.8,957.0 815.6,954.5 816.4,952.0 C817.3,949.4 818.1,946.9 818.9,944.3 C819.7,941.8 820.5,939.3 821.3,936.7 C822.1,934.2 822.8,931.6 823.6,929.1 C824.4,926.5 825.2,924.0 826.0,921.4 C826.8,918.9 827.6,916.3 828.4,913.8 C829.2,911.2 830.0,908.7 830.7,906.1 C831.5,903.6 832.3,901.1 833.1,898.5 C833.9,896.0 834.7,893.4 835.4,890.9 C836.2,888.3 837.0,885.7 837.7,883.2 C838.5,880.6 839.3,878.1 840.0,875.5 C840.8,873.0 841.5,870.4 842.3,867.9 C843.0,865.3 843.8,862.7 844.5,860.2 C845.3,857.6 846.1,855.1 846.8,852.5 C847.6,850.0 848.4,847.4 849.1,844.9 C849.9,842.3 850.7,839.8 851.5,837.2 C852.3,834.7 853.2,832.1 854.0,829.6 C854.9,827.1 855.7,824.6 856.6,822.0 C857.5,819.5 858.3,817.0 859.2,814.5 C860.1,812.0 861.0,809.5 861.9,807.0 C862.8,804.4 863.7,801.9 864.6,799.4 C865.5,796.9 866.4,794.4 867.3,791.9 C868.2,789.4 869.0,786.8 869.9,784.3 C870.8,781.8 871.7,779.3 872.5,776.8 C873.4,774.2 874.3,771.7 875.1,769.2 C876.0,766.7 876.9,764.2 877.8,761.6 C878.7,759.1 879.6,756.6 880.5,754.1 C881.4,751.6 882.3,749.1 883.2,746.6 C884.1,744.1 885.0,741.6 885.9,739.1 C886.9,736.6 887.8,734.1 888.7,731.6 C889.7,729.1 890.6,726.6 891.6,724.1 C892.5,721.6 893.4,719.1 894.4,716.6 C895.3,714.1 896.3,711.6 897.3,709.1 C898.2,706.7 899.2,704.2 900.2,701.7 C901.1,699.2 902.1,696.7 903.1,694.3 C904.1,691.8 905.1,689.3 906.1,686.8 C907.1,684.3 908.0,681.9 909.0,679.4 C909.9,676.9 910.9,674.4 911.8,671.9 C912.7,669.4 913.5,666.8 914.4,664.3 C915.3,661.8 916.2,659.3 917.1,656.8 C918.0,654.3 919.0,651.8 920.0,649.4 C921.1,646.9 922.1,644.4 923.2,642.0 C924.3,639.6 925.5,637.2 926.7,634.8 C927.9,632.4 929.2,630.1 930.6,627.8 C931.9,625.5 933.4,623.3 935.0,621.2 C936.6,619.1 938.4,617.1 940.1,615.1 C941.9,613.0 943.7,611.1 945.4,609.0 C947.1,607.0 948.5,604.7 950.2,602.6 C951.8,600.5 953.4,598.3 955.3,596.5 C957.2,594.6 959.2,592.8 961.5,591.7 C963.9,590.6 966.8,589.9 969.3,590.0 C971.9,590.1 974.7,590.8 976.8,592.1 C979.0,593.5 980.5,595.9 982.2,598.0 C983.9,600.1 985.3,602.3 986.9,604.5 C988.4,606.7 989.9,608.9 991.4,611.1 C992.8,613.3 994.3,615.6 995.7,617.9 C997.1,620.1 998.4,622.4 999.7,624.7 C1001.1,627.0 1002.5,629.3 1003.8,631.6 C1005.2,633.9 1006.5,636.2 1007.9,638.5 C1009.2,640.8 1010.5,643.2 1011.8,645.5 C1013.1,647.8 1014.3,650.2 1015.6,652.5 C1016.8,654.9 1018.1,657.3 1019.3,659.6 C1020.4,662.0 1021.6,664.4 1022.7,666.8 C1023.9,669.2 1025.0,671.7 1026.0,674.1 C1027.1,676.5 1028.2,679.0 1029.3,681.4 C1030.4,683.9 1031.5,686.3 1032.7,688.7 C1033.8,691.1 1035.0,693.4 1036.3,695.8 C1037.5,698.1 1038.8,700.5 1040.1,702.8 C1041.4,705.2 1042.7,707.5 1043.9,709.8 C1045.2,712.2 1046.4,714.6 1047.5,717.0 C1048.7,719.4 1049.8,721.8 1050.9,724.2 C1052.1,726.6 1053.2,729.0 1054.4,731.4 C1055.7,733.7 1057.0,736.0 1058.4,738.3 C1059.8,740.5 1061.4,742.7 1062.9,744.9 C1064.4,747.1 1066.0,749.2 1067.6,751.4 C1069.2,753.5 1070.8,755.6 1072.3,757.8 C1073.9,759.9 1075.5,762.1 1077.1,764.3 C1078.6,766.4 1080.2,768.6 1081.8,770.7 C1083.3,772.9 1084.9,775.1 1086.4,777.2 C1087.9,779.4 1089.4,781.6 1091.0,783.8 C1092.5,786.0 1093.9,788.2 1095.4,790.4 C1097.0,792.6 1098.4,794.9 1100.0,797.0 C1101.6,799.2 1103.1,801.3 1104.8,803.4 C1106.4,805.5 1108.1,807.6 1109.8,809.6 C1111.5,811.7 1113.2,813.7 1115.0,815.7 C1116.7,817.7 1118.5,819.7 1120.3,821.6 C1122.1,823.6 1124.0,825.5 1125.8,827.5 C1127.6,829.5 1129.3,831.5 1131.1,833.4 C1132.9,835.4 1134.7,837.4 1136.5,839.4 C1138.3,841.3 1140.1,843.3 1142.0,845.2 C1143.8,847.1 1145.7,849.0 1147.6,850.8 C1149.5,852.7 1151.5,854.5 1153.4,856.4 C1155.4,858.2 1157.3,860.0 1159.3,861.8 C1161.3,863.5 1163.3,865.3 1165.3,867.0 C1167.3,868.8 1169.3,870.5 1171.4,872.3 C1173.4,874.0 1175.5,875.7 1177.5,877.4 C1179.6,879.1 1181.6,880.8 1183.7,882.5 C1185.8,884.2 1187.8,885.8 1189.9,887.5 C1192.0,889.2 1194.1,890.8 1196.2,892.4 C1198.3,894.0 1200.5,895.6 1202.6,897.2 C1204.8,898.8 1207.0,900.3 1209.2,901.8 C1211.4,903.3 1213.6,904.7 1215.9,906.2 C1218.1,907.6 1220.4,909.0 1222.6,910.4 C1224.9,911.8 1227.2,913.2 1229.4,914.7 C1231.7,916.1 1233.9,917.5 1236.2,918.9 C1238.4,920.4 1240.7,921.8 1243.0,923.2 C1245.2,924.6 1247.5,926.0 1249.7,927.5 C1252.0,928.9 1254.3,930.3 1256.5,931.6 C1258.8,933.0 1261.1,934.4 1263.4,935.8 C1265.7,937.1 1268.0,938.4 1270.3,939.7 C1272.7,941.1 1275.0,942.3 1277.3,943.6 C1279.7,944.9 1282.0,946.2 1284.4,947.5 C1286.7,948.7 1289.1,950.0 1291.4,951.3 C1293.8,952.5 1296.1,953.8 1298.5,955.0 C1300.8,956.3 1303.2,957.5 1305.6,958.7 C1307.9,959.9 1310.3,961.1 1312.7,962.2 C1315.1,963.4 1317.6,964.5 1320.0,965.6 C1322.4,966.7 1324.9,967.8 1327.3,968.8 C1329.8,969.9 1332.2,970.9 1334.7,971.9 C1337.1,972.9 1339.6,973.9 1342.1,974.9 C1344.6,975.9 1347.0,976.9 1349.5,977.9 C1352.0,978.8 1354.5,979.8 1357.0,980.7 C1359.5,981.6 1362.0,982.6 1364.5,983.5 C1367.0,984.4 1369.5,985.3 1372.1,986.1 C1374.6,987.0 1377.1,987.9 1379.6,988.7 C1382.2,989.5 1384.7,990.3 1387.3,991.1 C1389.8,991.9 1392.4,992.6 1394.9,993.4 C1397.5,994.1 1400.1,994.8 1402.6,995.5 C1405.2,996.2 1407.8,996.9 1410.4,997.6 C1413.0,998.2 1415.5,998.9 1418.1,999.5 C1420.7,1000.2 1423.3,1000.8 1425.9,1001.5 C1428.5,1002.2 1431.1,1002.8 1433.6,1003.5 C1436.2,1004.1 1438.8,1004.8 1441.4,1005.5 C1444.0,1006.1 1446.6,1006.8 1449.1,1007.4 C1451.7,1008.1 1454.3,1008.8 1456.9,1009.4 C1459.5,1010.0 1462.1,1010.7 1464.7,1011.3 C1467.3,1011.9 1469.9,1012.5 1472.5,1013.1 C1475.1,1013.7 1477.7,1014.3 1480.3,1014.8 C1482.9,1015.3 1485.5,1015.8 1488.1,1016.3 C1490.8,1016.8 1493.4,1017.2 1496.0,1017.7 C1498.6,1018.1 1501.3,1018.5 1503.9,1018.9 C1506.5,1019.4 1509.2,1019.8 1511.8,1020.2 C1514.4,1020.6 1517.1,1021.0 1519.7,1021.4 C1522.4,1021.8 1525.0,1022.2 1527.6,1022.6 C1530.3,1023.1 1532.9,1023.5 1535.5,1023.9 C1538.2,1024.3 1540.8,1024.8 1543.4,1025.3 C1546.0,1025.7 1548.7,1026.2 1551.3,1026.6 C1553.9,1027.1 1556.5,1027.6 1559.2,1028.1 C1561.8,1028.5 1564.4,1029.0 1567.0,1029.5 C1569.7,1029.9 1572.3,1030.4 1574.9,1030.8 C1577.6,1031.2 1580.2,1031.6 1582.8,1032.0 C1585.5,1032.3 1588.1,1032.7 1590.8,1033.0 C1593.4,1033.2 1596.1,1033.5 1598.7,1033.8 C1601.4,1034.0 1604.0,1034.2 1606.7,1034.4 C1609.4,1034.7 1612.0,1034.9 1614.7,1035.1 C1617.3,1035.2 1620.0,1035.4 1622.7,1035.6 C1625.3,1035.8 1628.0,1035.9 1630.6,1036.1 C1633.3,1036.2 1636.0,1036.4 1638.6,1036.6 C1641.3,1036.8 1643.9,1037.0 1646.6,1037.2 C1649.3,1037.4 1651.9,1037.7 1654.6,1037.9 C1657.2,1038.2 1659.9,1038.4 1662.5,1038.7 C1665.2,1039.0 1667.8,1039.3 1670.5,1039.6 C1673.1,1039.9 1675.8,1040.2 1678.4,1040.5 C1681.1,1040.8 1683.7,1041.1 1686.4,1041.4 C1689.0,1041.7 1691.7,1042.0 1694.3,1042.3 C1697.0,1042.7 1699.6,1043.0 1702.3,1043.3 C1704.9,1043.6 1707.6,1044.0 1710.2,1044.3 C1712.8,1044.6 1715.5,1045.0 1718.1,1045.3 C1720.8,1045.7 1723.4,1046.0 1726.1,1046.3 C1728.7,1046.7 1731.4,1047.0 1734.0,1047.3 C1736.7,1047.7 1739.3,1048.0 1741.9,1048.3 C1744.6,1048.7 1747.2,1049.0 1749.9,1049.3 C1752.5,1049.7 1755.2,1050.0 1757.8,1050.3 C1760.5,1050.7 1763.1,1051.0 1765.8,1051.3 C1768.4,1051.6 1771.1,1051.9 1773.7,1052.2 C1776.4,1052.5 1779.0,1052.8 1781.7,1053.1 C1784.3,1053.4 1787.0,1053.6 1789.6,1053.9 C1792.3,1054.2 1794.9,1054.5 1797.6,1054.7 C1800.2,1055.0 1802.9,1055.2 1805.5,1055.5 C1808.2,1055.7 1810.9,1056.0 1813.5,1056.2 C1816.2,1056.4 1818.8,1056.6 1821.5,1056.8 C1824.1,1057.0 1826.8,1057.2 1829.5,1057.4 C1832.1,1057.6 1834.8,1057.8 1837.4,1058.0 C1840.1,1058.2 1842.8,1058.3 1845.4,1058.5 C1848.1,1058.7 1850.7,1058.9 1853.4,1059.2 C1856.1,1059.4 1858.7,1059.6 1861.4,1059.9 C1864.0,1060.1 1866.7,1060.4 1869.3,1060.6 C1872.0,1060.9 1874.6,1061.2 1877.3,1061.4 C1879.9,1061.7 1882.6,1062.0 1885.2,1062.3 C1887.9,1062.5 1890.5,1062.8 1893.2,1063.1 C1895.9,1063.4 1898.5,1063.6 1901.2,1063.9 C1903.8,1064.2 1906.5,1064.5 1909.1,1064.7 C1911.8,1065.0 1914.4,1065.3 1917.1,1065.5 C1919.7,1065.8 1922.4,1066.1 1925.0,1066.3 C1927.7,1066.6 1930.3,1066.9 1933.0,1067.1 C1935.7,1067.4 1938.3,1067.6 1941.0,1067.8 C1943.6,1068.1 1946.3,1068.3 1948.9,1068.5 C1951.6,1068.7 1954.3,1068.9 1956.9,1069.1 C1959.6,1069.3 1962.2,1069.4 1964.9,1069.6 C1967.6,1069.8 1970.2,1070.0 1972.9,1070.2 C1975.5,1070.4 1978.2,1070.6 1980.8,1070.8 C1983.5,1071.1 1986.2,1071.3 1988.8,1071.6 C1991.5,1071.9 1994.1,1072.2 1996.8,1072.5 C1999.4,1072.8 2002.1,1073.1 2004.7,1073.4 C2007.3,1073.8 2010.0,1074.1 2012.6,1074.5 C2015.3,1074.8 2017.9,1075.2 2020.6,1075.5 C2023.2,1075.9 2025.9,1076.2 2028.5,1076.6 C2031.1,1076.9 2033.8,1077.3 2036.4,1077.6 C2039.1,1078.0 2041.7,1078.3 2044.4,1078.7 C2047.0,1079.0 2049.6,1079.4 2052.3,1079.7 C2054.9,1080.1 2057.6,1080.4 2060.2,1080.8 C2062.9,1081.2 2065.5,1081.6 2068.1,1081.9 C2070.8,1082.3 2073.4,1082.7 2076.0,1083.1 C2078.7,1083.5 2081.3,1083.9 2084.0,1084.3 C2086.6,1084.7 2089.4,1085.1 2091.9,1085.5 C2094.3,1085.9 2097.4,1086.3 2098.5,1086.5"/>
</g>
<text x="254.0" y="1406.3" text-anchor="end" letter-spacing="-0.80" font-family="Liberation Sans, Arial, sans-serif" font-size="58" fill="#000">0.0</text>
<text x="254.0" y="1071.0" text-anchor="end" letter-spacing="-0.80" font-family="Liberation Sans, Arial, sans-serif" font-size="58" fill="#000">0.5</text>
<text x="254.0" y="735.7" text-anchor="end" letter-spacing="-0.80" font-family="Liberation Sans, Arial, sans-serif" font-size="58" fill="#000">1.0</text>
<text x="254.0" y="400.4" text-anchor="end" letter-spacing="-0.80" font-family="Liberation Sans, Arial, sans-serif" font-size="58" fill="#000">1.5</text>
<text x="254.0" y="65.1" text-anchor="end" letter-spacing="-0.80" font-family="Liberation Sans, Arial, sans-serif" font-size="58" fill="#000">2.0</text>
<text x="297.7" y="1477.0" text-anchor="middle" letter-spacing="-0.90" font-family="Liberation Sans, Arial, sans-serif" font-size="58" fill="#000">200</text>
<text x="658.0" y="1477.0" text-anchor="middle" letter-spacing="-0.90" font-family="Liberation Sans, Arial, sans-serif" font-size="58" fill="#000">300</text>
<text x="1018.2" y="1477.0" text-anchor="middle" letter-spacing="-0.90" font-family="Liberation Sans, Arial, sans-serif" font-size="58" fill="#000">400</text>
<text x="1378.5" y="1477.0" text-anchor="middle" letter-spacing="-0.90" font-family="Liberation Sans, Arial, sans-serif" font-size="58" fill="#000">500</text>
<text x="1738.7" y="1477.0" text-anchor="middle" letter-spacing="-0.90" font-family="Liberation Sans, Arial, sans-serif" font-size="58" fill="#000">600</text>
<text x="2099.0" y="1477.0" text-anchor="middle" letter-spacing="-0.90" font-family="Liberation Sans, Arial, sans-serif" font-size="58" fill="#000">700</text>
<text x="1201.1" y="1586.0" text-anchor="middle" letter-spacing="0.38" font-family="Liberation Sans, Arial, sans-serif" font-size="69.0" fill="#000">Wavelength (nm)</text>
<text transform="translate(70.0,745.5) rotate(-90)" text-anchor="middle" font-family="Liberation Sans, Arial, sans-serif" font-size="69.0" fill="#000">Absorbance</text>
<text x="419.2" y="1293.6" text-anchor="middle" fill="#009898" font-family="Liberation Sans, Arial, sans-serif" font-size="61.5" letter-spacing="-1.08">(a)</text>
<text x="659.4" y="696.0" text-anchor="middle" fill="#960000" font-family="Liberation Sans, Arial, sans-serif" font-size="61.5" letter-spacing="1.60">(b)</text>
<text x="657.1" y="250.3" text-anchor="middle" fill="#0064AA" font-family="Liberation Sans, Arial, sans-serif" font-size="61.5" letter-spacing="-0.60">(c)</text>
<text x="609.0" y="1248.2" text-anchor="middle" fill="#9300FF" font-family="Liberation Sans, Arial, sans-serif" font-size="61.5" letter-spacing="0.84">(d)</text>
<text x="981.6" y="880.7" text-anchor="middle" fill="#FF8000" font-family="Liberation Sans, Arial, sans-serif" font-size="61.5" letter-spacing="-2.08">(e)</text>
<text x="1395.2" y="1050.5" text-anchor="middle" fill="#808000" font-family="Liberation Sans, Arial, sans-serif" font-size="61.5" letter-spacing="3.16">(f)</text>
<text x="1742.1" y="1009.9" text-anchor="middle" fill="#FF0000" font-family="Liberation Sans, Arial, sans-serif" font-size="61.5" letter-spacing="1.04">(g)</text>
</svg>
</body></html>
